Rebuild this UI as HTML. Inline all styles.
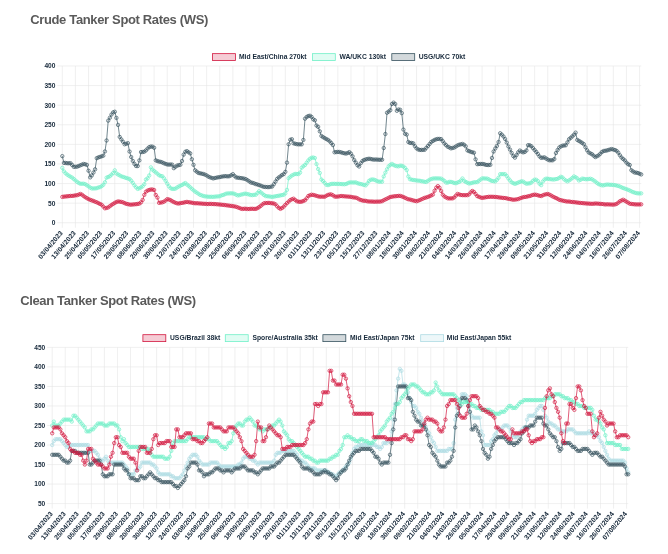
<!DOCTYPE html>
<html lang="en"><head><meta charset="utf-8"><title>Tanker Spot Rates</title>
<style>
html,body{margin:0;padding:0;background:#fff;}
body{width:668px;height:554px;overflow:hidden;font-family:"Liberation Sans",sans-serif;}
svg{display:block;position:absolute;left:0;top:0;will-change:transform;opacity:0.999}
svg text{font-family:"Liberation Sans",sans-serif;font-weight:700;font-size:6.6px;fill:#16283a;}
svg text.lg{font-size:6.75px}
svg text.xl{font-size:6.85px}
svg text.title{font-size:13px;fill:#5a5a5a;letter-spacing:-0.35px}
</style></head><body>
<svg width="668" height="554" viewBox="0 0 668 554">
<text class="title" x="30.2" y="23.9">Crude Tanker Spot Rates (WS)</text>
<path d="M57.30 222.75H641.22M57.30 203.16H641.22M57.30 183.56H641.22M57.30 163.97H641.22M57.30 144.38H641.22M57.30 124.78H641.22M57.30 105.19H641.22M57.30 85.59H641.22M57.30 66.00H641.22M62.30 66.00V227.75M75.42 66.00V227.75M88.54 66.00V227.75M101.66 66.00V227.75M114.78 66.00V227.75M127.90 66.00V227.75M141.02 66.00V227.75M154.14 66.00V227.75M167.26 66.00V227.75M180.38 66.00V227.75M193.50 66.00V227.75M206.62 66.00V227.75M219.74 66.00V227.75M232.86 66.00V227.75M245.98 66.00V227.75M259.10 66.00V227.75M272.22 66.00V227.75M285.34 66.00V227.75M298.46 66.00V227.75M311.58 66.00V227.75M324.70 66.00V227.75M337.82 66.00V227.75M350.94 66.00V227.75M364.06 66.00V227.75M377.18 66.00V227.75M390.30 66.00V227.75M403.42 66.00V227.75M416.54 66.00V227.75M429.66 66.00V227.75M442.78 66.00V227.75M455.90 66.00V227.75M469.02 66.00V227.75M482.14 66.00V227.75M495.26 66.00V227.75M508.38 66.00V227.75M521.50 66.00V227.75M534.62 66.00V227.75M547.74 66.00V227.75M560.86 66.00V227.75M573.98 66.00V227.75M587.10 66.00V227.75M600.22 66.00V227.75M613.34 66.00V227.75M626.46 66.00V227.75M639.58 66.00V227.75" stroke="#e6e6e6" stroke-width="0.6" fill="none"/>
<text x="55.40" y="225.10" text-anchor="end">0</text>
<text x="55.40" y="205.51" text-anchor="end">50</text>
<text x="55.40" y="185.91" text-anchor="end">100</text>
<text x="55.40" y="166.32" text-anchor="end">150</text>
<text x="55.40" y="146.72" text-anchor="end">200</text>
<text x="55.40" y="127.13" text-anchor="end">250</text>
<text x="55.40" y="107.54" text-anchor="end">300</text>
<text x="55.40" y="87.94" text-anchor="end">350</text>
<text x="55.40" y="68.35" text-anchor="end">400</text>
<text transform="translate(63.20 233.25) rotate(-50)" text-anchor="end" class="xl">03/04/2023</text>
<text transform="translate(76.32 233.25) rotate(-50)" text-anchor="end" class="xl">13/04/2023</text>
<text transform="translate(89.44 233.25) rotate(-50)" text-anchor="end" class="xl">25/04/2023</text>
<text transform="translate(102.56 233.25) rotate(-50)" text-anchor="end" class="xl">05/05/2023</text>
<text transform="translate(115.68 233.25) rotate(-50)" text-anchor="end" class="xl">17/05/2023</text>
<text transform="translate(128.80 233.25) rotate(-50)" text-anchor="end" class="xl">29/05/2023</text>
<text transform="translate(141.92 233.25) rotate(-50)" text-anchor="end" class="xl">08/06/2023</text>
<text transform="translate(155.04 233.25) rotate(-50)" text-anchor="end" class="xl">20/06/2023</text>
<text transform="translate(168.16 233.25) rotate(-50)" text-anchor="end" class="xl">30/06/2023</text>
<text transform="translate(181.28 233.25) rotate(-50)" text-anchor="end" class="xl">12/07/2023</text>
<text transform="translate(194.40 233.25) rotate(-50)" text-anchor="end" class="xl">24/07/2023</text>
<text transform="translate(207.52 233.25) rotate(-50)" text-anchor="end" class="xl">03/08/2023</text>
<text transform="translate(220.64 233.25) rotate(-50)" text-anchor="end" class="xl">15/08/2023</text>
<text transform="translate(233.76 233.25) rotate(-50)" text-anchor="end" class="xl">25/08/2023</text>
<text transform="translate(246.88 233.25) rotate(-50)" text-anchor="end" class="xl">06/09/2023</text>
<text transform="translate(260.00 233.25) rotate(-50)" text-anchor="end" class="xl">18/09/2023</text>
<text transform="translate(273.12 233.25) rotate(-50)" text-anchor="end" class="xl">28/09/2023</text>
<text transform="translate(286.24 233.25) rotate(-50)" text-anchor="end" class="xl">10/10/2023</text>
<text transform="translate(299.36 233.25) rotate(-50)" text-anchor="end" class="xl">20/10/2023</text>
<text transform="translate(312.48 233.25) rotate(-50)" text-anchor="end" class="xl">01/11/2023</text>
<text transform="translate(325.60 233.25) rotate(-50)" text-anchor="end" class="xl">13/11/2023</text>
<text transform="translate(338.72 233.25) rotate(-50)" text-anchor="end" class="xl">23/11/2023</text>
<text transform="translate(351.84 233.25) rotate(-50)" text-anchor="end" class="xl">05/12/2023</text>
<text transform="translate(364.96 233.25) rotate(-50)" text-anchor="end" class="xl">15/12/2023</text>
<text transform="translate(378.08 233.25) rotate(-50)" text-anchor="end" class="xl">27/12/2023</text>
<text transform="translate(391.20 233.25) rotate(-50)" text-anchor="end" class="xl">08/01/2024</text>
<text transform="translate(404.32 233.25) rotate(-50)" text-anchor="end" class="xl">18/01/2024</text>
<text transform="translate(417.44 233.25) rotate(-50)" text-anchor="end" class="xl">30/01/2024</text>
<text transform="translate(430.56 233.25) rotate(-50)" text-anchor="end" class="xl">09/02/2024</text>
<text transform="translate(443.68 233.25) rotate(-50)" text-anchor="end" class="xl">21/02/2024</text>
<text transform="translate(456.80 233.25) rotate(-50)" text-anchor="end" class="xl">04/03/2024</text>
<text transform="translate(469.92 233.25) rotate(-50)" text-anchor="end" class="xl">14/03/2024</text>
<text transform="translate(483.04 233.25) rotate(-50)" text-anchor="end" class="xl">26/03/2024</text>
<text transform="translate(496.16 233.25) rotate(-50)" text-anchor="end" class="xl">05/04/2024</text>
<text transform="translate(509.28 233.25) rotate(-50)" text-anchor="end" class="xl">17/04/2024</text>
<text transform="translate(522.40 233.25) rotate(-50)" text-anchor="end" class="xl">29/04/2024</text>
<text transform="translate(535.52 233.25) rotate(-50)" text-anchor="end" class="xl">09/05/2024</text>
<text transform="translate(548.64 233.25) rotate(-50)" text-anchor="end" class="xl">21/05/2024</text>
<text transform="translate(561.76 233.25) rotate(-50)" text-anchor="end" class="xl">31/05/2024</text>
<text transform="translate(574.88 233.25) rotate(-50)" text-anchor="end" class="xl">12/06/2024</text>
<text transform="translate(588.00 233.25) rotate(-50)" text-anchor="end" class="xl">24/06/2024</text>
<text transform="translate(601.12 233.25) rotate(-50)" text-anchor="end" class="xl">04/07/2024</text>
<text transform="translate(614.24 233.25) rotate(-50)" text-anchor="end" class="xl">16/07/2024</text>
<text transform="translate(627.36 233.25) rotate(-50)" text-anchor="end" class="xl">26/07/2024</text>
<text transform="translate(640.48 233.25) rotate(-50)" text-anchor="end" class="xl">07/08/2024</text>
<g stroke="#37535f" fill="rgba(55,83,95,0.09)">
<polyline points="62.30,156.13 63.94,162.92 65.58,162.96 67.22,163.22 68.86,163.27 70.50,163.17 72.14,164.93 73.78,166.87 75.42,166.77 77.06,166.68 78.70,165.99 80.34,165.29 81.98,164.63 83.62,163.98 85.26,164.26 86.90,164.88 88.54,170.76 90.18,177.38 91.82,175.42 93.46,172.53 95.10,169.32 96.74,158.16 98.38,157.42 100.02,156.87 101.66,156.30 103.30,155.69 104.94,151.47 106.58,140.49 108.22,120.64 109.86,117.73 111.50,114.54 113.14,112.36 114.78,111.73 116.42,117.91 118.06,124.90 119.70,136.92 121.34,139.42 122.98,141.74 124.62,144.29 126.26,143.77 127.90,143.15 129.54,151.52 131.18,157.01 132.82,160.93 134.46,163.93 136.10,166.04 137.74,166.04 139.38,160.40 141.02,152.07 142.66,151.99 144.30,151.69 145.94,150.41 147.58,148.59 149.22,147.12 150.86,146.56 152.50,146.67 154.14,147.79 155.78,160.33 157.42,161.06 159.06,161.59 160.70,161.86 162.34,162.45 163.98,163.28 165.62,163.90 167.26,164.48 168.90,164.61 170.54,164.51 172.18,164.64 173.82,168.17 175.46,166.80 177.10,165.59 178.74,165.12 180.38,164.79 182.02,161.00 183.66,154.68 185.30,151.75 186.94,151.12 188.58,152.27 190.22,153.38 191.86,159.25 193.50,164.83 195.14,170.31 196.78,171.68 198.42,172.95 200.06,173.29 201.70,173.68 203.34,174.01 204.98,174.61 206.62,175.40 208.26,176.55 209.90,177.28 211.54,177.84 213.18,178.42 214.82,178.03 216.46,177.67 218.10,177.32 219.74,177.11 221.38,176.71 223.02,176.42 224.66,176.18 226.30,176.21 227.94,176.41 229.58,176.14 231.22,175.23 232.86,174.14 234.50,175.90 236.14,177.43 237.78,177.69 239.42,177.90 241.06,178.10 242.70,178.38 244.34,178.70 245.98,179.24 247.62,180.25 249.26,181.33 250.90,182.51 252.54,182.85 254.18,183.38 255.82,184.13 257.46,184.49 259.10,185.09 260.74,185.65 262.38,186.33 264.02,186.85 265.66,186.98 267.30,187.05 268.94,187.13 270.58,186.79 272.22,186.47 273.86,184.22 275.50,181.59 277.14,178.89 278.78,177.48 280.42,176.31 282.06,174.96 283.70,174.11 285.34,171.85 286.98,162.64 288.62,144.24 290.26,139.76 291.90,139.23 293.54,143.33 295.18,143.72 296.82,144.19 298.46,144.33 300.10,144.33 301.74,144.33 303.38,139.95 305.02,118.69 306.66,116.97 308.30,116.05 309.94,115.74 311.58,116.89 313.22,119.32 314.86,120.27 316.50,125.52 318.14,126.88 319.78,131.35 321.42,135.93 323.06,137.15 324.70,138.08 326.34,139.07 327.98,139.85 329.62,141.29 331.26,143.02 332.90,145.04 334.54,152.30 336.18,152.10 337.82,151.89 339.46,152.02 341.10,152.35 342.74,152.92 344.38,153.25 346.02,153.59 347.66,153.04 349.30,152.13 350.94,153.62 352.58,156.31 354.22,160.01 355.86,162.64 357.50,165.26 359.14,166.52 360.78,163.20 362.42,161.04 364.06,159.96 365.70,159.42 367.34,159.07 368.98,158.72 370.62,158.97 372.26,159.35 373.90,159.62 375.54,159.51 377.18,159.59 378.82,159.77 380.46,159.77 382.10,159.77 383.74,148.01 385.38,134.02 387.02,112.74 388.66,111.60 390.30,110.19 391.94,104.00 393.58,102.63 395.22,103.99 396.86,110.80 398.50,109.51 400.14,109.75 401.78,113.10 403.42,129.60 405.06,133.76 406.70,134.55 408.34,141.96 409.98,142.94 411.62,142.94 413.26,143.33 414.90,146.16 416.54,148.34 418.18,149.44 419.82,149.95 421.46,149.91 423.10,149.88 424.74,149.73 426.38,147.78 428.02,145.90 429.66,143.94 431.30,141.91 432.94,140.94 434.58,139.90 436.22,139.30 437.86,138.91 439.50,138.95 441.14,139.08 442.78,141.16 444.42,143.48 446.06,145.12 447.70,146.76 449.34,147.39 450.98,148.37 452.62,147.93 454.26,147.53 455.90,146.50 457.54,145.40 459.18,144.73 460.82,144.35 462.46,143.97 464.10,144.77 465.74,146.37 467.38,150.36 469.02,151.10 470.66,151.82 472.30,152.28 473.94,152.71 475.58,159.35 477.22,164.16 478.86,164.03 480.50,164.00 482.14,163.95 483.78,164.13 485.42,164.76 487.06,164.99 488.70,164.99 490.34,164.84 491.98,157.94 493.62,151.50 495.26,148.48 496.90,145.90 498.54,142.00 500.18,133.26 501.82,134.66 503.46,136.44 505.10,138.96 506.74,142.58 508.38,146.42 510.02,149.60 511.66,152.92 513.30,156.01 514.94,157.66 516.58,155.01 518.22,152.27 519.86,150.55 521.50,151.68 523.14,152.37 524.78,151.95 526.42,150.40 528.06,145.20 529.70,145.25 531.34,146.19 532.98,148.13 534.62,150.05 536.26,151.89 537.90,154.05 539.54,156.42 541.18,157.82 542.82,157.64 544.46,157.34 546.10,158.57 547.74,159.51 549.38,160.29 551.02,160.30 552.66,160.30 554.30,159.04 555.94,153.05 557.58,150.02 559.22,147.51 560.86,146.48 562.50,145.69 564.14,145.48 565.78,145.27 567.42,142.34 569.06,139.23 570.70,137.81 572.34,136.31 573.98,134.69 575.62,132.62 577.26,139.91 578.90,140.90 580.54,141.85 582.18,142.93 583.82,144.13 585.46,147.22 587.10,150.25 588.74,152.50 590.38,153.36 592.02,154.22 593.66,155.73 595.30,157.09 596.94,156.25 598.58,155.32 600.22,153.84 601.86,152.01 603.50,151.03 605.14,150.77 606.78,150.51 608.42,149.97 610.06,149.50 611.70,149.04 613.34,149.58 614.98,150.02 616.62,150.91 618.26,152.63 619.90,155.25 621.54,157.54 623.18,159.00 624.82,160.42 626.46,162.64 628.10,164.21 629.74,164.97 631.38,170.21 633.02,171.46 634.66,172.58 636.30,172.61 637.94,173.04 639.58,173.79 641.22,174.43" fill="none" stroke-width="0.7"/>
<g stroke-width="0.65"><circle cx="62.30" cy="156.13" r="1.7"/><circle cx="63.94" cy="162.92" r="1.7"/><circle cx="65.58" cy="162.96" r="1.7"/><circle cx="67.22" cy="163.22" r="1.7"/><circle cx="68.86" cy="163.27" r="1.7"/><circle cx="70.50" cy="163.17" r="1.7"/><circle cx="72.14" cy="164.93" r="1.7"/><circle cx="73.78" cy="166.87" r="1.7"/><circle cx="75.42" cy="166.77" r="1.7"/><circle cx="77.06" cy="166.68" r="1.7"/><circle cx="78.70" cy="165.99" r="1.7"/><circle cx="80.34" cy="165.29" r="1.7"/><circle cx="81.98" cy="164.63" r="1.7"/><circle cx="83.62" cy="163.98" r="1.7"/><circle cx="85.26" cy="164.26" r="1.7"/><circle cx="86.90" cy="164.88" r="1.7"/><circle cx="88.54" cy="170.76" r="1.7"/><circle cx="90.18" cy="177.38" r="1.7"/><circle cx="91.82" cy="175.42" r="1.7"/><circle cx="93.46" cy="172.53" r="1.7"/><circle cx="95.10" cy="169.32" r="1.7"/><circle cx="96.74" cy="158.16" r="1.7"/><circle cx="98.38" cy="157.42" r="1.7"/><circle cx="100.02" cy="156.87" r="1.7"/><circle cx="101.66" cy="156.30" r="1.7"/><circle cx="103.30" cy="155.69" r="1.7"/><circle cx="104.94" cy="151.47" r="1.7"/><circle cx="106.58" cy="140.49" r="1.7"/><circle cx="108.22" cy="120.64" r="1.7"/><circle cx="109.86" cy="117.73" r="1.7"/><circle cx="111.50" cy="114.54" r="1.7"/><circle cx="113.14" cy="112.36" r="1.7"/><circle cx="114.78" cy="111.73" r="1.7"/><circle cx="116.42" cy="117.91" r="1.7"/><circle cx="118.06" cy="124.90" r="1.7"/><circle cx="119.70" cy="136.92" r="1.7"/><circle cx="121.34" cy="139.42" r="1.7"/><circle cx="122.98" cy="141.74" r="1.7"/><circle cx="124.62" cy="144.29" r="1.7"/><circle cx="126.26" cy="143.77" r="1.7"/><circle cx="127.90" cy="143.15" r="1.7"/><circle cx="129.54" cy="151.52" r="1.7"/><circle cx="131.18" cy="157.01" r="1.7"/><circle cx="132.82" cy="160.93" r="1.7"/><circle cx="134.46" cy="163.93" r="1.7"/><circle cx="136.10" cy="166.04" r="1.7"/><circle cx="137.74" cy="166.04" r="1.7"/><circle cx="139.38" cy="160.40" r="1.7"/><circle cx="141.02" cy="152.07" r="1.7"/><circle cx="142.66" cy="151.99" r="1.7"/><circle cx="144.30" cy="151.69" r="1.7"/><circle cx="145.94" cy="150.41" r="1.7"/><circle cx="147.58" cy="148.59" r="1.7"/><circle cx="149.22" cy="147.12" r="1.7"/><circle cx="150.86" cy="146.56" r="1.7"/><circle cx="152.50" cy="146.67" r="1.7"/><circle cx="154.14" cy="147.79" r="1.7"/><circle cx="155.78" cy="160.33" r="1.7"/><circle cx="157.42" cy="161.06" r="1.7"/><circle cx="159.06" cy="161.59" r="1.7"/><circle cx="160.70" cy="161.86" r="1.7"/><circle cx="162.34" cy="162.45" r="1.7"/><circle cx="163.98" cy="163.28" r="1.7"/><circle cx="165.62" cy="163.90" r="1.7"/><circle cx="167.26" cy="164.48" r="1.7"/><circle cx="168.90" cy="164.61" r="1.7"/><circle cx="170.54" cy="164.51" r="1.7"/><circle cx="172.18" cy="164.64" r="1.7"/><circle cx="173.82" cy="168.17" r="1.7"/><circle cx="175.46" cy="166.80" r="1.7"/><circle cx="177.10" cy="165.59" r="1.7"/><circle cx="178.74" cy="165.12" r="1.7"/><circle cx="180.38" cy="164.79" r="1.7"/><circle cx="182.02" cy="161.00" r="1.7"/><circle cx="183.66" cy="154.68" r="1.7"/><circle cx="185.30" cy="151.75" r="1.7"/><circle cx="186.94" cy="151.12" r="1.7"/><circle cx="188.58" cy="152.27" r="1.7"/><circle cx="190.22" cy="153.38" r="1.7"/><circle cx="191.86" cy="159.25" r="1.7"/><circle cx="193.50" cy="164.83" r="1.7"/><circle cx="195.14" cy="170.31" r="1.7"/><circle cx="196.78" cy="171.68" r="1.7"/><circle cx="198.42" cy="172.95" r="1.7"/><circle cx="200.06" cy="173.29" r="1.7"/><circle cx="201.70" cy="173.68" r="1.7"/><circle cx="203.34" cy="174.01" r="1.7"/><circle cx="204.98" cy="174.61" r="1.7"/><circle cx="206.62" cy="175.40" r="1.7"/><circle cx="208.26" cy="176.55" r="1.7"/><circle cx="209.90" cy="177.28" r="1.7"/><circle cx="211.54" cy="177.84" r="1.7"/><circle cx="213.18" cy="178.42" r="1.7"/><circle cx="214.82" cy="178.03" r="1.7"/><circle cx="216.46" cy="177.67" r="1.7"/><circle cx="218.10" cy="177.32" r="1.7"/><circle cx="219.74" cy="177.11" r="1.7"/><circle cx="221.38" cy="176.71" r="1.7"/><circle cx="223.02" cy="176.42" r="1.7"/><circle cx="224.66" cy="176.18" r="1.7"/><circle cx="226.30" cy="176.21" r="1.7"/><circle cx="227.94" cy="176.41" r="1.7"/><circle cx="229.58" cy="176.14" r="1.7"/><circle cx="231.22" cy="175.23" r="1.7"/><circle cx="232.86" cy="174.14" r="1.7"/><circle cx="234.50" cy="175.90" r="1.7"/><circle cx="236.14" cy="177.43" r="1.7"/><circle cx="237.78" cy="177.69" r="1.7"/><circle cx="239.42" cy="177.90" r="1.7"/><circle cx="241.06" cy="178.10" r="1.7"/><circle cx="242.70" cy="178.38" r="1.7"/><circle cx="244.34" cy="178.70" r="1.7"/><circle cx="245.98" cy="179.24" r="1.7"/><circle cx="247.62" cy="180.25" r="1.7"/><circle cx="249.26" cy="181.33" r="1.7"/><circle cx="250.90" cy="182.51" r="1.7"/><circle cx="252.54" cy="182.85" r="1.7"/><circle cx="254.18" cy="183.38" r="1.7"/><circle cx="255.82" cy="184.13" r="1.7"/><circle cx="257.46" cy="184.49" r="1.7"/><circle cx="259.10" cy="185.09" r="1.7"/><circle cx="260.74" cy="185.65" r="1.7"/><circle cx="262.38" cy="186.33" r="1.7"/><circle cx="264.02" cy="186.85" r="1.7"/><circle cx="265.66" cy="186.98" r="1.7"/><circle cx="267.30" cy="187.05" r="1.7"/><circle cx="268.94" cy="187.13" r="1.7"/><circle cx="270.58" cy="186.79" r="1.7"/><circle cx="272.22" cy="186.47" r="1.7"/><circle cx="273.86" cy="184.22" r="1.7"/><circle cx="275.50" cy="181.59" r="1.7"/><circle cx="277.14" cy="178.89" r="1.7"/><circle cx="278.78" cy="177.48" r="1.7"/><circle cx="280.42" cy="176.31" r="1.7"/><circle cx="282.06" cy="174.96" r="1.7"/><circle cx="283.70" cy="174.11" r="1.7"/><circle cx="285.34" cy="171.85" r="1.7"/><circle cx="286.98" cy="162.64" r="1.7"/><circle cx="288.62" cy="144.24" r="1.7"/><circle cx="290.26" cy="139.76" r="1.7"/><circle cx="291.90" cy="139.23" r="1.7"/><circle cx="293.54" cy="143.33" r="1.7"/><circle cx="295.18" cy="143.72" r="1.7"/><circle cx="296.82" cy="144.19" r="1.7"/><circle cx="298.46" cy="144.33" r="1.7"/><circle cx="300.10" cy="144.33" r="1.7"/><circle cx="301.74" cy="144.33" r="1.7"/><circle cx="303.38" cy="139.95" r="1.7"/><circle cx="305.02" cy="118.69" r="1.7"/><circle cx="306.66" cy="116.97" r="1.7"/><circle cx="308.30" cy="116.05" r="1.7"/><circle cx="309.94" cy="115.74" r="1.7"/><circle cx="311.58" cy="116.89" r="1.7"/><circle cx="313.22" cy="119.32" r="1.7"/><circle cx="314.86" cy="120.27" r="1.7"/><circle cx="316.50" cy="125.52" r="1.7"/><circle cx="318.14" cy="126.88" r="1.7"/><circle cx="319.78" cy="131.35" r="1.7"/><circle cx="321.42" cy="135.93" r="1.7"/><circle cx="323.06" cy="137.15" r="1.7"/><circle cx="324.70" cy="138.08" r="1.7"/><circle cx="326.34" cy="139.07" r="1.7"/><circle cx="327.98" cy="139.85" r="1.7"/><circle cx="329.62" cy="141.29" r="1.7"/><circle cx="331.26" cy="143.02" r="1.7"/><circle cx="332.90" cy="145.04" r="1.7"/><circle cx="334.54" cy="152.30" r="1.7"/><circle cx="336.18" cy="152.10" r="1.7"/><circle cx="337.82" cy="151.89" r="1.7"/><circle cx="339.46" cy="152.02" r="1.7"/><circle cx="341.10" cy="152.35" r="1.7"/><circle cx="342.74" cy="152.92" r="1.7"/><circle cx="344.38" cy="153.25" r="1.7"/><circle cx="346.02" cy="153.59" r="1.7"/><circle cx="347.66" cy="153.04" r="1.7"/><circle cx="349.30" cy="152.13" r="1.7"/><circle cx="350.94" cy="153.62" r="1.7"/><circle cx="352.58" cy="156.31" r="1.7"/><circle cx="354.22" cy="160.01" r="1.7"/><circle cx="355.86" cy="162.64" r="1.7"/><circle cx="357.50" cy="165.26" r="1.7"/><circle cx="359.14" cy="166.52" r="1.7"/><circle cx="360.78" cy="163.20" r="1.7"/><circle cx="362.42" cy="161.04" r="1.7"/><circle cx="364.06" cy="159.96" r="1.7"/><circle cx="365.70" cy="159.42" r="1.7"/><circle cx="367.34" cy="159.07" r="1.7"/><circle cx="368.98" cy="158.72" r="1.7"/><circle cx="370.62" cy="158.97" r="1.7"/><circle cx="372.26" cy="159.35" r="1.7"/><circle cx="373.90" cy="159.62" r="1.7"/><circle cx="375.54" cy="159.51" r="1.7"/><circle cx="377.18" cy="159.59" r="1.7"/><circle cx="378.82" cy="159.77" r="1.7"/><circle cx="380.46" cy="159.77" r="1.7"/><circle cx="382.10" cy="159.77" r="1.7"/><circle cx="383.74" cy="148.01" r="1.7"/><circle cx="385.38" cy="134.02" r="1.7"/><circle cx="387.02" cy="112.74" r="1.7"/><circle cx="388.66" cy="111.60" r="1.7"/><circle cx="390.30" cy="110.19" r="1.7"/><circle cx="391.94" cy="104.00" r="1.7"/><circle cx="393.58" cy="102.63" r="1.7"/><circle cx="395.22" cy="103.99" r="1.7"/><circle cx="396.86" cy="110.80" r="1.7"/><circle cx="398.50" cy="109.51" r="1.7"/><circle cx="400.14" cy="109.75" r="1.7"/><circle cx="401.78" cy="113.10" r="1.7"/><circle cx="403.42" cy="129.60" r="1.7"/><circle cx="405.06" cy="133.76" r="1.7"/><circle cx="406.70" cy="134.55" r="1.7"/><circle cx="408.34" cy="141.96" r="1.7"/><circle cx="409.98" cy="142.94" r="1.7"/><circle cx="411.62" cy="142.94" r="1.7"/><circle cx="413.26" cy="143.33" r="1.7"/><circle cx="414.90" cy="146.16" r="1.7"/><circle cx="416.54" cy="148.34" r="1.7"/><circle cx="418.18" cy="149.44" r="1.7"/><circle cx="419.82" cy="149.95" r="1.7"/><circle cx="421.46" cy="149.91" r="1.7"/><circle cx="423.10" cy="149.88" r="1.7"/><circle cx="424.74" cy="149.73" r="1.7"/><circle cx="426.38" cy="147.78" r="1.7"/><circle cx="428.02" cy="145.90" r="1.7"/><circle cx="429.66" cy="143.94" r="1.7"/><circle cx="431.30" cy="141.91" r="1.7"/><circle cx="432.94" cy="140.94" r="1.7"/><circle cx="434.58" cy="139.90" r="1.7"/><circle cx="436.22" cy="139.30" r="1.7"/><circle cx="437.86" cy="138.91" r="1.7"/><circle cx="439.50" cy="138.95" r="1.7"/><circle cx="441.14" cy="139.08" r="1.7"/><circle cx="442.78" cy="141.16" r="1.7"/><circle cx="444.42" cy="143.48" r="1.7"/><circle cx="446.06" cy="145.12" r="1.7"/><circle cx="447.70" cy="146.76" r="1.7"/><circle cx="449.34" cy="147.39" r="1.7"/><circle cx="450.98" cy="148.37" r="1.7"/><circle cx="452.62" cy="147.93" r="1.7"/><circle cx="454.26" cy="147.53" r="1.7"/><circle cx="455.90" cy="146.50" r="1.7"/><circle cx="457.54" cy="145.40" r="1.7"/><circle cx="459.18" cy="144.73" r="1.7"/><circle cx="460.82" cy="144.35" r="1.7"/><circle cx="462.46" cy="143.97" r="1.7"/><circle cx="464.10" cy="144.77" r="1.7"/><circle cx="465.74" cy="146.37" r="1.7"/><circle cx="467.38" cy="150.36" r="1.7"/><circle cx="469.02" cy="151.10" r="1.7"/><circle cx="470.66" cy="151.82" r="1.7"/><circle cx="472.30" cy="152.28" r="1.7"/><circle cx="473.94" cy="152.71" r="1.7"/><circle cx="475.58" cy="159.35" r="1.7"/><circle cx="477.22" cy="164.16" r="1.7"/><circle cx="478.86" cy="164.03" r="1.7"/><circle cx="480.50" cy="164.00" r="1.7"/><circle cx="482.14" cy="163.95" r="1.7"/><circle cx="483.78" cy="164.13" r="1.7"/><circle cx="485.42" cy="164.76" r="1.7"/><circle cx="487.06" cy="164.99" r="1.7"/><circle cx="488.70" cy="164.99" r="1.7"/><circle cx="490.34" cy="164.84" r="1.7"/><circle cx="491.98" cy="157.94" r="1.7"/><circle cx="493.62" cy="151.50" r="1.7"/><circle cx="495.26" cy="148.48" r="1.7"/><circle cx="496.90" cy="145.90" r="1.7"/><circle cx="498.54" cy="142.00" r="1.7"/><circle cx="500.18" cy="133.26" r="1.7"/><circle cx="501.82" cy="134.66" r="1.7"/><circle cx="503.46" cy="136.44" r="1.7"/><circle cx="505.10" cy="138.96" r="1.7"/><circle cx="506.74" cy="142.58" r="1.7"/><circle cx="508.38" cy="146.42" r="1.7"/><circle cx="510.02" cy="149.60" r="1.7"/><circle cx="511.66" cy="152.92" r="1.7"/><circle cx="513.30" cy="156.01" r="1.7"/><circle cx="514.94" cy="157.66" r="1.7"/><circle cx="516.58" cy="155.01" r="1.7"/><circle cx="518.22" cy="152.27" r="1.7"/><circle cx="519.86" cy="150.55" r="1.7"/><circle cx="521.50" cy="151.68" r="1.7"/><circle cx="523.14" cy="152.37" r="1.7"/><circle cx="524.78" cy="151.95" r="1.7"/><circle cx="526.42" cy="150.40" r="1.7"/><circle cx="528.06" cy="145.20" r="1.7"/><circle cx="529.70" cy="145.25" r="1.7"/><circle cx="531.34" cy="146.19" r="1.7"/><circle cx="532.98" cy="148.13" r="1.7"/><circle cx="534.62" cy="150.05" r="1.7"/><circle cx="536.26" cy="151.89" r="1.7"/><circle cx="537.90" cy="154.05" r="1.7"/><circle cx="539.54" cy="156.42" r="1.7"/><circle cx="541.18" cy="157.82" r="1.7"/><circle cx="542.82" cy="157.64" r="1.7"/><circle cx="544.46" cy="157.34" r="1.7"/><circle cx="546.10" cy="158.57" r="1.7"/><circle cx="547.74" cy="159.51" r="1.7"/><circle cx="549.38" cy="160.29" r="1.7"/><circle cx="551.02" cy="160.30" r="1.7"/><circle cx="552.66" cy="160.30" r="1.7"/><circle cx="554.30" cy="159.04" r="1.7"/><circle cx="555.94" cy="153.05" r="1.7"/><circle cx="557.58" cy="150.02" r="1.7"/><circle cx="559.22" cy="147.51" r="1.7"/><circle cx="560.86" cy="146.48" r="1.7"/><circle cx="562.50" cy="145.69" r="1.7"/><circle cx="564.14" cy="145.48" r="1.7"/><circle cx="565.78" cy="145.27" r="1.7"/><circle cx="567.42" cy="142.34" r="1.7"/><circle cx="569.06" cy="139.23" r="1.7"/><circle cx="570.70" cy="137.81" r="1.7"/><circle cx="572.34" cy="136.31" r="1.7"/><circle cx="573.98" cy="134.69" r="1.7"/><circle cx="575.62" cy="132.62" r="1.7"/><circle cx="577.26" cy="139.91" r="1.7"/><circle cx="578.90" cy="140.90" r="1.7"/><circle cx="580.54" cy="141.85" r="1.7"/><circle cx="582.18" cy="142.93" r="1.7"/><circle cx="583.82" cy="144.13" r="1.7"/><circle cx="585.46" cy="147.22" r="1.7"/><circle cx="587.10" cy="150.25" r="1.7"/><circle cx="588.74" cy="152.50" r="1.7"/><circle cx="590.38" cy="153.36" r="1.7"/><circle cx="592.02" cy="154.22" r="1.7"/><circle cx="593.66" cy="155.73" r="1.7"/><circle cx="595.30" cy="157.09" r="1.7"/><circle cx="596.94" cy="156.25" r="1.7"/><circle cx="598.58" cy="155.32" r="1.7"/><circle cx="600.22" cy="153.84" r="1.7"/><circle cx="601.86" cy="152.01" r="1.7"/><circle cx="603.50" cy="151.03" r="1.7"/><circle cx="605.14" cy="150.77" r="1.7"/><circle cx="606.78" cy="150.51" r="1.7"/><circle cx="608.42" cy="149.97" r="1.7"/><circle cx="610.06" cy="149.50" r="1.7"/><circle cx="611.70" cy="149.04" r="1.7"/><circle cx="613.34" cy="149.58" r="1.7"/><circle cx="614.98" cy="150.02" r="1.7"/><circle cx="616.62" cy="150.91" r="1.7"/><circle cx="618.26" cy="152.63" r="1.7"/><circle cx="619.90" cy="155.25" r="1.7"/><circle cx="621.54" cy="157.54" r="1.7"/><circle cx="623.18" cy="159.00" r="1.7"/><circle cx="624.82" cy="160.42" r="1.7"/><circle cx="626.46" cy="162.64" r="1.7"/><circle cx="628.10" cy="164.21" r="1.7"/><circle cx="629.74" cy="164.97" r="1.7"/><circle cx="631.38" cy="170.21" r="1.7"/><circle cx="633.02" cy="171.46" r="1.7"/><circle cx="634.66" cy="172.58" r="1.7"/><circle cx="636.30" cy="172.61" r="1.7"/><circle cx="637.94" cy="173.04" r="1.7"/><circle cx="639.58" cy="173.79" r="1.7"/><circle cx="641.22" cy="174.43" r="1.7"/></g>
</g>
<g stroke="#70f0c8" fill="rgba(112,240,200,0.12)">
<polyline points="62.30,167.89 63.94,171.33 65.58,173.29 67.22,174.62 68.86,175.70 70.50,176.72 72.14,177.62 73.78,179.01 75.42,180.42 77.06,181.83 78.70,182.92 80.34,183.78 81.98,183.72 83.62,183.72 85.26,184.15 86.90,185.32 88.54,186.32 90.18,187.60 91.82,188.46 93.46,188.43 95.10,188.41 96.74,188.18 98.38,187.51 100.02,187.16 101.66,186.12 103.30,184.82 104.94,182.25 106.58,177.68 108.22,176.99 109.86,176.20 111.50,174.63 113.14,173.06 114.78,170.32 116.42,173.43 118.06,174.54 119.70,175.40 121.34,176.34 122.98,176.84 124.62,177.41 126.26,178.00 127.90,178.49 129.54,179.02 131.18,180.62 132.82,182.84 134.46,185.38 136.10,187.36 137.74,188.91 139.38,188.24 141.02,187.34 142.66,186.31 144.30,184.20 145.94,179.56 147.58,178.32 149.22,175.45 150.86,167.35 152.50,169.68 154.14,171.07 155.78,172.38 157.42,173.72 159.06,175.23 160.70,175.95 162.34,176.25 163.98,178.31 165.62,180.83 167.26,183.69 168.90,186.32 170.54,188.15 172.18,188.88 173.82,188.88 175.46,188.66 177.10,187.45 178.74,186.50 180.38,185.71 182.02,184.98 183.66,183.95 185.30,183.03 186.94,184.56 188.58,185.82 190.22,187.29 191.86,188.82 193.50,190.26 195.14,191.63 196.78,192.67 198.42,193.75 200.06,194.82 201.70,195.39 203.34,195.96 204.98,196.40 206.62,196.47 208.26,196.78 209.90,196.78 211.54,196.78 213.18,196.86 214.82,196.67 216.46,196.48 218.10,196.42 219.74,196.21 221.38,195.42 223.02,195.01 224.66,194.29 226.30,193.63 227.94,193.42 229.58,193.41 231.22,193.30 232.86,193.42 234.50,193.85 236.14,194.72 237.78,195.44 239.42,195.16 241.06,194.56 242.70,194.30 244.34,193.74 245.98,193.68 247.62,194.18 249.26,194.52 250.90,195.09 252.54,195.12 254.18,194.83 255.82,194.75 257.46,193.00 259.10,191.18 260.74,192.37 262.38,193.64 264.02,195.00 265.66,196.11 267.30,196.25 268.94,196.44 270.58,196.64 272.22,196.90 273.86,196.62 275.50,196.29 277.14,196.01 278.78,195.73 280.42,195.41 282.06,195.07 283.70,194.74 285.34,193.34 286.98,189.89 288.62,178.21 290.26,176.81 291.90,175.52 293.54,174.70 295.18,173.91 296.82,174.07 298.46,174.07 300.10,172.54 301.74,167.65 303.38,166.20 305.02,164.97 306.66,162.73 308.30,160.42 309.94,158.80 311.58,157.76 313.22,157.56 314.86,158.02 316.50,164.08 318.14,169.05 319.78,172.97 321.42,179.53 323.06,181.03 324.70,182.91 326.34,184.76 327.98,185.13 329.62,184.51 331.26,183.97 332.90,183.85 334.54,183.82 336.18,183.93 337.82,183.88 339.46,183.95 341.10,184.05 342.74,184.15 344.38,184.28 346.02,184.02 347.66,183.20 349.30,182.54 350.94,182.38 352.58,182.49 354.22,182.49 355.86,182.38 357.50,183.20 359.14,183.69 360.78,184.08 362.42,184.40 364.06,184.95 365.70,185.35 367.34,183.49 368.98,180.91 370.62,179.80 372.26,179.46 373.90,179.65 375.54,180.22 377.18,181.15 378.82,181.71 380.46,181.60 382.10,181.75 383.74,176.42 385.38,172.66 387.02,169.30 388.66,166.27 390.30,164.90 391.94,163.89 393.58,165.03 395.22,165.73 396.86,166.18 398.50,166.34 400.14,165.65 401.78,165.80 403.42,166.54 405.06,167.90 406.70,170.06 408.34,176.49 409.98,179.26 411.62,179.62 413.26,179.99 414.90,180.17 416.54,180.49 418.18,180.64 419.82,180.78 421.46,181.19 423.10,181.41 424.74,181.86 426.38,181.91 428.02,180.79 429.66,179.73 431.30,179.03 432.94,178.50 434.58,178.42 436.22,178.42 437.86,178.42 439.50,178.48 441.14,178.64 442.78,179.72 444.42,180.86 446.06,182.63 447.70,182.61 449.34,181.86 450.98,181.88 452.62,182.33 454.26,182.95 455.90,183.21 457.54,182.53 459.18,181.93 460.82,180.60 462.46,178.45 464.10,180.84 465.74,181.94 467.38,182.72 469.02,183.51 470.66,183.27 472.30,182.84 473.94,182.31 475.58,182.22 477.22,182.12 478.86,180.82 480.50,179.59 482.14,178.41 483.78,178.41 485.42,178.56 487.06,178.56 488.70,179.25 490.34,180.22 491.98,180.94 493.62,181.14 495.26,181.43 496.90,179.84 498.54,177.79 500.18,174.15 501.82,174.15 503.46,174.15 505.10,174.15 506.74,176.05 508.38,178.46 510.02,180.42 511.66,182.30 513.30,183.16 514.94,183.87 516.58,183.22 518.22,182.58 519.86,181.93 521.50,181.26 523.14,181.58 524.78,182.79 526.42,183.75 528.06,183.49 529.70,183.32 531.34,182.62 532.98,180.80 534.62,179.63 536.26,179.76 537.90,181.10 539.54,183.75 541.18,185.16 542.82,181.51 544.46,179.56 546.10,178.65 547.74,178.76 549.38,179.04 551.02,179.23 552.66,179.44 554.30,179.46 555.94,179.07 557.58,178.83 559.22,177.91 560.86,176.77 562.50,177.45 564.14,179.32 565.78,180.49 567.42,181.36 569.06,180.38 570.70,179.33 572.34,177.99 573.98,176.39 575.62,177.27 577.26,178.36 578.90,180.49 580.54,179.78 582.18,178.61 583.82,178.87 585.46,179.19 587.10,179.25 588.74,179.00 590.38,178.74 592.02,179.29 593.66,180.42 595.30,181.47 596.94,182.89 598.58,184.15 600.22,184.72 601.86,185.31 603.50,185.39 605.14,184.86 606.78,184.61 608.42,184.59 610.06,184.82 611.70,184.82 613.34,184.98 614.98,185.14 616.62,185.61 618.26,185.89 619.90,186.53 621.54,187.30 623.18,188.03 624.82,188.62 626.46,189.16 628.10,189.83 629.74,190.57 631.38,191.30 633.02,192.10 634.66,192.67 636.30,193.09 637.94,193.37 639.58,193.40 641.22,193.36" fill="none" stroke-width="0.7"/>
<g stroke-width="0.65"><circle cx="62.30" cy="167.89" r="1.7"/><circle cx="63.94" cy="171.33" r="1.7"/><circle cx="65.58" cy="173.29" r="1.7"/><circle cx="67.22" cy="174.62" r="1.7"/><circle cx="68.86" cy="175.70" r="1.7"/><circle cx="70.50" cy="176.72" r="1.7"/><circle cx="72.14" cy="177.62" r="1.7"/><circle cx="73.78" cy="179.01" r="1.7"/><circle cx="75.42" cy="180.42" r="1.7"/><circle cx="77.06" cy="181.83" r="1.7"/><circle cx="78.70" cy="182.92" r="1.7"/><circle cx="80.34" cy="183.78" r="1.7"/><circle cx="81.98" cy="183.72" r="1.7"/><circle cx="83.62" cy="183.72" r="1.7"/><circle cx="85.26" cy="184.15" r="1.7"/><circle cx="86.90" cy="185.32" r="1.7"/><circle cx="88.54" cy="186.32" r="1.7"/><circle cx="90.18" cy="187.60" r="1.7"/><circle cx="91.82" cy="188.46" r="1.7"/><circle cx="93.46" cy="188.43" r="1.7"/><circle cx="95.10" cy="188.41" r="1.7"/><circle cx="96.74" cy="188.18" r="1.7"/><circle cx="98.38" cy="187.51" r="1.7"/><circle cx="100.02" cy="187.16" r="1.7"/><circle cx="101.66" cy="186.12" r="1.7"/><circle cx="103.30" cy="184.82" r="1.7"/><circle cx="104.94" cy="182.25" r="1.7"/><circle cx="106.58" cy="177.68" r="1.7"/><circle cx="108.22" cy="176.99" r="1.7"/><circle cx="109.86" cy="176.20" r="1.7"/><circle cx="111.50" cy="174.63" r="1.7"/><circle cx="113.14" cy="173.06" r="1.7"/><circle cx="114.78" cy="170.32" r="1.7"/><circle cx="116.42" cy="173.43" r="1.7"/><circle cx="118.06" cy="174.54" r="1.7"/><circle cx="119.70" cy="175.40" r="1.7"/><circle cx="121.34" cy="176.34" r="1.7"/><circle cx="122.98" cy="176.84" r="1.7"/><circle cx="124.62" cy="177.41" r="1.7"/><circle cx="126.26" cy="178.00" r="1.7"/><circle cx="127.90" cy="178.49" r="1.7"/><circle cx="129.54" cy="179.02" r="1.7"/><circle cx="131.18" cy="180.62" r="1.7"/><circle cx="132.82" cy="182.84" r="1.7"/><circle cx="134.46" cy="185.38" r="1.7"/><circle cx="136.10" cy="187.36" r="1.7"/><circle cx="137.74" cy="188.91" r="1.7"/><circle cx="139.38" cy="188.24" r="1.7"/><circle cx="141.02" cy="187.34" r="1.7"/><circle cx="142.66" cy="186.31" r="1.7"/><circle cx="144.30" cy="184.20" r="1.7"/><circle cx="145.94" cy="179.56" r="1.7"/><circle cx="147.58" cy="178.32" r="1.7"/><circle cx="149.22" cy="175.45" r="1.7"/><circle cx="150.86" cy="167.35" r="1.7"/><circle cx="152.50" cy="169.68" r="1.7"/><circle cx="154.14" cy="171.07" r="1.7"/><circle cx="155.78" cy="172.38" r="1.7"/><circle cx="157.42" cy="173.72" r="1.7"/><circle cx="159.06" cy="175.23" r="1.7"/><circle cx="160.70" cy="175.95" r="1.7"/><circle cx="162.34" cy="176.25" r="1.7"/><circle cx="163.98" cy="178.31" r="1.7"/><circle cx="165.62" cy="180.83" r="1.7"/><circle cx="167.26" cy="183.69" r="1.7"/><circle cx="168.90" cy="186.32" r="1.7"/><circle cx="170.54" cy="188.15" r="1.7"/><circle cx="172.18" cy="188.88" r="1.7"/><circle cx="173.82" cy="188.88" r="1.7"/><circle cx="175.46" cy="188.66" r="1.7"/><circle cx="177.10" cy="187.45" r="1.7"/><circle cx="178.74" cy="186.50" r="1.7"/><circle cx="180.38" cy="185.71" r="1.7"/><circle cx="182.02" cy="184.98" r="1.7"/><circle cx="183.66" cy="183.95" r="1.7"/><circle cx="185.30" cy="183.03" r="1.7"/><circle cx="186.94" cy="184.56" r="1.7"/><circle cx="188.58" cy="185.82" r="1.7"/><circle cx="190.22" cy="187.29" r="1.7"/><circle cx="191.86" cy="188.82" r="1.7"/><circle cx="193.50" cy="190.26" r="1.7"/><circle cx="195.14" cy="191.63" r="1.7"/><circle cx="196.78" cy="192.67" r="1.7"/><circle cx="198.42" cy="193.75" r="1.7"/><circle cx="200.06" cy="194.82" r="1.7"/><circle cx="201.70" cy="195.39" r="1.7"/><circle cx="203.34" cy="195.96" r="1.7"/><circle cx="204.98" cy="196.40" r="1.7"/><circle cx="206.62" cy="196.47" r="1.7"/><circle cx="208.26" cy="196.78" r="1.7"/><circle cx="209.90" cy="196.78" r="1.7"/><circle cx="211.54" cy="196.78" r="1.7"/><circle cx="213.18" cy="196.86" r="1.7"/><circle cx="214.82" cy="196.67" r="1.7"/><circle cx="216.46" cy="196.48" r="1.7"/><circle cx="218.10" cy="196.42" r="1.7"/><circle cx="219.74" cy="196.21" r="1.7"/><circle cx="221.38" cy="195.42" r="1.7"/><circle cx="223.02" cy="195.01" r="1.7"/><circle cx="224.66" cy="194.29" r="1.7"/><circle cx="226.30" cy="193.63" r="1.7"/><circle cx="227.94" cy="193.42" r="1.7"/><circle cx="229.58" cy="193.41" r="1.7"/><circle cx="231.22" cy="193.30" r="1.7"/><circle cx="232.86" cy="193.42" r="1.7"/><circle cx="234.50" cy="193.85" r="1.7"/><circle cx="236.14" cy="194.72" r="1.7"/><circle cx="237.78" cy="195.44" r="1.7"/><circle cx="239.42" cy="195.16" r="1.7"/><circle cx="241.06" cy="194.56" r="1.7"/><circle cx="242.70" cy="194.30" r="1.7"/><circle cx="244.34" cy="193.74" r="1.7"/><circle cx="245.98" cy="193.68" r="1.7"/><circle cx="247.62" cy="194.18" r="1.7"/><circle cx="249.26" cy="194.52" r="1.7"/><circle cx="250.90" cy="195.09" r="1.7"/><circle cx="252.54" cy="195.12" r="1.7"/><circle cx="254.18" cy="194.83" r="1.7"/><circle cx="255.82" cy="194.75" r="1.7"/><circle cx="257.46" cy="193.00" r="1.7"/><circle cx="259.10" cy="191.18" r="1.7"/><circle cx="260.74" cy="192.37" r="1.7"/><circle cx="262.38" cy="193.64" r="1.7"/><circle cx="264.02" cy="195.00" r="1.7"/><circle cx="265.66" cy="196.11" r="1.7"/><circle cx="267.30" cy="196.25" r="1.7"/><circle cx="268.94" cy="196.44" r="1.7"/><circle cx="270.58" cy="196.64" r="1.7"/><circle cx="272.22" cy="196.90" r="1.7"/><circle cx="273.86" cy="196.62" r="1.7"/><circle cx="275.50" cy="196.29" r="1.7"/><circle cx="277.14" cy="196.01" r="1.7"/><circle cx="278.78" cy="195.73" r="1.7"/><circle cx="280.42" cy="195.41" r="1.7"/><circle cx="282.06" cy="195.07" r="1.7"/><circle cx="283.70" cy="194.74" r="1.7"/><circle cx="285.34" cy="193.34" r="1.7"/><circle cx="286.98" cy="189.89" r="1.7"/><circle cx="288.62" cy="178.21" r="1.7"/><circle cx="290.26" cy="176.81" r="1.7"/><circle cx="291.90" cy="175.52" r="1.7"/><circle cx="293.54" cy="174.70" r="1.7"/><circle cx="295.18" cy="173.91" r="1.7"/><circle cx="296.82" cy="174.07" r="1.7"/><circle cx="298.46" cy="174.07" r="1.7"/><circle cx="300.10" cy="172.54" r="1.7"/><circle cx="301.74" cy="167.65" r="1.7"/><circle cx="303.38" cy="166.20" r="1.7"/><circle cx="305.02" cy="164.97" r="1.7"/><circle cx="306.66" cy="162.73" r="1.7"/><circle cx="308.30" cy="160.42" r="1.7"/><circle cx="309.94" cy="158.80" r="1.7"/><circle cx="311.58" cy="157.76" r="1.7"/><circle cx="313.22" cy="157.56" r="1.7"/><circle cx="314.86" cy="158.02" r="1.7"/><circle cx="316.50" cy="164.08" r="1.7"/><circle cx="318.14" cy="169.05" r="1.7"/><circle cx="319.78" cy="172.97" r="1.7"/><circle cx="321.42" cy="179.53" r="1.7"/><circle cx="323.06" cy="181.03" r="1.7"/><circle cx="324.70" cy="182.91" r="1.7"/><circle cx="326.34" cy="184.76" r="1.7"/><circle cx="327.98" cy="185.13" r="1.7"/><circle cx="329.62" cy="184.51" r="1.7"/><circle cx="331.26" cy="183.97" r="1.7"/><circle cx="332.90" cy="183.85" r="1.7"/><circle cx="334.54" cy="183.82" r="1.7"/><circle cx="336.18" cy="183.93" r="1.7"/><circle cx="337.82" cy="183.88" r="1.7"/><circle cx="339.46" cy="183.95" r="1.7"/><circle cx="341.10" cy="184.05" r="1.7"/><circle cx="342.74" cy="184.15" r="1.7"/><circle cx="344.38" cy="184.28" r="1.7"/><circle cx="346.02" cy="184.02" r="1.7"/><circle cx="347.66" cy="183.20" r="1.7"/><circle cx="349.30" cy="182.54" r="1.7"/><circle cx="350.94" cy="182.38" r="1.7"/><circle cx="352.58" cy="182.49" r="1.7"/><circle cx="354.22" cy="182.49" r="1.7"/><circle cx="355.86" cy="182.38" r="1.7"/><circle cx="357.50" cy="183.20" r="1.7"/><circle cx="359.14" cy="183.69" r="1.7"/><circle cx="360.78" cy="184.08" r="1.7"/><circle cx="362.42" cy="184.40" r="1.7"/><circle cx="364.06" cy="184.95" r="1.7"/><circle cx="365.70" cy="185.35" r="1.7"/><circle cx="367.34" cy="183.49" r="1.7"/><circle cx="368.98" cy="180.91" r="1.7"/><circle cx="370.62" cy="179.80" r="1.7"/><circle cx="372.26" cy="179.46" r="1.7"/><circle cx="373.90" cy="179.65" r="1.7"/><circle cx="375.54" cy="180.22" r="1.7"/><circle cx="377.18" cy="181.15" r="1.7"/><circle cx="378.82" cy="181.71" r="1.7"/><circle cx="380.46" cy="181.60" r="1.7"/><circle cx="382.10" cy="181.75" r="1.7"/><circle cx="383.74" cy="176.42" r="1.7"/><circle cx="385.38" cy="172.66" r="1.7"/><circle cx="387.02" cy="169.30" r="1.7"/><circle cx="388.66" cy="166.27" r="1.7"/><circle cx="390.30" cy="164.90" r="1.7"/><circle cx="391.94" cy="163.89" r="1.7"/><circle cx="393.58" cy="165.03" r="1.7"/><circle cx="395.22" cy="165.73" r="1.7"/><circle cx="396.86" cy="166.18" r="1.7"/><circle cx="398.50" cy="166.34" r="1.7"/><circle cx="400.14" cy="165.65" r="1.7"/><circle cx="401.78" cy="165.80" r="1.7"/><circle cx="403.42" cy="166.54" r="1.7"/><circle cx="405.06" cy="167.90" r="1.7"/><circle cx="406.70" cy="170.06" r="1.7"/><circle cx="408.34" cy="176.49" r="1.7"/><circle cx="409.98" cy="179.26" r="1.7"/><circle cx="411.62" cy="179.62" r="1.7"/><circle cx="413.26" cy="179.99" r="1.7"/><circle cx="414.90" cy="180.17" r="1.7"/><circle cx="416.54" cy="180.49" r="1.7"/><circle cx="418.18" cy="180.64" r="1.7"/><circle cx="419.82" cy="180.78" r="1.7"/><circle cx="421.46" cy="181.19" r="1.7"/><circle cx="423.10" cy="181.41" r="1.7"/><circle cx="424.74" cy="181.86" r="1.7"/><circle cx="426.38" cy="181.91" r="1.7"/><circle cx="428.02" cy="180.79" r="1.7"/><circle cx="429.66" cy="179.73" r="1.7"/><circle cx="431.30" cy="179.03" r="1.7"/><circle cx="432.94" cy="178.50" r="1.7"/><circle cx="434.58" cy="178.42" r="1.7"/><circle cx="436.22" cy="178.42" r="1.7"/><circle cx="437.86" cy="178.42" r="1.7"/><circle cx="439.50" cy="178.48" r="1.7"/><circle cx="441.14" cy="178.64" r="1.7"/><circle cx="442.78" cy="179.72" r="1.7"/><circle cx="444.42" cy="180.86" r="1.7"/><circle cx="446.06" cy="182.63" r="1.7"/><circle cx="447.70" cy="182.61" r="1.7"/><circle cx="449.34" cy="181.86" r="1.7"/><circle cx="450.98" cy="181.88" r="1.7"/><circle cx="452.62" cy="182.33" r="1.7"/><circle cx="454.26" cy="182.95" r="1.7"/><circle cx="455.90" cy="183.21" r="1.7"/><circle cx="457.54" cy="182.53" r="1.7"/><circle cx="459.18" cy="181.93" r="1.7"/><circle cx="460.82" cy="180.60" r="1.7"/><circle cx="462.46" cy="178.45" r="1.7"/><circle cx="464.10" cy="180.84" r="1.7"/><circle cx="465.74" cy="181.94" r="1.7"/><circle cx="467.38" cy="182.72" r="1.7"/><circle cx="469.02" cy="183.51" r="1.7"/><circle cx="470.66" cy="183.27" r="1.7"/><circle cx="472.30" cy="182.84" r="1.7"/><circle cx="473.94" cy="182.31" r="1.7"/><circle cx="475.58" cy="182.22" r="1.7"/><circle cx="477.22" cy="182.12" r="1.7"/><circle cx="478.86" cy="180.82" r="1.7"/><circle cx="480.50" cy="179.59" r="1.7"/><circle cx="482.14" cy="178.41" r="1.7"/><circle cx="483.78" cy="178.41" r="1.7"/><circle cx="485.42" cy="178.56" r="1.7"/><circle cx="487.06" cy="178.56" r="1.7"/><circle cx="488.70" cy="179.25" r="1.7"/><circle cx="490.34" cy="180.22" r="1.7"/><circle cx="491.98" cy="180.94" r="1.7"/><circle cx="493.62" cy="181.14" r="1.7"/><circle cx="495.26" cy="181.43" r="1.7"/><circle cx="496.90" cy="179.84" r="1.7"/><circle cx="498.54" cy="177.79" r="1.7"/><circle cx="500.18" cy="174.15" r="1.7"/><circle cx="501.82" cy="174.15" r="1.7"/><circle cx="503.46" cy="174.15" r="1.7"/><circle cx="505.10" cy="174.15" r="1.7"/><circle cx="506.74" cy="176.05" r="1.7"/><circle cx="508.38" cy="178.46" r="1.7"/><circle cx="510.02" cy="180.42" r="1.7"/><circle cx="511.66" cy="182.30" r="1.7"/><circle cx="513.30" cy="183.16" r="1.7"/><circle cx="514.94" cy="183.87" r="1.7"/><circle cx="516.58" cy="183.22" r="1.7"/><circle cx="518.22" cy="182.58" r="1.7"/><circle cx="519.86" cy="181.93" r="1.7"/><circle cx="521.50" cy="181.26" r="1.7"/><circle cx="523.14" cy="181.58" r="1.7"/><circle cx="524.78" cy="182.79" r="1.7"/><circle cx="526.42" cy="183.75" r="1.7"/><circle cx="528.06" cy="183.49" r="1.7"/><circle cx="529.70" cy="183.32" r="1.7"/><circle cx="531.34" cy="182.62" r="1.7"/><circle cx="532.98" cy="180.80" r="1.7"/><circle cx="534.62" cy="179.63" r="1.7"/><circle cx="536.26" cy="179.76" r="1.7"/><circle cx="537.90" cy="181.10" r="1.7"/><circle cx="539.54" cy="183.75" r="1.7"/><circle cx="541.18" cy="185.16" r="1.7"/><circle cx="542.82" cy="181.51" r="1.7"/><circle cx="544.46" cy="179.56" r="1.7"/><circle cx="546.10" cy="178.65" r="1.7"/><circle cx="547.74" cy="178.76" r="1.7"/><circle cx="549.38" cy="179.04" r="1.7"/><circle cx="551.02" cy="179.23" r="1.7"/><circle cx="552.66" cy="179.44" r="1.7"/><circle cx="554.30" cy="179.46" r="1.7"/><circle cx="555.94" cy="179.07" r="1.7"/><circle cx="557.58" cy="178.83" r="1.7"/><circle cx="559.22" cy="177.91" r="1.7"/><circle cx="560.86" cy="176.77" r="1.7"/><circle cx="562.50" cy="177.45" r="1.7"/><circle cx="564.14" cy="179.32" r="1.7"/><circle cx="565.78" cy="180.49" r="1.7"/><circle cx="567.42" cy="181.36" r="1.7"/><circle cx="569.06" cy="180.38" r="1.7"/><circle cx="570.70" cy="179.33" r="1.7"/><circle cx="572.34" cy="177.99" r="1.7"/><circle cx="573.98" cy="176.39" r="1.7"/><circle cx="575.62" cy="177.27" r="1.7"/><circle cx="577.26" cy="178.36" r="1.7"/><circle cx="578.90" cy="180.49" r="1.7"/><circle cx="580.54" cy="179.78" r="1.7"/><circle cx="582.18" cy="178.61" r="1.7"/><circle cx="583.82" cy="178.87" r="1.7"/><circle cx="585.46" cy="179.19" r="1.7"/><circle cx="587.10" cy="179.25" r="1.7"/><circle cx="588.74" cy="179.00" r="1.7"/><circle cx="590.38" cy="178.74" r="1.7"/><circle cx="592.02" cy="179.29" r="1.7"/><circle cx="593.66" cy="180.42" r="1.7"/><circle cx="595.30" cy="181.47" r="1.7"/><circle cx="596.94" cy="182.89" r="1.7"/><circle cx="598.58" cy="184.15" r="1.7"/><circle cx="600.22" cy="184.72" r="1.7"/><circle cx="601.86" cy="185.31" r="1.7"/><circle cx="603.50" cy="185.39" r="1.7"/><circle cx="605.14" cy="184.86" r="1.7"/><circle cx="606.78" cy="184.61" r="1.7"/><circle cx="608.42" cy="184.59" r="1.7"/><circle cx="610.06" cy="184.82" r="1.7"/><circle cx="611.70" cy="184.82" r="1.7"/><circle cx="613.34" cy="184.98" r="1.7"/><circle cx="614.98" cy="185.14" r="1.7"/><circle cx="616.62" cy="185.61" r="1.7"/><circle cx="618.26" cy="185.89" r="1.7"/><circle cx="619.90" cy="186.53" r="1.7"/><circle cx="621.54" cy="187.30" r="1.7"/><circle cx="623.18" cy="188.03" r="1.7"/><circle cx="624.82" cy="188.62" r="1.7"/><circle cx="626.46" cy="189.16" r="1.7"/><circle cx="628.10" cy="189.83" r="1.7"/><circle cx="629.74" cy="190.57" r="1.7"/><circle cx="631.38" cy="191.30" r="1.7"/><circle cx="633.02" cy="192.10" r="1.7"/><circle cx="634.66" cy="192.67" r="1.7"/><circle cx="636.30" cy="193.09" r="1.7"/><circle cx="637.94" cy="193.37" r="1.7"/><circle cx="639.58" cy="193.40" r="1.7"/><circle cx="641.22" cy="193.36" r="1.7"/></g>
</g>
<g stroke="#d2173f" fill="rgba(215,20,60,0.09)">
<polyline points="62.30,196.89 63.94,196.63 65.58,196.46 67.22,196.29 68.86,196.11 70.50,195.89 72.14,195.93 73.78,195.74 75.42,195.33 77.06,195.26 78.70,194.60 80.34,193.98 81.98,194.69 83.62,196.08 85.26,197.17 86.90,198.15 88.54,199.10 90.18,199.81 91.82,200.44 93.46,200.94 95.10,201.74 96.74,202.30 98.38,203.09 100.02,203.94 101.66,204.80 103.30,206.56 104.94,208.32 106.58,207.93 108.22,207.44 109.86,206.18 111.50,204.99 113.14,203.92 114.78,202.89 116.42,202.01 118.06,201.43 119.70,201.68 121.34,201.89 122.98,202.33 124.62,203.13 126.26,203.82 127.90,204.16 129.54,204.58 131.18,204.67 132.82,204.47 134.46,204.33 136.10,204.19 137.74,203.93 139.38,203.60 141.02,202.36 142.66,199.94 144.30,194.89 145.94,191.70 147.58,190.60 149.22,189.95 150.86,189.54 152.50,189.49 154.14,190.02 155.78,194.92 157.42,197.61 159.06,202.86 160.70,202.54 162.34,202.34 163.98,201.64 165.62,200.50 167.26,199.13 168.90,199.52 170.54,200.12 172.18,201.18 173.82,202.07 175.46,202.81 177.10,203.36 178.74,203.56 180.38,203.12 182.02,202.89 183.66,202.58 185.30,202.23 186.94,201.88 188.58,202.23 190.22,202.37 191.86,202.73 193.50,203.02 195.14,203.29 196.78,203.21 198.42,203.36 200.06,203.51 201.70,203.59 203.34,203.80 204.98,203.79 206.62,203.96 208.26,204.04 209.90,203.85 211.54,203.98 213.18,204.03 214.82,204.10 216.46,204.21 218.10,204.37 219.74,204.53 221.38,204.69 223.02,204.86 224.66,205.02 226.30,205.26 227.94,205.48 229.58,205.73 231.22,205.93 232.86,206.18 234.50,206.43 236.14,206.76 237.78,207.41 239.42,207.96 241.06,208.73 242.70,208.93 244.34,208.71 245.98,208.79 247.62,208.99 249.26,208.99 250.90,208.79 252.54,208.79 254.18,208.90 255.82,208.90 257.46,208.15 259.10,207.13 260.74,205.92 262.38,204.50 264.02,203.29 265.66,203.01 267.30,203.02 268.94,202.88 270.58,203.13 272.22,203.29 273.86,203.52 275.50,204.33 277.14,206.28 278.78,207.86 280.42,208.88 282.06,208.04 283.70,206.62 285.34,204.90 286.98,203.12 288.62,201.59 290.26,200.08 291.90,199.25 293.54,198.68 295.18,199.95 296.82,201.28 298.46,201.66 300.10,201.87 301.74,201.64 303.38,200.99 305.02,200.26 306.66,198.32 308.30,195.99 309.94,195.32 311.58,194.69 313.22,194.95 314.86,195.34 316.50,195.86 318.14,196.38 319.78,196.71 321.42,196.67 323.06,196.67 324.70,196.78 326.34,195.78 327.98,194.89 329.62,194.45 331.26,194.44 332.90,195.26 334.54,196.50 336.18,196.73 337.82,196.54 339.46,196.34 341.10,195.99 342.74,196.19 344.38,196.28 346.02,196.46 347.66,196.58 349.30,196.70 350.94,196.84 352.58,197.26 354.22,197.48 355.86,197.66 357.50,198.24 359.14,199.34 360.78,199.96 362.42,200.54 364.06,200.77 365.70,200.83 367.34,201.32 368.98,201.49 370.62,201.56 372.26,201.55 373.90,201.71 375.54,201.71 377.18,201.60 378.82,201.64 380.46,201.52 382.10,201.20 383.74,200.18 385.38,199.43 387.02,198.66 388.66,197.84 390.30,196.97 391.94,196.74 393.58,196.37 395.22,196.24 396.86,196.08 398.50,195.91 400.14,195.87 401.78,196.42 403.42,197.00 405.06,197.81 406.70,198.62 408.34,199.28 409.98,199.49 411.62,200.03 413.26,200.45 414.90,200.86 416.54,201.26 418.18,200.69 419.82,200.06 421.46,199.25 423.10,198.59 424.74,197.81 426.38,197.47 428.02,196.84 429.66,196.16 431.30,195.41 432.94,194.52 434.58,190.82 436.22,187.72 437.86,186.11 439.50,187.74 441.14,190.99 442.78,194.75 444.42,196.45 446.06,197.39 447.70,198.30 449.34,198.43 450.98,198.37 452.62,198.37 454.26,197.39 455.90,195.62 457.54,193.91 459.18,194.46 460.82,195.00 462.46,195.17 464.10,195.17 465.74,195.16 467.38,195.16 469.02,194.41 470.66,192.42 472.30,190.95 473.94,191.92 475.58,193.96 477.22,196.13 478.86,196.77 480.50,197.42 482.14,197.88 483.78,197.61 485.42,197.33 487.06,197.06 488.70,196.79 490.34,196.82 491.98,196.74 493.62,196.89 495.26,196.89 496.90,197.11 498.54,197.37 500.18,197.55 501.82,197.77 503.46,197.99 505.10,198.02 506.74,198.42 508.38,198.76 510.02,199.09 511.66,199.41 513.30,199.74 514.94,199.61 516.58,199.36 518.22,199.11 519.86,198.34 521.50,197.83 523.14,197.25 524.78,196.91 526.42,196.86 528.06,196.27 529.70,196.03 531.34,195.47 532.98,194.91 534.62,194.62 536.26,194.84 537.90,195.28 539.54,195.82 541.18,196.08 542.82,195.30 544.46,194.64 546.10,194.31 547.74,193.97 549.38,194.63 551.02,195.46 552.66,196.48 554.30,197.20 555.94,198.01 557.58,198.82 559.22,199.76 560.86,200.22 562.50,200.56 564.14,200.93 565.78,201.32 567.42,201.57 569.06,201.48 570.70,201.86 572.34,202.02 573.98,202.14 575.62,202.36 577.26,202.55 578.90,202.78 580.54,202.97 582.18,203.08 583.82,203.25 585.46,203.37 587.10,203.55 588.74,203.58 590.38,203.77 592.02,203.77 593.66,203.77 595.30,203.49 596.94,203.60 598.58,203.72 600.22,203.86 601.86,203.99 603.50,204.12 605.14,204.48 606.78,204.31 608.42,204.38 610.06,204.45 611.70,204.57 613.34,204.64 614.98,204.43 616.62,203.90 618.26,202.70 619.90,201.23 621.54,200.51 623.18,199.72 624.82,200.69 626.46,201.67 628.10,202.59 629.74,203.71 631.38,203.94 633.02,204.15 634.66,204.32 636.30,204.42 637.94,204.42 639.58,204.42 641.22,204.33" fill="none" stroke-width="0.7"/>
<g stroke-width="0.65"><circle cx="62.30" cy="196.89" r="1.7"/><circle cx="63.94" cy="196.63" r="1.7"/><circle cx="65.58" cy="196.46" r="1.7"/><circle cx="67.22" cy="196.29" r="1.7"/><circle cx="68.86" cy="196.11" r="1.7"/><circle cx="70.50" cy="195.89" r="1.7"/><circle cx="72.14" cy="195.93" r="1.7"/><circle cx="73.78" cy="195.74" r="1.7"/><circle cx="75.42" cy="195.33" r="1.7"/><circle cx="77.06" cy="195.26" r="1.7"/><circle cx="78.70" cy="194.60" r="1.7"/><circle cx="80.34" cy="193.98" r="1.7"/><circle cx="81.98" cy="194.69" r="1.7"/><circle cx="83.62" cy="196.08" r="1.7"/><circle cx="85.26" cy="197.17" r="1.7"/><circle cx="86.90" cy="198.15" r="1.7"/><circle cx="88.54" cy="199.10" r="1.7"/><circle cx="90.18" cy="199.81" r="1.7"/><circle cx="91.82" cy="200.44" r="1.7"/><circle cx="93.46" cy="200.94" r="1.7"/><circle cx="95.10" cy="201.74" r="1.7"/><circle cx="96.74" cy="202.30" r="1.7"/><circle cx="98.38" cy="203.09" r="1.7"/><circle cx="100.02" cy="203.94" r="1.7"/><circle cx="101.66" cy="204.80" r="1.7"/><circle cx="103.30" cy="206.56" r="1.7"/><circle cx="104.94" cy="208.32" r="1.7"/><circle cx="106.58" cy="207.93" r="1.7"/><circle cx="108.22" cy="207.44" r="1.7"/><circle cx="109.86" cy="206.18" r="1.7"/><circle cx="111.50" cy="204.99" r="1.7"/><circle cx="113.14" cy="203.92" r="1.7"/><circle cx="114.78" cy="202.89" r="1.7"/><circle cx="116.42" cy="202.01" r="1.7"/><circle cx="118.06" cy="201.43" r="1.7"/><circle cx="119.70" cy="201.68" r="1.7"/><circle cx="121.34" cy="201.89" r="1.7"/><circle cx="122.98" cy="202.33" r="1.7"/><circle cx="124.62" cy="203.13" r="1.7"/><circle cx="126.26" cy="203.82" r="1.7"/><circle cx="127.90" cy="204.16" r="1.7"/><circle cx="129.54" cy="204.58" r="1.7"/><circle cx="131.18" cy="204.67" r="1.7"/><circle cx="132.82" cy="204.47" r="1.7"/><circle cx="134.46" cy="204.33" r="1.7"/><circle cx="136.10" cy="204.19" r="1.7"/><circle cx="137.74" cy="203.93" r="1.7"/><circle cx="139.38" cy="203.60" r="1.7"/><circle cx="141.02" cy="202.36" r="1.7"/><circle cx="142.66" cy="199.94" r="1.7"/><circle cx="144.30" cy="194.89" r="1.7"/><circle cx="145.94" cy="191.70" r="1.7"/><circle cx="147.58" cy="190.60" r="1.7"/><circle cx="149.22" cy="189.95" r="1.7"/><circle cx="150.86" cy="189.54" r="1.7"/><circle cx="152.50" cy="189.49" r="1.7"/><circle cx="154.14" cy="190.02" r="1.7"/><circle cx="155.78" cy="194.92" r="1.7"/><circle cx="157.42" cy="197.61" r="1.7"/><circle cx="159.06" cy="202.86" r="1.7"/><circle cx="160.70" cy="202.54" r="1.7"/><circle cx="162.34" cy="202.34" r="1.7"/><circle cx="163.98" cy="201.64" r="1.7"/><circle cx="165.62" cy="200.50" r="1.7"/><circle cx="167.26" cy="199.13" r="1.7"/><circle cx="168.90" cy="199.52" r="1.7"/><circle cx="170.54" cy="200.12" r="1.7"/><circle cx="172.18" cy="201.18" r="1.7"/><circle cx="173.82" cy="202.07" r="1.7"/><circle cx="175.46" cy="202.81" r="1.7"/><circle cx="177.10" cy="203.36" r="1.7"/><circle cx="178.74" cy="203.56" r="1.7"/><circle cx="180.38" cy="203.12" r="1.7"/><circle cx="182.02" cy="202.89" r="1.7"/><circle cx="183.66" cy="202.58" r="1.7"/><circle cx="185.30" cy="202.23" r="1.7"/><circle cx="186.94" cy="201.88" r="1.7"/><circle cx="188.58" cy="202.23" r="1.7"/><circle cx="190.22" cy="202.37" r="1.7"/><circle cx="191.86" cy="202.73" r="1.7"/><circle cx="193.50" cy="203.02" r="1.7"/><circle cx="195.14" cy="203.29" r="1.7"/><circle cx="196.78" cy="203.21" r="1.7"/><circle cx="198.42" cy="203.36" r="1.7"/><circle cx="200.06" cy="203.51" r="1.7"/><circle cx="201.70" cy="203.59" r="1.7"/><circle cx="203.34" cy="203.80" r="1.7"/><circle cx="204.98" cy="203.79" r="1.7"/><circle cx="206.62" cy="203.96" r="1.7"/><circle cx="208.26" cy="204.04" r="1.7"/><circle cx="209.90" cy="203.85" r="1.7"/><circle cx="211.54" cy="203.98" r="1.7"/><circle cx="213.18" cy="204.03" r="1.7"/><circle cx="214.82" cy="204.10" r="1.7"/><circle cx="216.46" cy="204.21" r="1.7"/><circle cx="218.10" cy="204.37" r="1.7"/><circle cx="219.74" cy="204.53" r="1.7"/><circle cx="221.38" cy="204.69" r="1.7"/><circle cx="223.02" cy="204.86" r="1.7"/><circle cx="224.66" cy="205.02" r="1.7"/><circle cx="226.30" cy="205.26" r="1.7"/><circle cx="227.94" cy="205.48" r="1.7"/><circle cx="229.58" cy="205.73" r="1.7"/><circle cx="231.22" cy="205.93" r="1.7"/><circle cx="232.86" cy="206.18" r="1.7"/><circle cx="234.50" cy="206.43" r="1.7"/><circle cx="236.14" cy="206.76" r="1.7"/><circle cx="237.78" cy="207.41" r="1.7"/><circle cx="239.42" cy="207.96" r="1.7"/><circle cx="241.06" cy="208.73" r="1.7"/><circle cx="242.70" cy="208.93" r="1.7"/><circle cx="244.34" cy="208.71" r="1.7"/><circle cx="245.98" cy="208.79" r="1.7"/><circle cx="247.62" cy="208.99" r="1.7"/><circle cx="249.26" cy="208.99" r="1.7"/><circle cx="250.90" cy="208.79" r="1.7"/><circle cx="252.54" cy="208.79" r="1.7"/><circle cx="254.18" cy="208.90" r="1.7"/><circle cx="255.82" cy="208.90" r="1.7"/><circle cx="257.46" cy="208.15" r="1.7"/><circle cx="259.10" cy="207.13" r="1.7"/><circle cx="260.74" cy="205.92" r="1.7"/><circle cx="262.38" cy="204.50" r="1.7"/><circle cx="264.02" cy="203.29" r="1.7"/><circle cx="265.66" cy="203.01" r="1.7"/><circle cx="267.30" cy="203.02" r="1.7"/><circle cx="268.94" cy="202.88" r="1.7"/><circle cx="270.58" cy="203.13" r="1.7"/><circle cx="272.22" cy="203.29" r="1.7"/><circle cx="273.86" cy="203.52" r="1.7"/><circle cx="275.50" cy="204.33" r="1.7"/><circle cx="277.14" cy="206.28" r="1.7"/><circle cx="278.78" cy="207.86" r="1.7"/><circle cx="280.42" cy="208.88" r="1.7"/><circle cx="282.06" cy="208.04" r="1.7"/><circle cx="283.70" cy="206.62" r="1.7"/><circle cx="285.34" cy="204.90" r="1.7"/><circle cx="286.98" cy="203.12" r="1.7"/><circle cx="288.62" cy="201.59" r="1.7"/><circle cx="290.26" cy="200.08" r="1.7"/><circle cx="291.90" cy="199.25" r="1.7"/><circle cx="293.54" cy="198.68" r="1.7"/><circle cx="295.18" cy="199.95" r="1.7"/><circle cx="296.82" cy="201.28" r="1.7"/><circle cx="298.46" cy="201.66" r="1.7"/><circle cx="300.10" cy="201.87" r="1.7"/><circle cx="301.74" cy="201.64" r="1.7"/><circle cx="303.38" cy="200.99" r="1.7"/><circle cx="305.02" cy="200.26" r="1.7"/><circle cx="306.66" cy="198.32" r="1.7"/><circle cx="308.30" cy="195.99" r="1.7"/><circle cx="309.94" cy="195.32" r="1.7"/><circle cx="311.58" cy="194.69" r="1.7"/><circle cx="313.22" cy="194.95" r="1.7"/><circle cx="314.86" cy="195.34" r="1.7"/><circle cx="316.50" cy="195.86" r="1.7"/><circle cx="318.14" cy="196.38" r="1.7"/><circle cx="319.78" cy="196.71" r="1.7"/><circle cx="321.42" cy="196.67" r="1.7"/><circle cx="323.06" cy="196.67" r="1.7"/><circle cx="324.70" cy="196.78" r="1.7"/><circle cx="326.34" cy="195.78" r="1.7"/><circle cx="327.98" cy="194.89" r="1.7"/><circle cx="329.62" cy="194.45" r="1.7"/><circle cx="331.26" cy="194.44" r="1.7"/><circle cx="332.90" cy="195.26" r="1.7"/><circle cx="334.54" cy="196.50" r="1.7"/><circle cx="336.18" cy="196.73" r="1.7"/><circle cx="337.82" cy="196.54" r="1.7"/><circle cx="339.46" cy="196.34" r="1.7"/><circle cx="341.10" cy="195.99" r="1.7"/><circle cx="342.74" cy="196.19" r="1.7"/><circle cx="344.38" cy="196.28" r="1.7"/><circle cx="346.02" cy="196.46" r="1.7"/><circle cx="347.66" cy="196.58" r="1.7"/><circle cx="349.30" cy="196.70" r="1.7"/><circle cx="350.94" cy="196.84" r="1.7"/><circle cx="352.58" cy="197.26" r="1.7"/><circle cx="354.22" cy="197.48" r="1.7"/><circle cx="355.86" cy="197.66" r="1.7"/><circle cx="357.50" cy="198.24" r="1.7"/><circle cx="359.14" cy="199.34" r="1.7"/><circle cx="360.78" cy="199.96" r="1.7"/><circle cx="362.42" cy="200.54" r="1.7"/><circle cx="364.06" cy="200.77" r="1.7"/><circle cx="365.70" cy="200.83" r="1.7"/><circle cx="367.34" cy="201.32" r="1.7"/><circle cx="368.98" cy="201.49" r="1.7"/><circle cx="370.62" cy="201.56" r="1.7"/><circle cx="372.26" cy="201.55" r="1.7"/><circle cx="373.90" cy="201.71" r="1.7"/><circle cx="375.54" cy="201.71" r="1.7"/><circle cx="377.18" cy="201.60" r="1.7"/><circle cx="378.82" cy="201.64" r="1.7"/><circle cx="380.46" cy="201.52" r="1.7"/><circle cx="382.10" cy="201.20" r="1.7"/><circle cx="383.74" cy="200.18" r="1.7"/><circle cx="385.38" cy="199.43" r="1.7"/><circle cx="387.02" cy="198.66" r="1.7"/><circle cx="388.66" cy="197.84" r="1.7"/><circle cx="390.30" cy="196.97" r="1.7"/><circle cx="391.94" cy="196.74" r="1.7"/><circle cx="393.58" cy="196.37" r="1.7"/><circle cx="395.22" cy="196.24" r="1.7"/><circle cx="396.86" cy="196.08" r="1.7"/><circle cx="398.50" cy="195.91" r="1.7"/><circle cx="400.14" cy="195.87" r="1.7"/><circle cx="401.78" cy="196.42" r="1.7"/><circle cx="403.42" cy="197.00" r="1.7"/><circle cx="405.06" cy="197.81" r="1.7"/><circle cx="406.70" cy="198.62" r="1.7"/><circle cx="408.34" cy="199.28" r="1.7"/><circle cx="409.98" cy="199.49" r="1.7"/><circle cx="411.62" cy="200.03" r="1.7"/><circle cx="413.26" cy="200.45" r="1.7"/><circle cx="414.90" cy="200.86" r="1.7"/><circle cx="416.54" cy="201.26" r="1.7"/><circle cx="418.18" cy="200.69" r="1.7"/><circle cx="419.82" cy="200.06" r="1.7"/><circle cx="421.46" cy="199.25" r="1.7"/><circle cx="423.10" cy="198.59" r="1.7"/><circle cx="424.74" cy="197.81" r="1.7"/><circle cx="426.38" cy="197.47" r="1.7"/><circle cx="428.02" cy="196.84" r="1.7"/><circle cx="429.66" cy="196.16" r="1.7"/><circle cx="431.30" cy="195.41" r="1.7"/><circle cx="432.94" cy="194.52" r="1.7"/><circle cx="434.58" cy="190.82" r="1.7"/><circle cx="436.22" cy="187.72" r="1.7"/><circle cx="437.86" cy="186.11" r="1.7"/><circle cx="439.50" cy="187.74" r="1.7"/><circle cx="441.14" cy="190.99" r="1.7"/><circle cx="442.78" cy="194.75" r="1.7"/><circle cx="444.42" cy="196.45" r="1.7"/><circle cx="446.06" cy="197.39" r="1.7"/><circle cx="447.70" cy="198.30" r="1.7"/><circle cx="449.34" cy="198.43" r="1.7"/><circle cx="450.98" cy="198.37" r="1.7"/><circle cx="452.62" cy="198.37" r="1.7"/><circle cx="454.26" cy="197.39" r="1.7"/><circle cx="455.90" cy="195.62" r="1.7"/><circle cx="457.54" cy="193.91" r="1.7"/><circle cx="459.18" cy="194.46" r="1.7"/><circle cx="460.82" cy="195.00" r="1.7"/><circle cx="462.46" cy="195.17" r="1.7"/><circle cx="464.10" cy="195.17" r="1.7"/><circle cx="465.74" cy="195.16" r="1.7"/><circle cx="467.38" cy="195.16" r="1.7"/><circle cx="469.02" cy="194.41" r="1.7"/><circle cx="470.66" cy="192.42" r="1.7"/><circle cx="472.30" cy="190.95" r="1.7"/><circle cx="473.94" cy="191.92" r="1.7"/><circle cx="475.58" cy="193.96" r="1.7"/><circle cx="477.22" cy="196.13" r="1.7"/><circle cx="478.86" cy="196.77" r="1.7"/><circle cx="480.50" cy="197.42" r="1.7"/><circle cx="482.14" cy="197.88" r="1.7"/><circle cx="483.78" cy="197.61" r="1.7"/><circle cx="485.42" cy="197.33" r="1.7"/><circle cx="487.06" cy="197.06" r="1.7"/><circle cx="488.70" cy="196.79" r="1.7"/><circle cx="490.34" cy="196.82" r="1.7"/><circle cx="491.98" cy="196.74" r="1.7"/><circle cx="493.62" cy="196.89" r="1.7"/><circle cx="495.26" cy="196.89" r="1.7"/><circle cx="496.90" cy="197.11" r="1.7"/><circle cx="498.54" cy="197.37" r="1.7"/><circle cx="500.18" cy="197.55" r="1.7"/><circle cx="501.82" cy="197.77" r="1.7"/><circle cx="503.46" cy="197.99" r="1.7"/><circle cx="505.10" cy="198.02" r="1.7"/><circle cx="506.74" cy="198.42" r="1.7"/><circle cx="508.38" cy="198.76" r="1.7"/><circle cx="510.02" cy="199.09" r="1.7"/><circle cx="511.66" cy="199.41" r="1.7"/><circle cx="513.30" cy="199.74" r="1.7"/><circle cx="514.94" cy="199.61" r="1.7"/><circle cx="516.58" cy="199.36" r="1.7"/><circle cx="518.22" cy="199.11" r="1.7"/><circle cx="519.86" cy="198.34" r="1.7"/><circle cx="521.50" cy="197.83" r="1.7"/><circle cx="523.14" cy="197.25" r="1.7"/><circle cx="524.78" cy="196.91" r="1.7"/><circle cx="526.42" cy="196.86" r="1.7"/><circle cx="528.06" cy="196.27" r="1.7"/><circle cx="529.70" cy="196.03" r="1.7"/><circle cx="531.34" cy="195.47" r="1.7"/><circle cx="532.98" cy="194.91" r="1.7"/><circle cx="534.62" cy="194.62" r="1.7"/><circle cx="536.26" cy="194.84" r="1.7"/><circle cx="537.90" cy="195.28" r="1.7"/><circle cx="539.54" cy="195.82" r="1.7"/><circle cx="541.18" cy="196.08" r="1.7"/><circle cx="542.82" cy="195.30" r="1.7"/><circle cx="544.46" cy="194.64" r="1.7"/><circle cx="546.10" cy="194.31" r="1.7"/><circle cx="547.74" cy="193.97" r="1.7"/><circle cx="549.38" cy="194.63" r="1.7"/><circle cx="551.02" cy="195.46" r="1.7"/><circle cx="552.66" cy="196.48" r="1.7"/><circle cx="554.30" cy="197.20" r="1.7"/><circle cx="555.94" cy="198.01" r="1.7"/><circle cx="557.58" cy="198.82" r="1.7"/><circle cx="559.22" cy="199.76" r="1.7"/><circle cx="560.86" cy="200.22" r="1.7"/><circle cx="562.50" cy="200.56" r="1.7"/><circle cx="564.14" cy="200.93" r="1.7"/><circle cx="565.78" cy="201.32" r="1.7"/><circle cx="567.42" cy="201.57" r="1.7"/><circle cx="569.06" cy="201.48" r="1.7"/><circle cx="570.70" cy="201.86" r="1.7"/><circle cx="572.34" cy="202.02" r="1.7"/><circle cx="573.98" cy="202.14" r="1.7"/><circle cx="575.62" cy="202.36" r="1.7"/><circle cx="577.26" cy="202.55" r="1.7"/><circle cx="578.90" cy="202.78" r="1.7"/><circle cx="580.54" cy="202.97" r="1.7"/><circle cx="582.18" cy="203.08" r="1.7"/><circle cx="583.82" cy="203.25" r="1.7"/><circle cx="585.46" cy="203.37" r="1.7"/><circle cx="587.10" cy="203.55" r="1.7"/><circle cx="588.74" cy="203.58" r="1.7"/><circle cx="590.38" cy="203.77" r="1.7"/><circle cx="592.02" cy="203.77" r="1.7"/><circle cx="593.66" cy="203.77" r="1.7"/><circle cx="595.30" cy="203.49" r="1.7"/><circle cx="596.94" cy="203.60" r="1.7"/><circle cx="598.58" cy="203.72" r="1.7"/><circle cx="600.22" cy="203.86" r="1.7"/><circle cx="601.86" cy="203.99" r="1.7"/><circle cx="603.50" cy="204.12" r="1.7"/><circle cx="605.14" cy="204.48" r="1.7"/><circle cx="606.78" cy="204.31" r="1.7"/><circle cx="608.42" cy="204.38" r="1.7"/><circle cx="610.06" cy="204.45" r="1.7"/><circle cx="611.70" cy="204.57" r="1.7"/><circle cx="613.34" cy="204.64" r="1.7"/><circle cx="614.98" cy="204.43" r="1.7"/><circle cx="616.62" cy="203.90" r="1.7"/><circle cx="618.26" cy="202.70" r="1.7"/><circle cx="619.90" cy="201.23" r="1.7"/><circle cx="621.54" cy="200.51" r="1.7"/><circle cx="623.18" cy="199.72" r="1.7"/><circle cx="624.82" cy="200.69" r="1.7"/><circle cx="626.46" cy="201.67" r="1.7"/><circle cx="628.10" cy="202.59" r="1.7"/><circle cx="629.74" cy="203.71" r="1.7"/><circle cx="631.38" cy="203.94" r="1.7"/><circle cx="633.02" cy="204.15" r="1.7"/><circle cx="634.66" cy="204.32" r="1.7"/><circle cx="636.30" cy="204.42" r="1.7"/><circle cx="637.94" cy="204.42" r="1.7"/><circle cx="639.58" cy="204.42" r="1.7"/><circle cx="641.22" cy="204.33" r="1.7"/></g>
</g>
<rect x="212.50" y="53.65" width="22.9" height="6.9" fill="#d2173f" fill-opacity="0.22" stroke="#d2173f" stroke-width="0.8"/>
<text class="lg" x="239.00" y="59.15">Mid East/China 270kt</text>
<rect x="312.40" y="53.65" width="22.9" height="6.9" fill="#70f0c8" fill-opacity="0.22" stroke="#70f0c8" stroke-width="0.8"/>
<text class="lg" x="339.40" y="59.15">WA/UKC 130kt</text>
<rect x="391.80" y="53.65" width="22.9" height="6.9" fill="#37535f" fill-opacity="0.22" stroke="#37535f" stroke-width="0.8"/>
<text class="lg" x="418.70" y="59.15">USG/UKC 70kt</text>
<text class="title" x="20.2" y="304.5">Clean Tanker Spot Rates (WS)</text>
<path d="M47.20 503.60H628.23M47.20 484.08H628.23M47.20 464.55H628.23M47.20 445.02H628.23M47.20 425.50H628.23M47.20 405.98H628.23M47.20 386.45H628.23M47.20 366.92H628.23M47.20 347.40H628.23M52.20 347.40V508.60M65.25 347.40V508.60M78.31 347.40V508.60M91.36 347.40V508.60M104.42 347.40V508.60M117.47 347.40V508.60M130.53 347.40V508.60M143.58 347.40V508.60M156.64 347.40V508.60M169.69 347.40V508.60M182.74 347.40V508.60M195.80 347.40V508.60M208.85 347.40V508.60M221.91 347.40V508.60M234.96 347.40V508.60M248.02 347.40V508.60M261.07 347.40V508.60M274.12 347.40V508.60M287.18 347.40V508.60M300.23 347.40V508.60M313.29 347.40V508.60M326.34 347.40V508.60M339.40 347.40V508.60M352.45 347.40V508.60M365.51 347.40V508.60M378.56 347.40V508.60M391.61 347.40V508.60M404.67 347.40V508.60M417.72 347.40V508.60M430.78 347.40V508.60M443.83 347.40V508.60M456.89 347.40V508.60M469.94 347.40V508.60M483.00 347.40V508.60M496.05 347.40V508.60M509.10 347.40V508.60M522.16 347.40V508.60M535.21 347.40V508.60M548.27 347.40V508.60M561.32 347.40V508.60M574.38 347.40V508.60M587.43 347.40V508.60M600.48 347.40V508.60M613.54 347.40V508.60M626.59 347.40V508.60" stroke="#e6e6e6" stroke-width="0.6" fill="none"/>
<text x="45.30" y="505.95" text-anchor="end">50</text>
<text x="45.30" y="486.43" text-anchor="end">100</text>
<text x="45.30" y="466.90" text-anchor="end">150</text>
<text x="45.30" y="447.38" text-anchor="end">200</text>
<text x="45.30" y="427.85" text-anchor="end">250</text>
<text x="45.30" y="408.33" text-anchor="end">300</text>
<text x="45.30" y="388.80" text-anchor="end">350</text>
<text x="45.30" y="369.27" text-anchor="end">400</text>
<text x="45.30" y="349.75" text-anchor="end">450</text>
<text transform="translate(53.10 514.10) rotate(-50)" text-anchor="end" class="xl">03/04/2023</text>
<text transform="translate(66.15 514.10) rotate(-50)" text-anchor="end" class="xl">13/04/2023</text>
<text transform="translate(79.21 514.10) rotate(-50)" text-anchor="end" class="xl">25/04/2023</text>
<text transform="translate(92.26 514.10) rotate(-50)" text-anchor="end" class="xl">05/05/2023</text>
<text transform="translate(105.32 514.10) rotate(-50)" text-anchor="end" class="xl">17/05/2023</text>
<text transform="translate(118.37 514.10) rotate(-50)" text-anchor="end" class="xl">29/05/2023</text>
<text transform="translate(131.43 514.10) rotate(-50)" text-anchor="end" class="xl">08/06/2023</text>
<text transform="translate(144.48 514.10) rotate(-50)" text-anchor="end" class="xl">20/06/2023</text>
<text transform="translate(157.54 514.10) rotate(-50)" text-anchor="end" class="xl">30/06/2023</text>
<text transform="translate(170.59 514.10) rotate(-50)" text-anchor="end" class="xl">12/07/2023</text>
<text transform="translate(183.64 514.10) rotate(-50)" text-anchor="end" class="xl">24/07/2023</text>
<text transform="translate(196.70 514.10) rotate(-50)" text-anchor="end" class="xl">03/08/2023</text>
<text transform="translate(209.75 514.10) rotate(-50)" text-anchor="end" class="xl">15/08/2023</text>
<text transform="translate(222.81 514.10) rotate(-50)" text-anchor="end" class="xl">25/08/2023</text>
<text transform="translate(235.86 514.10) rotate(-50)" text-anchor="end" class="xl">06/09/2023</text>
<text transform="translate(248.92 514.10) rotate(-50)" text-anchor="end" class="xl">18/09/2023</text>
<text transform="translate(261.97 514.10) rotate(-50)" text-anchor="end" class="xl">28/09/2023</text>
<text transform="translate(275.02 514.10) rotate(-50)" text-anchor="end" class="xl">10/10/2023</text>
<text transform="translate(288.08 514.10) rotate(-50)" text-anchor="end" class="xl">20/10/2023</text>
<text transform="translate(301.13 514.10) rotate(-50)" text-anchor="end" class="xl">01/11/2023</text>
<text transform="translate(314.19 514.10) rotate(-50)" text-anchor="end" class="xl">13/11/2023</text>
<text transform="translate(327.24 514.10) rotate(-50)" text-anchor="end" class="xl">23/11/2023</text>
<text transform="translate(340.30 514.10) rotate(-50)" text-anchor="end" class="xl">05/12/2023</text>
<text transform="translate(353.35 514.10) rotate(-50)" text-anchor="end" class="xl">15/12/2023</text>
<text transform="translate(366.41 514.10) rotate(-50)" text-anchor="end" class="xl">27/12/2023</text>
<text transform="translate(379.46 514.10) rotate(-50)" text-anchor="end" class="xl">08/01/2024</text>
<text transform="translate(392.51 514.10) rotate(-50)" text-anchor="end" class="xl">18/01/2024</text>
<text transform="translate(405.57 514.10) rotate(-50)" text-anchor="end" class="xl">30/01/2024</text>
<text transform="translate(418.62 514.10) rotate(-50)" text-anchor="end" class="xl">09/02/2024</text>
<text transform="translate(431.68 514.10) rotate(-50)" text-anchor="end" class="xl">21/02/2024</text>
<text transform="translate(444.73 514.10) rotate(-50)" text-anchor="end" class="xl">04/03/2024</text>
<text transform="translate(457.79 514.10) rotate(-50)" text-anchor="end" class="xl">14/03/2024</text>
<text transform="translate(470.84 514.10) rotate(-50)" text-anchor="end" class="xl">26/03/2024</text>
<text transform="translate(483.90 514.10) rotate(-50)" text-anchor="end" class="xl">05/04/2024</text>
<text transform="translate(496.95 514.10) rotate(-50)" text-anchor="end" class="xl">17/04/2024</text>
<text transform="translate(510.00 514.10) rotate(-50)" text-anchor="end" class="xl">29/04/2024</text>
<text transform="translate(523.06 514.10) rotate(-50)" text-anchor="end" class="xl">09/05/2024</text>
<text transform="translate(536.11 514.10) rotate(-50)" text-anchor="end" class="xl">21/05/2024</text>
<text transform="translate(549.17 514.10) rotate(-50)" text-anchor="end" class="xl">31/05/2024</text>
<text transform="translate(562.22 514.10) rotate(-50)" text-anchor="end" class="xl">12/06/2024</text>
<text transform="translate(575.28 514.10) rotate(-50)" text-anchor="end" class="xl">24/06/2024</text>
<text transform="translate(588.33 514.10) rotate(-50)" text-anchor="end" class="xl">04/07/2024</text>
<text transform="translate(601.38 514.10) rotate(-50)" text-anchor="end" class="xl">16/07/2024</text>
<text transform="translate(614.44 514.10) rotate(-50)" text-anchor="end" class="xl">26/07/2024</text>
<text transform="translate(627.49 514.10) rotate(-50)" text-anchor="end" class="xl">07/08/2024</text>
<g stroke="#aedbe3" fill="rgba(174,219,227,0.18)">
<polyline points="52.20,445.02 53.83,441.12 55.46,439.17 57.10,439.17 58.73,439.17 60.36,439.17 61.99,441.12 63.62,443.07 65.25,445.02 66.89,446.98 68.52,446.98 70.15,445.02 71.78,445.02 73.41,445.02 75.05,445.02 76.68,445.02 78.31,445.02 79.94,445.02 81.57,445.02 83.20,445.02 84.84,445.02 86.47,445.02 88.10,445.02 89.73,450.88 91.36,450.88 93.00,450.88 94.63,450.88 96.26,452.84 97.89,454.79 99.52,458.69 101.15,460.64 102.79,460.64 104.42,458.69 106.05,456.74 107.68,460.64 109.31,462.60 110.94,462.60 112.58,462.60 114.21,462.60 115.84,462.60 117.47,462.60 119.10,462.60 120.74,462.60 122.37,462.60 124.00,464.55 125.63,466.50 127.26,468.46 128.89,474.31 130.53,474.31 132.16,474.31 133.79,474.31 135.42,470.41 137.05,470.41 138.69,468.46 140.32,466.50 141.95,462.60 143.58,462.60 145.21,462.60 146.84,462.60 148.48,462.60 150.11,462.60 151.74,464.55 153.37,464.55 155.00,466.50 156.64,468.46 158.27,472.36 159.90,474.31 161.53,474.31 163.16,474.31 164.79,474.31 166.43,474.31 168.06,474.31 169.69,474.31 171.32,476.26 172.95,476.26 174.58,478.22 176.22,478.22 177.85,478.22 179.48,478.22 181.11,476.26 182.74,474.31 184.38,470.41 186.01,466.50 187.64,462.60 189.27,458.69 190.90,456.74 192.53,454.79 194.17,454.79 195.80,454.79 197.43,456.74 199.06,460.64 200.69,462.60 202.33,464.55 203.96,464.55 205.59,464.55 207.22,464.55 208.85,464.55 210.48,462.60 212.12,462.60 213.75,462.60 215.38,462.60 217.01,462.60 218.64,464.55 220.28,466.50 221.91,466.50 223.54,466.50 225.17,466.50 226.80,466.50 228.43,466.50 230.07,466.50 231.70,466.50 233.33,466.50 234.96,466.50 236.59,466.50 238.23,464.55 239.86,464.55 241.49,462.60 243.12,458.69 244.75,456.74 246.38,456.74 248.02,456.74 249.65,458.69 251.28,458.69 252.91,460.64 254.54,460.64 256.18,462.60 257.81,464.55 259.44,462.60 261.07,462.60 262.70,462.60 264.33,462.60 265.97,462.60 267.60,462.60 269.23,462.60 270.86,462.60 272.49,462.60 274.12,460.64 275.76,454.79 277.39,452.84 279.02,452.84 280.65,452.84 282.28,450.88 283.92,450.88 285.55,450.88 287.18,450.88 288.81,450.88 290.44,450.88 292.07,450.88 293.71,450.88 295.34,452.84 296.97,454.79 298.60,458.69 300.23,460.64 301.87,460.64 303.50,462.60 305.13,462.60 306.76,464.55 308.39,466.50 310.02,468.46 311.66,468.46 313.29,468.46 314.92,468.46 316.55,470.41 318.18,470.41 319.82,470.41 321.45,470.41 323.08,470.41 324.71,470.41 326.34,470.41 327.97,472.36 329.61,472.36 331.24,474.31 332.87,474.31 334.50,476.26 336.13,476.26 337.76,474.31 339.40,472.36 341.03,472.36 342.66,470.41 344.29,468.46 345.92,466.50 347.56,464.55 349.19,462.60 350.82,458.69 352.45,452.84 354.08,448.93 355.71,446.98 357.35,446.98 358.98,445.02 360.61,445.02 362.24,445.02 363.87,445.02 365.51,445.02 367.14,445.02 368.77,445.02 370.40,445.02 372.03,445.02 373.66,445.02 375.30,445.02 376.93,446.98 378.56,446.98 380.19,448.93 381.82,446.98 383.46,443.07 385.09,443.07 386.72,443.07 388.35,441.12 389.98,439.17 391.61,431.36 393.25,419.64 394.88,404.02 396.51,390.36 398.14,378.64 399.77,368.88 401.41,370.83 403.04,384.50 404.67,384.50 406.30,388.40 407.93,392.31 409.56,398.16 411.20,402.07 412.83,405.98 414.46,405.98 416.09,407.93 417.72,411.83 419.35,413.78 420.99,417.69 422.62,421.60 424.25,423.55 425.88,427.45 427.51,431.36 429.15,433.31 430.78,437.22 432.41,441.12 434.04,443.07 435.67,446.98 437.30,450.88 438.94,450.88 440.57,450.88 442.20,450.88 443.83,450.88 445.46,450.88 447.10,450.88 448.73,448.93 450.36,448.93 451.99,448.93 453.62,443.07 455.25,419.64 456.89,407.93 458.52,404.02 460.15,400.12 461.78,394.26 463.41,394.26 465.05,394.26 466.68,396.21 468.31,400.12 469.94,405.98 471.57,415.74 473.20,417.69 474.84,417.69 476.47,417.69 478.10,417.69 479.73,417.69 481.36,431.36 483.00,435.26 484.63,445.02 486.26,445.02 487.89,445.02 489.52,445.02 491.15,441.12 492.79,439.17 494.42,435.26 496.05,433.31 497.68,429.40 499.31,429.40 500.94,429.40 502.58,427.45 504.21,425.50 505.84,425.50 507.47,425.50 509.10,427.45 510.74,431.36 512.37,435.26 514.00,437.22 515.63,437.22 517.26,437.22 518.89,435.26 520.53,431.36 522.16,429.40 523.79,427.45 525.42,427.45 527.05,419.64 528.69,415.74 530.32,415.74 531.95,415.74 533.58,415.74 535.21,413.78 536.84,409.88 538.48,407.93 540.11,405.98 541.74,405.98 543.37,409.88 545.00,415.74 546.64,417.69 548.27,421.60 549.90,423.55 551.53,423.55 553.16,425.50 554.79,425.50 556.43,427.45 558.06,429.40 559.69,429.40 561.32,431.36 562.95,431.36 564.59,431.36 566.22,431.36 567.85,429.40 569.48,429.40 571.11,429.40 572.74,429.40 574.38,431.36 576.01,433.31 577.64,433.31 579.27,433.31 580.90,433.31 582.53,433.31 584.17,433.31 585.80,433.31 587.43,433.31 589.06,431.36 590.69,433.31 592.33,433.31 593.96,433.31 595.59,435.26 597.22,435.26 598.85,437.22 600.48,441.12 602.12,443.07 603.75,446.98 605.38,450.88 607.01,454.79 608.64,458.69 610.28,460.64 611.91,460.64 613.54,460.64 615.17,460.64 616.80,460.64 618.43,460.64 620.07,460.64 621.70,460.64 623.33,460.64 624.96,462.60 626.59,468.46 628.23,472.36" fill="none" stroke-width="0.7"/>
<g stroke-width="0.65"><circle cx="52.20" cy="445.02" r="1.7"/><circle cx="53.83" cy="441.12" r="1.7"/><circle cx="55.46" cy="439.17" r="1.7"/><circle cx="57.10" cy="439.17" r="1.7"/><circle cx="58.73" cy="439.17" r="1.7"/><circle cx="60.36" cy="439.17" r="1.7"/><circle cx="61.99" cy="441.12" r="1.7"/><circle cx="63.62" cy="443.07" r="1.7"/><circle cx="65.25" cy="445.02" r="1.7"/><circle cx="66.89" cy="446.98" r="1.7"/><circle cx="68.52" cy="446.98" r="1.7"/><circle cx="70.15" cy="445.02" r="1.7"/><circle cx="71.78" cy="445.02" r="1.7"/><circle cx="73.41" cy="445.02" r="1.7"/><circle cx="75.05" cy="445.02" r="1.7"/><circle cx="76.68" cy="445.02" r="1.7"/><circle cx="78.31" cy="445.02" r="1.7"/><circle cx="79.94" cy="445.02" r="1.7"/><circle cx="81.57" cy="445.02" r="1.7"/><circle cx="83.20" cy="445.02" r="1.7"/><circle cx="84.84" cy="445.02" r="1.7"/><circle cx="86.47" cy="445.02" r="1.7"/><circle cx="88.10" cy="445.02" r="1.7"/><circle cx="89.73" cy="450.88" r="1.7"/><circle cx="91.36" cy="450.88" r="1.7"/><circle cx="93.00" cy="450.88" r="1.7"/><circle cx="94.63" cy="450.88" r="1.7"/><circle cx="96.26" cy="452.84" r="1.7"/><circle cx="97.89" cy="454.79" r="1.7"/><circle cx="99.52" cy="458.69" r="1.7"/><circle cx="101.15" cy="460.64" r="1.7"/><circle cx="102.79" cy="460.64" r="1.7"/><circle cx="104.42" cy="458.69" r="1.7"/><circle cx="106.05" cy="456.74" r="1.7"/><circle cx="107.68" cy="460.64" r="1.7"/><circle cx="109.31" cy="462.60" r="1.7"/><circle cx="110.94" cy="462.60" r="1.7"/><circle cx="112.58" cy="462.60" r="1.7"/><circle cx="114.21" cy="462.60" r="1.7"/><circle cx="115.84" cy="462.60" r="1.7"/><circle cx="117.47" cy="462.60" r="1.7"/><circle cx="119.10" cy="462.60" r="1.7"/><circle cx="120.74" cy="462.60" r="1.7"/><circle cx="122.37" cy="462.60" r="1.7"/><circle cx="124.00" cy="464.55" r="1.7"/><circle cx="125.63" cy="466.50" r="1.7"/><circle cx="127.26" cy="468.46" r="1.7"/><circle cx="128.89" cy="474.31" r="1.7"/><circle cx="130.53" cy="474.31" r="1.7"/><circle cx="132.16" cy="474.31" r="1.7"/><circle cx="133.79" cy="474.31" r="1.7"/><circle cx="135.42" cy="470.41" r="1.7"/><circle cx="137.05" cy="470.41" r="1.7"/><circle cx="138.69" cy="468.46" r="1.7"/><circle cx="140.32" cy="466.50" r="1.7"/><circle cx="141.95" cy="462.60" r="1.7"/><circle cx="143.58" cy="462.60" r="1.7"/><circle cx="145.21" cy="462.60" r="1.7"/><circle cx="146.84" cy="462.60" r="1.7"/><circle cx="148.48" cy="462.60" r="1.7"/><circle cx="150.11" cy="462.60" r="1.7"/><circle cx="151.74" cy="464.55" r="1.7"/><circle cx="153.37" cy="464.55" r="1.7"/><circle cx="155.00" cy="466.50" r="1.7"/><circle cx="156.64" cy="468.46" r="1.7"/><circle cx="158.27" cy="472.36" r="1.7"/><circle cx="159.90" cy="474.31" r="1.7"/><circle cx="161.53" cy="474.31" r="1.7"/><circle cx="163.16" cy="474.31" r="1.7"/><circle cx="164.79" cy="474.31" r="1.7"/><circle cx="166.43" cy="474.31" r="1.7"/><circle cx="168.06" cy="474.31" r="1.7"/><circle cx="169.69" cy="474.31" r="1.7"/><circle cx="171.32" cy="476.26" r="1.7"/><circle cx="172.95" cy="476.26" r="1.7"/><circle cx="174.58" cy="478.22" r="1.7"/><circle cx="176.22" cy="478.22" r="1.7"/><circle cx="177.85" cy="478.22" r="1.7"/><circle cx="179.48" cy="478.22" r="1.7"/><circle cx="181.11" cy="476.26" r="1.7"/><circle cx="182.74" cy="474.31" r="1.7"/><circle cx="184.38" cy="470.41" r="1.7"/><circle cx="186.01" cy="466.50" r="1.7"/><circle cx="187.64" cy="462.60" r="1.7"/><circle cx="189.27" cy="458.69" r="1.7"/><circle cx="190.90" cy="456.74" r="1.7"/><circle cx="192.53" cy="454.79" r="1.7"/><circle cx="194.17" cy="454.79" r="1.7"/><circle cx="195.80" cy="454.79" r="1.7"/><circle cx="197.43" cy="456.74" r="1.7"/><circle cx="199.06" cy="460.64" r="1.7"/><circle cx="200.69" cy="462.60" r="1.7"/><circle cx="202.33" cy="464.55" r="1.7"/><circle cx="203.96" cy="464.55" r="1.7"/><circle cx="205.59" cy="464.55" r="1.7"/><circle cx="207.22" cy="464.55" r="1.7"/><circle cx="208.85" cy="464.55" r="1.7"/><circle cx="210.48" cy="462.60" r="1.7"/><circle cx="212.12" cy="462.60" r="1.7"/><circle cx="213.75" cy="462.60" r="1.7"/><circle cx="215.38" cy="462.60" r="1.7"/><circle cx="217.01" cy="462.60" r="1.7"/><circle cx="218.64" cy="464.55" r="1.7"/><circle cx="220.28" cy="466.50" r="1.7"/><circle cx="221.91" cy="466.50" r="1.7"/><circle cx="223.54" cy="466.50" r="1.7"/><circle cx="225.17" cy="466.50" r="1.7"/><circle cx="226.80" cy="466.50" r="1.7"/><circle cx="228.43" cy="466.50" r="1.7"/><circle cx="230.07" cy="466.50" r="1.7"/><circle cx="231.70" cy="466.50" r="1.7"/><circle cx="233.33" cy="466.50" r="1.7"/><circle cx="234.96" cy="466.50" r="1.7"/><circle cx="236.59" cy="466.50" r="1.7"/><circle cx="238.23" cy="464.55" r="1.7"/><circle cx="239.86" cy="464.55" r="1.7"/><circle cx="241.49" cy="462.60" r="1.7"/><circle cx="243.12" cy="458.69" r="1.7"/><circle cx="244.75" cy="456.74" r="1.7"/><circle cx="246.38" cy="456.74" r="1.7"/><circle cx="248.02" cy="456.74" r="1.7"/><circle cx="249.65" cy="458.69" r="1.7"/><circle cx="251.28" cy="458.69" r="1.7"/><circle cx="252.91" cy="460.64" r="1.7"/><circle cx="254.54" cy="460.64" r="1.7"/><circle cx="256.18" cy="462.60" r="1.7"/><circle cx="257.81" cy="464.55" r="1.7"/><circle cx="259.44" cy="462.60" r="1.7"/><circle cx="261.07" cy="462.60" r="1.7"/><circle cx="262.70" cy="462.60" r="1.7"/><circle cx="264.33" cy="462.60" r="1.7"/><circle cx="265.97" cy="462.60" r="1.7"/><circle cx="267.60" cy="462.60" r="1.7"/><circle cx="269.23" cy="462.60" r="1.7"/><circle cx="270.86" cy="462.60" r="1.7"/><circle cx="272.49" cy="462.60" r="1.7"/><circle cx="274.12" cy="460.64" r="1.7"/><circle cx="275.76" cy="454.79" r="1.7"/><circle cx="277.39" cy="452.84" r="1.7"/><circle cx="279.02" cy="452.84" r="1.7"/><circle cx="280.65" cy="452.84" r="1.7"/><circle cx="282.28" cy="450.88" r="1.7"/><circle cx="283.92" cy="450.88" r="1.7"/><circle cx="285.55" cy="450.88" r="1.7"/><circle cx="287.18" cy="450.88" r="1.7"/><circle cx="288.81" cy="450.88" r="1.7"/><circle cx="290.44" cy="450.88" r="1.7"/><circle cx="292.07" cy="450.88" r="1.7"/><circle cx="293.71" cy="450.88" r="1.7"/><circle cx="295.34" cy="452.84" r="1.7"/><circle cx="296.97" cy="454.79" r="1.7"/><circle cx="298.60" cy="458.69" r="1.7"/><circle cx="300.23" cy="460.64" r="1.7"/><circle cx="301.87" cy="460.64" r="1.7"/><circle cx="303.50" cy="462.60" r="1.7"/><circle cx="305.13" cy="462.60" r="1.7"/><circle cx="306.76" cy="464.55" r="1.7"/><circle cx="308.39" cy="466.50" r="1.7"/><circle cx="310.02" cy="468.46" r="1.7"/><circle cx="311.66" cy="468.46" r="1.7"/><circle cx="313.29" cy="468.46" r="1.7"/><circle cx="314.92" cy="468.46" r="1.7"/><circle cx="316.55" cy="470.41" r="1.7"/><circle cx="318.18" cy="470.41" r="1.7"/><circle cx="319.82" cy="470.41" r="1.7"/><circle cx="321.45" cy="470.41" r="1.7"/><circle cx="323.08" cy="470.41" r="1.7"/><circle cx="324.71" cy="470.41" r="1.7"/><circle cx="326.34" cy="470.41" r="1.7"/><circle cx="327.97" cy="472.36" r="1.7"/><circle cx="329.61" cy="472.36" r="1.7"/><circle cx="331.24" cy="474.31" r="1.7"/><circle cx="332.87" cy="474.31" r="1.7"/><circle cx="334.50" cy="476.26" r="1.7"/><circle cx="336.13" cy="476.26" r="1.7"/><circle cx="337.76" cy="474.31" r="1.7"/><circle cx="339.40" cy="472.36" r="1.7"/><circle cx="341.03" cy="472.36" r="1.7"/><circle cx="342.66" cy="470.41" r="1.7"/><circle cx="344.29" cy="468.46" r="1.7"/><circle cx="345.92" cy="466.50" r="1.7"/><circle cx="347.56" cy="464.55" r="1.7"/><circle cx="349.19" cy="462.60" r="1.7"/><circle cx="350.82" cy="458.69" r="1.7"/><circle cx="352.45" cy="452.84" r="1.7"/><circle cx="354.08" cy="448.93" r="1.7"/><circle cx="355.71" cy="446.98" r="1.7"/><circle cx="357.35" cy="446.98" r="1.7"/><circle cx="358.98" cy="445.02" r="1.7"/><circle cx="360.61" cy="445.02" r="1.7"/><circle cx="362.24" cy="445.02" r="1.7"/><circle cx="363.87" cy="445.02" r="1.7"/><circle cx="365.51" cy="445.02" r="1.7"/><circle cx="367.14" cy="445.02" r="1.7"/><circle cx="368.77" cy="445.02" r="1.7"/><circle cx="370.40" cy="445.02" r="1.7"/><circle cx="372.03" cy="445.02" r="1.7"/><circle cx="373.66" cy="445.02" r="1.7"/><circle cx="375.30" cy="445.02" r="1.7"/><circle cx="376.93" cy="446.98" r="1.7"/><circle cx="378.56" cy="446.98" r="1.7"/><circle cx="380.19" cy="448.93" r="1.7"/><circle cx="381.82" cy="446.98" r="1.7"/><circle cx="383.46" cy="443.07" r="1.7"/><circle cx="385.09" cy="443.07" r="1.7"/><circle cx="386.72" cy="443.07" r="1.7"/><circle cx="388.35" cy="441.12" r="1.7"/><circle cx="389.98" cy="439.17" r="1.7"/><circle cx="391.61" cy="431.36" r="1.7"/><circle cx="393.25" cy="419.64" r="1.7"/><circle cx="394.88" cy="404.02" r="1.7"/><circle cx="396.51" cy="390.36" r="1.7"/><circle cx="398.14" cy="378.64" r="1.7"/><circle cx="399.77" cy="368.88" r="1.7"/><circle cx="401.41" cy="370.83" r="1.7"/><circle cx="403.04" cy="384.50" r="1.7"/><circle cx="404.67" cy="384.50" r="1.7"/><circle cx="406.30" cy="388.40" r="1.7"/><circle cx="407.93" cy="392.31" r="1.7"/><circle cx="409.56" cy="398.16" r="1.7"/><circle cx="411.20" cy="402.07" r="1.7"/><circle cx="412.83" cy="405.98" r="1.7"/><circle cx="414.46" cy="405.98" r="1.7"/><circle cx="416.09" cy="407.93" r="1.7"/><circle cx="417.72" cy="411.83" r="1.7"/><circle cx="419.35" cy="413.78" r="1.7"/><circle cx="420.99" cy="417.69" r="1.7"/><circle cx="422.62" cy="421.60" r="1.7"/><circle cx="424.25" cy="423.55" r="1.7"/><circle cx="425.88" cy="427.45" r="1.7"/><circle cx="427.51" cy="431.36" r="1.7"/><circle cx="429.15" cy="433.31" r="1.7"/><circle cx="430.78" cy="437.22" r="1.7"/><circle cx="432.41" cy="441.12" r="1.7"/><circle cx="434.04" cy="443.07" r="1.7"/><circle cx="435.67" cy="446.98" r="1.7"/><circle cx="437.30" cy="450.88" r="1.7"/><circle cx="438.94" cy="450.88" r="1.7"/><circle cx="440.57" cy="450.88" r="1.7"/><circle cx="442.20" cy="450.88" r="1.7"/><circle cx="443.83" cy="450.88" r="1.7"/><circle cx="445.46" cy="450.88" r="1.7"/><circle cx="447.10" cy="450.88" r="1.7"/><circle cx="448.73" cy="448.93" r="1.7"/><circle cx="450.36" cy="448.93" r="1.7"/><circle cx="451.99" cy="448.93" r="1.7"/><circle cx="453.62" cy="443.07" r="1.7"/><circle cx="455.25" cy="419.64" r="1.7"/><circle cx="456.89" cy="407.93" r="1.7"/><circle cx="458.52" cy="404.02" r="1.7"/><circle cx="460.15" cy="400.12" r="1.7"/><circle cx="461.78" cy="394.26" r="1.7"/><circle cx="463.41" cy="394.26" r="1.7"/><circle cx="465.05" cy="394.26" r="1.7"/><circle cx="466.68" cy="396.21" r="1.7"/><circle cx="468.31" cy="400.12" r="1.7"/><circle cx="469.94" cy="405.98" r="1.7"/><circle cx="471.57" cy="415.74" r="1.7"/><circle cx="473.20" cy="417.69" r="1.7"/><circle cx="474.84" cy="417.69" r="1.7"/><circle cx="476.47" cy="417.69" r="1.7"/><circle cx="478.10" cy="417.69" r="1.7"/><circle cx="479.73" cy="417.69" r="1.7"/><circle cx="481.36" cy="431.36" r="1.7"/><circle cx="483.00" cy="435.26" r="1.7"/><circle cx="484.63" cy="445.02" r="1.7"/><circle cx="486.26" cy="445.02" r="1.7"/><circle cx="487.89" cy="445.02" r="1.7"/><circle cx="489.52" cy="445.02" r="1.7"/><circle cx="491.15" cy="441.12" r="1.7"/><circle cx="492.79" cy="439.17" r="1.7"/><circle cx="494.42" cy="435.26" r="1.7"/><circle cx="496.05" cy="433.31" r="1.7"/><circle cx="497.68" cy="429.40" r="1.7"/><circle cx="499.31" cy="429.40" r="1.7"/><circle cx="500.94" cy="429.40" r="1.7"/><circle cx="502.58" cy="427.45" r="1.7"/><circle cx="504.21" cy="425.50" r="1.7"/><circle cx="505.84" cy="425.50" r="1.7"/><circle cx="507.47" cy="425.50" r="1.7"/><circle cx="509.10" cy="427.45" r="1.7"/><circle cx="510.74" cy="431.36" r="1.7"/><circle cx="512.37" cy="435.26" r="1.7"/><circle cx="514.00" cy="437.22" r="1.7"/><circle cx="515.63" cy="437.22" r="1.7"/><circle cx="517.26" cy="437.22" r="1.7"/><circle cx="518.89" cy="435.26" r="1.7"/><circle cx="520.53" cy="431.36" r="1.7"/><circle cx="522.16" cy="429.40" r="1.7"/><circle cx="523.79" cy="427.45" r="1.7"/><circle cx="525.42" cy="427.45" r="1.7"/><circle cx="527.05" cy="419.64" r="1.7"/><circle cx="528.69" cy="415.74" r="1.7"/><circle cx="530.32" cy="415.74" r="1.7"/><circle cx="531.95" cy="415.74" r="1.7"/><circle cx="533.58" cy="415.74" r="1.7"/><circle cx="535.21" cy="413.78" r="1.7"/><circle cx="536.84" cy="409.88" r="1.7"/><circle cx="538.48" cy="407.93" r="1.7"/><circle cx="540.11" cy="405.98" r="1.7"/><circle cx="541.74" cy="405.98" r="1.7"/><circle cx="543.37" cy="409.88" r="1.7"/><circle cx="545.00" cy="415.74" r="1.7"/><circle cx="546.64" cy="417.69" r="1.7"/><circle cx="548.27" cy="421.60" r="1.7"/><circle cx="549.90" cy="423.55" r="1.7"/><circle cx="551.53" cy="423.55" r="1.7"/><circle cx="553.16" cy="425.50" r="1.7"/><circle cx="554.79" cy="425.50" r="1.7"/><circle cx="556.43" cy="427.45" r="1.7"/><circle cx="558.06" cy="429.40" r="1.7"/><circle cx="559.69" cy="429.40" r="1.7"/><circle cx="561.32" cy="431.36" r="1.7"/><circle cx="562.95" cy="431.36" r="1.7"/><circle cx="564.59" cy="431.36" r="1.7"/><circle cx="566.22" cy="431.36" r="1.7"/><circle cx="567.85" cy="429.40" r="1.7"/><circle cx="569.48" cy="429.40" r="1.7"/><circle cx="571.11" cy="429.40" r="1.7"/><circle cx="572.74" cy="429.40" r="1.7"/><circle cx="574.38" cy="431.36" r="1.7"/><circle cx="576.01" cy="433.31" r="1.7"/><circle cx="577.64" cy="433.31" r="1.7"/><circle cx="579.27" cy="433.31" r="1.7"/><circle cx="580.90" cy="433.31" r="1.7"/><circle cx="582.53" cy="433.31" r="1.7"/><circle cx="584.17" cy="433.31" r="1.7"/><circle cx="585.80" cy="433.31" r="1.7"/><circle cx="587.43" cy="433.31" r="1.7"/><circle cx="589.06" cy="431.36" r="1.7"/><circle cx="590.69" cy="433.31" r="1.7"/><circle cx="592.33" cy="433.31" r="1.7"/><circle cx="593.96" cy="433.31" r="1.7"/><circle cx="595.59" cy="435.26" r="1.7"/><circle cx="597.22" cy="435.26" r="1.7"/><circle cx="598.85" cy="437.22" r="1.7"/><circle cx="600.48" cy="441.12" r="1.7"/><circle cx="602.12" cy="443.07" r="1.7"/><circle cx="603.75" cy="446.98" r="1.7"/><circle cx="605.38" cy="450.88" r="1.7"/><circle cx="607.01" cy="454.79" r="1.7"/><circle cx="608.64" cy="458.69" r="1.7"/><circle cx="610.28" cy="460.64" r="1.7"/><circle cx="611.91" cy="460.64" r="1.7"/><circle cx="613.54" cy="460.64" r="1.7"/><circle cx="615.17" cy="460.64" r="1.7"/><circle cx="616.80" cy="460.64" r="1.7"/><circle cx="618.43" cy="460.64" r="1.7"/><circle cx="620.07" cy="460.64" r="1.7"/><circle cx="621.70" cy="460.64" r="1.7"/><circle cx="623.33" cy="460.64" r="1.7"/><circle cx="624.96" cy="462.60" r="1.7"/><circle cx="626.59" cy="468.46" r="1.7"/><circle cx="628.23" cy="472.36" r="1.7"/></g>
</g>
<g stroke="#37535f" fill="rgba(55,83,95,0.09)">
<polyline points="52.20,454.79 53.83,454.79 55.46,454.79 57.10,454.79 58.73,454.79 60.36,456.74 61.99,458.69 63.62,460.64 65.25,460.64 66.89,462.60 68.52,462.60 70.15,460.64 71.78,450.88 73.41,450.88 75.05,450.88 76.68,452.84 78.31,452.84 79.94,452.84 81.57,452.84 83.20,452.84 84.84,452.84 86.47,452.84 88.10,452.84 89.73,464.55 91.36,464.55 93.00,462.60 94.63,460.64 96.26,460.64 97.89,460.64 99.52,460.64 101.15,464.55 102.79,474.31 104.42,476.26 106.05,476.26 107.68,476.26 109.31,474.31 110.94,474.31 112.58,474.31 114.21,464.55 115.84,464.55 117.47,464.55 119.10,464.55 120.74,464.55 122.37,464.55 124.00,468.46 125.63,470.41 127.26,470.41 128.89,474.31 130.53,478.22 132.16,478.22 133.79,478.22 135.42,480.17 137.05,480.17 138.69,480.17 140.32,476.26 141.95,476.26 143.58,478.22 145.21,478.22 146.84,476.26 148.48,474.31 150.11,472.36 151.74,474.31 153.37,476.26 155.00,478.22 156.64,478.22 158.27,480.17 159.90,480.17 161.53,482.12 163.16,482.12 164.79,482.12 166.43,482.12 168.06,482.12 169.69,482.12 171.32,482.12 172.95,484.08 174.58,486.03 176.22,486.03 177.85,487.98 179.48,486.03 181.11,484.08 182.74,482.12 184.38,480.17 186.01,476.26 187.64,468.46 189.27,466.50 190.90,462.60 192.53,462.60 194.17,462.60 195.80,462.60 197.43,464.55 199.06,470.41 200.69,470.41 202.33,472.36 203.96,476.26 205.59,474.31 207.22,474.31 208.85,474.31 210.48,472.36 212.12,472.36 213.75,470.41 215.38,468.46 217.01,468.46 218.64,468.46 220.28,470.41 221.91,470.41 223.54,472.36 225.17,470.41 226.80,470.41 228.43,470.41 230.07,470.41 231.70,472.36 233.33,470.41 234.96,468.46 236.59,468.46 238.23,468.46 239.86,468.46 241.49,466.50 243.12,466.50 244.75,466.50 246.38,468.46 248.02,470.41 249.65,470.41 251.28,470.41 252.91,470.41 254.54,472.36 256.18,472.36 257.81,474.31 259.44,472.36 261.07,470.41 262.70,468.46 264.33,468.46 265.97,468.46 267.60,468.46 269.23,468.46 270.86,466.50 272.49,466.50 274.12,466.50 275.76,464.55 277.39,462.60 279.02,462.60 280.65,460.64 282.28,458.69 283.92,456.74 285.55,454.79 287.18,454.79 288.81,454.79 290.44,454.79 292.07,454.79 293.71,454.79 295.34,456.74 296.97,458.69 298.60,460.64 300.23,462.60 301.87,466.50 303.50,468.46 305.13,468.46 306.76,468.46 308.39,468.46 310.02,470.41 311.66,470.41 313.29,472.36 314.92,474.31 316.55,474.31 318.18,474.31 319.82,474.31 321.45,472.36 323.08,472.36 324.71,470.41 326.34,472.36 327.97,472.36 329.61,474.31 331.24,474.31 332.87,476.26 334.50,478.22 336.13,480.17 337.76,478.22 339.40,474.31 341.03,472.36 342.66,470.41 344.29,470.41 345.92,468.46 347.56,464.55 349.19,460.64 350.82,456.74 352.45,454.79 354.08,452.84 355.71,450.88 357.35,450.88 358.98,450.88 360.61,448.93 362.24,448.93 363.87,448.93 365.51,448.93 367.14,448.93 368.77,448.93 370.40,448.93 372.03,450.88 373.66,452.84 375.30,456.74 376.93,456.74 378.56,458.69 380.19,462.60 381.82,464.55 383.46,462.60 385.09,462.60 386.72,462.60 388.35,462.60 389.98,454.79 391.61,443.07 393.25,429.40 394.88,419.64 396.51,404.02 398.14,386.45 399.77,386.45 401.41,386.45 403.04,386.45 404.67,386.45 406.30,386.45 407.93,398.16 409.56,398.16 411.20,400.12 412.83,411.83 414.46,415.74 416.09,419.64 417.72,421.60 419.35,421.60 420.99,425.50 422.62,425.50 424.25,425.50 425.88,429.40 427.51,435.26 429.15,445.02 430.78,446.98 432.41,452.84 434.04,454.79 435.67,456.74 437.30,460.64 438.94,464.55 440.57,466.50 442.20,466.50 443.83,466.50 445.46,466.50 447.10,462.60 448.73,462.60 450.36,460.64 451.99,456.74 453.62,450.88 455.25,427.45 456.89,415.74 458.52,413.78 460.15,405.98 461.78,398.16 463.41,398.16 465.05,398.16 466.68,400.12 468.31,405.98 469.94,411.83 471.57,429.40 473.20,429.40 474.84,425.50 476.47,427.45 478.10,431.36 479.73,435.26 481.36,441.12 483.00,448.93 484.63,452.84 486.26,454.79 487.89,458.69 489.52,456.74 491.15,448.93 492.79,445.02 494.42,441.12 496.05,439.17 497.68,437.22 499.31,437.22 500.94,437.22 502.58,437.22 504.21,437.22 505.84,439.17 507.47,441.12 509.10,443.07 510.74,443.07 512.37,443.07 514.00,445.02 515.63,443.07 517.26,443.07 518.89,441.12 520.53,439.17 522.16,433.31 523.79,431.36 525.42,427.45 527.05,427.45 528.69,427.45 530.32,425.50 531.95,425.50 533.58,425.50 535.21,421.60 536.84,417.69 538.48,417.69 540.11,417.69 541.74,417.69 543.37,423.55 545.00,425.50 546.64,425.50 548.27,429.40 549.90,433.31 551.53,435.26 553.16,437.22 554.79,437.22 556.43,441.12 558.06,446.98 559.69,450.88 561.32,448.93 562.95,443.07 564.59,443.07 566.22,443.07 567.85,443.07 569.48,443.07 571.11,445.02 572.74,446.98 574.38,446.98 576.01,448.93 577.64,450.88 579.27,450.88 580.90,450.88 582.53,448.93 584.17,448.93 585.80,448.93 587.43,448.93 589.06,450.88 590.69,452.84 592.33,454.79 593.96,452.84 595.59,452.84 597.22,452.84 598.85,454.79 600.48,456.74 602.12,456.74 603.75,458.69 605.38,460.64 607.01,462.60 608.64,464.55 610.28,464.55 611.91,464.55 613.54,464.55 615.17,464.55 616.80,464.55 618.43,464.55 620.07,464.55 621.70,464.55 623.33,464.55 624.96,466.50 626.59,474.31 628.23,474.31" fill="none" stroke-width="0.7"/>
<g stroke-width="0.65"><circle cx="52.20" cy="454.79" r="1.7"/><circle cx="53.83" cy="454.79" r="1.7"/><circle cx="55.46" cy="454.79" r="1.7"/><circle cx="57.10" cy="454.79" r="1.7"/><circle cx="58.73" cy="454.79" r="1.7"/><circle cx="60.36" cy="456.74" r="1.7"/><circle cx="61.99" cy="458.69" r="1.7"/><circle cx="63.62" cy="460.64" r="1.7"/><circle cx="65.25" cy="460.64" r="1.7"/><circle cx="66.89" cy="462.60" r="1.7"/><circle cx="68.52" cy="462.60" r="1.7"/><circle cx="70.15" cy="460.64" r="1.7"/><circle cx="71.78" cy="450.88" r="1.7"/><circle cx="73.41" cy="450.88" r="1.7"/><circle cx="75.05" cy="450.88" r="1.7"/><circle cx="76.68" cy="452.84" r="1.7"/><circle cx="78.31" cy="452.84" r="1.7"/><circle cx="79.94" cy="452.84" r="1.7"/><circle cx="81.57" cy="452.84" r="1.7"/><circle cx="83.20" cy="452.84" r="1.7"/><circle cx="84.84" cy="452.84" r="1.7"/><circle cx="86.47" cy="452.84" r="1.7"/><circle cx="88.10" cy="452.84" r="1.7"/><circle cx="89.73" cy="464.55" r="1.7"/><circle cx="91.36" cy="464.55" r="1.7"/><circle cx="93.00" cy="462.60" r="1.7"/><circle cx="94.63" cy="460.64" r="1.7"/><circle cx="96.26" cy="460.64" r="1.7"/><circle cx="97.89" cy="460.64" r="1.7"/><circle cx="99.52" cy="460.64" r="1.7"/><circle cx="101.15" cy="464.55" r="1.7"/><circle cx="102.79" cy="474.31" r="1.7"/><circle cx="104.42" cy="476.26" r="1.7"/><circle cx="106.05" cy="476.26" r="1.7"/><circle cx="107.68" cy="476.26" r="1.7"/><circle cx="109.31" cy="474.31" r="1.7"/><circle cx="110.94" cy="474.31" r="1.7"/><circle cx="112.58" cy="474.31" r="1.7"/><circle cx="114.21" cy="464.55" r="1.7"/><circle cx="115.84" cy="464.55" r="1.7"/><circle cx="117.47" cy="464.55" r="1.7"/><circle cx="119.10" cy="464.55" r="1.7"/><circle cx="120.74" cy="464.55" r="1.7"/><circle cx="122.37" cy="464.55" r="1.7"/><circle cx="124.00" cy="468.46" r="1.7"/><circle cx="125.63" cy="470.41" r="1.7"/><circle cx="127.26" cy="470.41" r="1.7"/><circle cx="128.89" cy="474.31" r="1.7"/><circle cx="130.53" cy="478.22" r="1.7"/><circle cx="132.16" cy="478.22" r="1.7"/><circle cx="133.79" cy="478.22" r="1.7"/><circle cx="135.42" cy="480.17" r="1.7"/><circle cx="137.05" cy="480.17" r="1.7"/><circle cx="138.69" cy="480.17" r="1.7"/><circle cx="140.32" cy="476.26" r="1.7"/><circle cx="141.95" cy="476.26" r="1.7"/><circle cx="143.58" cy="478.22" r="1.7"/><circle cx="145.21" cy="478.22" r="1.7"/><circle cx="146.84" cy="476.26" r="1.7"/><circle cx="148.48" cy="474.31" r="1.7"/><circle cx="150.11" cy="472.36" r="1.7"/><circle cx="151.74" cy="474.31" r="1.7"/><circle cx="153.37" cy="476.26" r="1.7"/><circle cx="155.00" cy="478.22" r="1.7"/><circle cx="156.64" cy="478.22" r="1.7"/><circle cx="158.27" cy="480.17" r="1.7"/><circle cx="159.90" cy="480.17" r="1.7"/><circle cx="161.53" cy="482.12" r="1.7"/><circle cx="163.16" cy="482.12" r="1.7"/><circle cx="164.79" cy="482.12" r="1.7"/><circle cx="166.43" cy="482.12" r="1.7"/><circle cx="168.06" cy="482.12" r="1.7"/><circle cx="169.69" cy="482.12" r="1.7"/><circle cx="171.32" cy="482.12" r="1.7"/><circle cx="172.95" cy="484.08" r="1.7"/><circle cx="174.58" cy="486.03" r="1.7"/><circle cx="176.22" cy="486.03" r="1.7"/><circle cx="177.85" cy="487.98" r="1.7"/><circle cx="179.48" cy="486.03" r="1.7"/><circle cx="181.11" cy="484.08" r="1.7"/><circle cx="182.74" cy="482.12" r="1.7"/><circle cx="184.38" cy="480.17" r="1.7"/><circle cx="186.01" cy="476.26" r="1.7"/><circle cx="187.64" cy="468.46" r="1.7"/><circle cx="189.27" cy="466.50" r="1.7"/><circle cx="190.90" cy="462.60" r="1.7"/><circle cx="192.53" cy="462.60" r="1.7"/><circle cx="194.17" cy="462.60" r="1.7"/><circle cx="195.80" cy="462.60" r="1.7"/><circle cx="197.43" cy="464.55" r="1.7"/><circle cx="199.06" cy="470.41" r="1.7"/><circle cx="200.69" cy="470.41" r="1.7"/><circle cx="202.33" cy="472.36" r="1.7"/><circle cx="203.96" cy="476.26" r="1.7"/><circle cx="205.59" cy="474.31" r="1.7"/><circle cx="207.22" cy="474.31" r="1.7"/><circle cx="208.85" cy="474.31" r="1.7"/><circle cx="210.48" cy="472.36" r="1.7"/><circle cx="212.12" cy="472.36" r="1.7"/><circle cx="213.75" cy="470.41" r="1.7"/><circle cx="215.38" cy="468.46" r="1.7"/><circle cx="217.01" cy="468.46" r="1.7"/><circle cx="218.64" cy="468.46" r="1.7"/><circle cx="220.28" cy="470.41" r="1.7"/><circle cx="221.91" cy="470.41" r="1.7"/><circle cx="223.54" cy="472.36" r="1.7"/><circle cx="225.17" cy="470.41" r="1.7"/><circle cx="226.80" cy="470.41" r="1.7"/><circle cx="228.43" cy="470.41" r="1.7"/><circle cx="230.07" cy="470.41" r="1.7"/><circle cx="231.70" cy="472.36" r="1.7"/><circle cx="233.33" cy="470.41" r="1.7"/><circle cx="234.96" cy="468.46" r="1.7"/><circle cx="236.59" cy="468.46" r="1.7"/><circle cx="238.23" cy="468.46" r="1.7"/><circle cx="239.86" cy="468.46" r="1.7"/><circle cx="241.49" cy="466.50" r="1.7"/><circle cx="243.12" cy="466.50" r="1.7"/><circle cx="244.75" cy="466.50" r="1.7"/><circle cx="246.38" cy="468.46" r="1.7"/><circle cx="248.02" cy="470.41" r="1.7"/><circle cx="249.65" cy="470.41" r="1.7"/><circle cx="251.28" cy="470.41" r="1.7"/><circle cx="252.91" cy="470.41" r="1.7"/><circle cx="254.54" cy="472.36" r="1.7"/><circle cx="256.18" cy="472.36" r="1.7"/><circle cx="257.81" cy="474.31" r="1.7"/><circle cx="259.44" cy="472.36" r="1.7"/><circle cx="261.07" cy="470.41" r="1.7"/><circle cx="262.70" cy="468.46" r="1.7"/><circle cx="264.33" cy="468.46" r="1.7"/><circle cx="265.97" cy="468.46" r="1.7"/><circle cx="267.60" cy="468.46" r="1.7"/><circle cx="269.23" cy="468.46" r="1.7"/><circle cx="270.86" cy="466.50" r="1.7"/><circle cx="272.49" cy="466.50" r="1.7"/><circle cx="274.12" cy="466.50" r="1.7"/><circle cx="275.76" cy="464.55" r="1.7"/><circle cx="277.39" cy="462.60" r="1.7"/><circle cx="279.02" cy="462.60" r="1.7"/><circle cx="280.65" cy="460.64" r="1.7"/><circle cx="282.28" cy="458.69" r="1.7"/><circle cx="283.92" cy="456.74" r="1.7"/><circle cx="285.55" cy="454.79" r="1.7"/><circle cx="287.18" cy="454.79" r="1.7"/><circle cx="288.81" cy="454.79" r="1.7"/><circle cx="290.44" cy="454.79" r="1.7"/><circle cx="292.07" cy="454.79" r="1.7"/><circle cx="293.71" cy="454.79" r="1.7"/><circle cx="295.34" cy="456.74" r="1.7"/><circle cx="296.97" cy="458.69" r="1.7"/><circle cx="298.60" cy="460.64" r="1.7"/><circle cx="300.23" cy="462.60" r="1.7"/><circle cx="301.87" cy="466.50" r="1.7"/><circle cx="303.50" cy="468.46" r="1.7"/><circle cx="305.13" cy="468.46" r="1.7"/><circle cx="306.76" cy="468.46" r="1.7"/><circle cx="308.39" cy="468.46" r="1.7"/><circle cx="310.02" cy="470.41" r="1.7"/><circle cx="311.66" cy="470.41" r="1.7"/><circle cx="313.29" cy="472.36" r="1.7"/><circle cx="314.92" cy="474.31" r="1.7"/><circle cx="316.55" cy="474.31" r="1.7"/><circle cx="318.18" cy="474.31" r="1.7"/><circle cx="319.82" cy="474.31" r="1.7"/><circle cx="321.45" cy="472.36" r="1.7"/><circle cx="323.08" cy="472.36" r="1.7"/><circle cx="324.71" cy="470.41" r="1.7"/><circle cx="326.34" cy="472.36" r="1.7"/><circle cx="327.97" cy="472.36" r="1.7"/><circle cx="329.61" cy="474.31" r="1.7"/><circle cx="331.24" cy="474.31" r="1.7"/><circle cx="332.87" cy="476.26" r="1.7"/><circle cx="334.50" cy="478.22" r="1.7"/><circle cx="336.13" cy="480.17" r="1.7"/><circle cx="337.76" cy="478.22" r="1.7"/><circle cx="339.40" cy="474.31" r="1.7"/><circle cx="341.03" cy="472.36" r="1.7"/><circle cx="342.66" cy="470.41" r="1.7"/><circle cx="344.29" cy="470.41" r="1.7"/><circle cx="345.92" cy="468.46" r="1.7"/><circle cx="347.56" cy="464.55" r="1.7"/><circle cx="349.19" cy="460.64" r="1.7"/><circle cx="350.82" cy="456.74" r="1.7"/><circle cx="352.45" cy="454.79" r="1.7"/><circle cx="354.08" cy="452.84" r="1.7"/><circle cx="355.71" cy="450.88" r="1.7"/><circle cx="357.35" cy="450.88" r="1.7"/><circle cx="358.98" cy="450.88" r="1.7"/><circle cx="360.61" cy="448.93" r="1.7"/><circle cx="362.24" cy="448.93" r="1.7"/><circle cx="363.87" cy="448.93" r="1.7"/><circle cx="365.51" cy="448.93" r="1.7"/><circle cx="367.14" cy="448.93" r="1.7"/><circle cx="368.77" cy="448.93" r="1.7"/><circle cx="370.40" cy="448.93" r="1.7"/><circle cx="372.03" cy="450.88" r="1.7"/><circle cx="373.66" cy="452.84" r="1.7"/><circle cx="375.30" cy="456.74" r="1.7"/><circle cx="376.93" cy="456.74" r="1.7"/><circle cx="378.56" cy="458.69" r="1.7"/><circle cx="380.19" cy="462.60" r="1.7"/><circle cx="381.82" cy="464.55" r="1.7"/><circle cx="383.46" cy="462.60" r="1.7"/><circle cx="385.09" cy="462.60" r="1.7"/><circle cx="386.72" cy="462.60" r="1.7"/><circle cx="388.35" cy="462.60" r="1.7"/><circle cx="389.98" cy="454.79" r="1.7"/><circle cx="391.61" cy="443.07" r="1.7"/><circle cx="393.25" cy="429.40" r="1.7"/><circle cx="394.88" cy="419.64" r="1.7"/><circle cx="396.51" cy="404.02" r="1.7"/><circle cx="398.14" cy="386.45" r="1.7"/><circle cx="399.77" cy="386.45" r="1.7"/><circle cx="401.41" cy="386.45" r="1.7"/><circle cx="403.04" cy="386.45" r="1.7"/><circle cx="404.67" cy="386.45" r="1.7"/><circle cx="406.30" cy="386.45" r="1.7"/><circle cx="407.93" cy="398.16" r="1.7"/><circle cx="409.56" cy="398.16" r="1.7"/><circle cx="411.20" cy="400.12" r="1.7"/><circle cx="412.83" cy="411.83" r="1.7"/><circle cx="414.46" cy="415.74" r="1.7"/><circle cx="416.09" cy="419.64" r="1.7"/><circle cx="417.72" cy="421.60" r="1.7"/><circle cx="419.35" cy="421.60" r="1.7"/><circle cx="420.99" cy="425.50" r="1.7"/><circle cx="422.62" cy="425.50" r="1.7"/><circle cx="424.25" cy="425.50" r="1.7"/><circle cx="425.88" cy="429.40" r="1.7"/><circle cx="427.51" cy="435.26" r="1.7"/><circle cx="429.15" cy="445.02" r="1.7"/><circle cx="430.78" cy="446.98" r="1.7"/><circle cx="432.41" cy="452.84" r="1.7"/><circle cx="434.04" cy="454.79" r="1.7"/><circle cx="435.67" cy="456.74" r="1.7"/><circle cx="437.30" cy="460.64" r="1.7"/><circle cx="438.94" cy="464.55" r="1.7"/><circle cx="440.57" cy="466.50" r="1.7"/><circle cx="442.20" cy="466.50" r="1.7"/><circle cx="443.83" cy="466.50" r="1.7"/><circle cx="445.46" cy="466.50" r="1.7"/><circle cx="447.10" cy="462.60" r="1.7"/><circle cx="448.73" cy="462.60" r="1.7"/><circle cx="450.36" cy="460.64" r="1.7"/><circle cx="451.99" cy="456.74" r="1.7"/><circle cx="453.62" cy="450.88" r="1.7"/><circle cx="455.25" cy="427.45" r="1.7"/><circle cx="456.89" cy="415.74" r="1.7"/><circle cx="458.52" cy="413.78" r="1.7"/><circle cx="460.15" cy="405.98" r="1.7"/><circle cx="461.78" cy="398.16" r="1.7"/><circle cx="463.41" cy="398.16" r="1.7"/><circle cx="465.05" cy="398.16" r="1.7"/><circle cx="466.68" cy="400.12" r="1.7"/><circle cx="468.31" cy="405.98" r="1.7"/><circle cx="469.94" cy="411.83" r="1.7"/><circle cx="471.57" cy="429.40" r="1.7"/><circle cx="473.20" cy="429.40" r="1.7"/><circle cx="474.84" cy="425.50" r="1.7"/><circle cx="476.47" cy="427.45" r="1.7"/><circle cx="478.10" cy="431.36" r="1.7"/><circle cx="479.73" cy="435.26" r="1.7"/><circle cx="481.36" cy="441.12" r="1.7"/><circle cx="483.00" cy="448.93" r="1.7"/><circle cx="484.63" cy="452.84" r="1.7"/><circle cx="486.26" cy="454.79" r="1.7"/><circle cx="487.89" cy="458.69" r="1.7"/><circle cx="489.52" cy="456.74" r="1.7"/><circle cx="491.15" cy="448.93" r="1.7"/><circle cx="492.79" cy="445.02" r="1.7"/><circle cx="494.42" cy="441.12" r="1.7"/><circle cx="496.05" cy="439.17" r="1.7"/><circle cx="497.68" cy="437.22" r="1.7"/><circle cx="499.31" cy="437.22" r="1.7"/><circle cx="500.94" cy="437.22" r="1.7"/><circle cx="502.58" cy="437.22" r="1.7"/><circle cx="504.21" cy="437.22" r="1.7"/><circle cx="505.84" cy="439.17" r="1.7"/><circle cx="507.47" cy="441.12" r="1.7"/><circle cx="509.10" cy="443.07" r="1.7"/><circle cx="510.74" cy="443.07" r="1.7"/><circle cx="512.37" cy="443.07" r="1.7"/><circle cx="514.00" cy="445.02" r="1.7"/><circle cx="515.63" cy="443.07" r="1.7"/><circle cx="517.26" cy="443.07" r="1.7"/><circle cx="518.89" cy="441.12" r="1.7"/><circle cx="520.53" cy="439.17" r="1.7"/><circle cx="522.16" cy="433.31" r="1.7"/><circle cx="523.79" cy="431.36" r="1.7"/><circle cx="525.42" cy="427.45" r="1.7"/><circle cx="527.05" cy="427.45" r="1.7"/><circle cx="528.69" cy="427.45" r="1.7"/><circle cx="530.32" cy="425.50" r="1.7"/><circle cx="531.95" cy="425.50" r="1.7"/><circle cx="533.58" cy="425.50" r="1.7"/><circle cx="535.21" cy="421.60" r="1.7"/><circle cx="536.84" cy="417.69" r="1.7"/><circle cx="538.48" cy="417.69" r="1.7"/><circle cx="540.11" cy="417.69" r="1.7"/><circle cx="541.74" cy="417.69" r="1.7"/><circle cx="543.37" cy="423.55" r="1.7"/><circle cx="545.00" cy="425.50" r="1.7"/><circle cx="546.64" cy="425.50" r="1.7"/><circle cx="548.27" cy="429.40" r="1.7"/><circle cx="549.90" cy="433.31" r="1.7"/><circle cx="551.53" cy="435.26" r="1.7"/><circle cx="553.16" cy="437.22" r="1.7"/><circle cx="554.79" cy="437.22" r="1.7"/><circle cx="556.43" cy="441.12" r="1.7"/><circle cx="558.06" cy="446.98" r="1.7"/><circle cx="559.69" cy="450.88" r="1.7"/><circle cx="561.32" cy="448.93" r="1.7"/><circle cx="562.95" cy="443.07" r="1.7"/><circle cx="564.59" cy="443.07" r="1.7"/><circle cx="566.22" cy="443.07" r="1.7"/><circle cx="567.85" cy="443.07" r="1.7"/><circle cx="569.48" cy="443.07" r="1.7"/><circle cx="571.11" cy="445.02" r="1.7"/><circle cx="572.74" cy="446.98" r="1.7"/><circle cx="574.38" cy="446.98" r="1.7"/><circle cx="576.01" cy="448.93" r="1.7"/><circle cx="577.64" cy="450.88" r="1.7"/><circle cx="579.27" cy="450.88" r="1.7"/><circle cx="580.90" cy="450.88" r="1.7"/><circle cx="582.53" cy="448.93" r="1.7"/><circle cx="584.17" cy="448.93" r="1.7"/><circle cx="585.80" cy="448.93" r="1.7"/><circle cx="587.43" cy="448.93" r="1.7"/><circle cx="589.06" cy="450.88" r="1.7"/><circle cx="590.69" cy="452.84" r="1.7"/><circle cx="592.33" cy="454.79" r="1.7"/><circle cx="593.96" cy="452.84" r="1.7"/><circle cx="595.59" cy="452.84" r="1.7"/><circle cx="597.22" cy="452.84" r="1.7"/><circle cx="598.85" cy="454.79" r="1.7"/><circle cx="600.48" cy="456.74" r="1.7"/><circle cx="602.12" cy="456.74" r="1.7"/><circle cx="603.75" cy="458.69" r="1.7"/><circle cx="605.38" cy="460.64" r="1.7"/><circle cx="607.01" cy="462.60" r="1.7"/><circle cx="608.64" cy="464.55" r="1.7"/><circle cx="610.28" cy="464.55" r="1.7"/><circle cx="611.91" cy="464.55" r="1.7"/><circle cx="613.54" cy="464.55" r="1.7"/><circle cx="615.17" cy="464.55" r="1.7"/><circle cx="616.80" cy="464.55" r="1.7"/><circle cx="618.43" cy="464.55" r="1.7"/><circle cx="620.07" cy="464.55" r="1.7"/><circle cx="621.70" cy="464.55" r="1.7"/><circle cx="623.33" cy="464.55" r="1.7"/><circle cx="624.96" cy="466.50" r="1.7"/><circle cx="626.59" cy="474.31" r="1.7"/><circle cx="628.23" cy="474.31" r="1.7"/></g>
</g>
<g stroke="#70f0c8" fill="rgba(112,240,200,0.12)">
<polyline points="52.20,425.50 53.83,421.60 55.46,425.50 57.10,425.50 58.73,425.50 60.36,423.55 61.99,421.60 63.62,419.64 65.25,419.64 66.89,419.64 68.52,419.64 70.15,419.64 71.78,421.60 73.41,415.74 75.05,415.74 76.68,417.69 78.31,419.64 79.94,421.60 81.57,423.55 83.20,425.50 84.84,427.45 86.47,431.36 88.10,431.36 89.73,431.36 91.36,429.40 93.00,429.40 94.63,427.45 96.26,425.50 97.89,423.55 99.52,423.55 101.15,423.55 102.79,423.55 104.42,425.50 106.05,425.50 107.68,425.50 109.31,423.55 110.94,423.55 112.58,423.55 114.21,423.55 115.84,425.50 117.47,425.50 119.10,429.40 120.74,437.22 122.37,441.12 124.00,439.17 125.63,443.07 127.26,445.02 128.89,446.98 130.53,446.98 132.16,446.98 133.79,446.98 135.42,446.98 137.05,446.98 138.69,446.98 140.32,446.98 141.95,448.93 143.58,448.93 145.21,448.93 146.84,448.93 148.48,448.93 150.11,450.88 151.74,454.79 153.37,456.74 155.00,456.74 156.64,456.74 158.27,456.74 159.90,456.74 161.53,456.74 163.16,456.74 164.79,458.69 166.43,458.69 168.06,458.69 169.69,456.74 171.32,450.88 172.95,443.07 174.58,441.12 176.22,441.12 177.85,441.12 179.48,441.12 181.11,441.12 182.74,441.12 184.38,441.12 186.01,441.12 187.64,439.17 189.27,437.22 190.90,437.22 192.53,437.22 194.17,437.22 195.80,437.22 197.43,437.22 199.06,437.22 200.69,437.22 202.33,437.22 203.96,437.22 205.59,439.17 207.22,439.17 208.85,439.17 210.48,441.12 212.12,441.12 213.75,441.12 215.38,441.12 217.01,441.12 218.64,443.07 220.28,445.02 221.91,446.98 223.54,446.98 225.17,448.93 226.80,446.98 228.43,443.07 230.07,443.07 231.70,441.12 233.33,433.31 234.96,427.45 236.59,425.50 238.23,423.55 239.86,423.55 241.49,425.50 243.12,425.50 244.75,421.60 246.38,419.64 248.02,419.64 249.65,417.69 251.28,419.64 252.91,421.60 254.54,425.50 256.18,425.50 257.81,427.45 259.44,429.40 261.07,429.40 262.70,431.36 264.33,429.40 265.97,429.40 267.60,429.40 269.23,427.45 270.86,427.45 272.49,425.50 274.12,425.50 275.76,423.55 277.39,421.60 279.02,419.64 280.65,421.60 282.28,425.50 283.92,431.36 285.55,433.31 287.18,435.26 288.81,439.17 290.44,441.12 292.07,441.12 293.71,443.07 295.34,445.02 296.97,446.98 298.60,448.93 300.23,450.88 301.87,452.84 303.50,454.79 305.13,456.74 306.76,456.74 308.39,456.74 310.02,458.69 311.66,458.69 313.29,460.64 314.92,460.64 316.55,462.60 318.18,462.60 319.82,460.64 321.45,460.64 323.08,460.64 324.71,460.64 326.34,460.64 327.97,460.64 329.61,458.69 331.24,458.69 332.87,456.74 334.50,456.74 336.13,454.79 337.76,454.79 339.40,450.88 341.03,448.93 342.66,445.02 344.29,437.22 345.92,437.22 347.56,435.26 349.19,437.22 350.82,437.22 352.45,439.17 354.08,439.17 355.71,441.12 357.35,441.12 358.98,441.12 360.61,439.17 362.24,439.17 363.87,441.12 365.51,441.12 367.14,441.12 368.77,443.07 370.40,443.07 372.03,443.07 373.66,441.12 375.30,439.17 376.93,437.22 378.56,435.26 380.19,431.36 381.82,429.40 383.46,427.45 385.09,425.50 386.72,421.60 388.35,419.64 389.98,417.69 391.61,413.78 393.25,411.83 394.88,407.93 396.51,404.02 398.14,404.02 399.77,402.07 401.41,398.16 403.04,396.21 404.67,394.26 406.30,392.31 407.93,388.40 409.56,386.45 411.20,384.50 412.83,384.50 414.46,384.50 416.09,386.45 417.72,386.45 419.35,388.40 420.99,390.36 422.62,392.31 424.25,392.31 425.88,394.26 427.51,394.26 429.15,394.26 430.78,392.31 432.41,392.31 434.04,390.36 435.67,382.54 437.30,386.45 438.94,390.36 440.57,392.31 442.20,394.26 443.83,394.26 445.46,394.26 447.10,394.26 448.73,394.26 450.36,394.26 451.99,394.26 453.62,394.26 455.25,396.21 456.89,398.16 458.52,400.12 460.15,402.07 461.78,404.02 463.41,402.07 465.05,402.07 466.68,402.07 468.31,402.07 469.94,404.02 471.57,404.02 473.20,405.98 474.84,405.98 476.47,407.93 478.10,407.93 479.73,407.93 481.36,409.88 483.00,409.88 484.63,409.88 486.26,409.88 487.89,409.88 489.52,409.88 491.15,411.83 492.79,411.83 494.42,413.78 496.05,413.78 497.68,413.78 499.31,413.78 500.94,411.83 502.58,411.83 504.21,411.83 505.84,409.88 507.47,407.93 509.10,405.98 510.74,405.98 512.37,407.93 514.00,407.93 515.63,407.93 517.26,405.98 518.89,404.02 520.53,402.07 522.16,402.07 523.79,400.12 525.42,400.12 527.05,400.12 528.69,400.12 530.32,400.12 531.95,400.12 533.58,400.12 535.21,400.12 536.84,400.12 538.48,400.12 540.11,400.12 541.74,400.12 543.37,400.12 545.00,398.16 546.64,398.16 548.27,398.16 549.90,398.16 551.53,396.21 553.16,396.21 554.79,394.26 556.43,394.26 558.06,394.26 559.69,394.26 561.32,396.21 562.95,396.21 564.59,398.16 566.22,398.16 567.85,398.16 569.48,400.12 571.11,400.12 572.74,402.07 574.38,402.07 576.01,404.02 577.64,404.02 579.27,405.98 580.90,405.98 582.53,405.98 584.17,407.93 585.80,407.93 587.43,407.93 589.06,407.93 590.69,407.93 592.33,409.88 593.96,415.74 595.59,419.64 597.22,419.64 598.85,421.60 600.48,423.55 602.12,427.45 603.75,429.40 605.38,435.26 607.01,443.07 608.64,443.07 610.28,443.07 611.91,443.07 613.54,443.07 615.17,445.02 616.80,445.02 618.43,445.02 620.07,445.02 621.70,448.93 623.33,448.93 624.96,448.93 626.59,448.93 628.23,448.93" fill="none" stroke-width="0.7"/>
<g stroke-width="0.65"><circle cx="52.20" cy="425.50" r="1.7"/><circle cx="53.83" cy="421.60" r="1.7"/><circle cx="55.46" cy="425.50" r="1.7"/><circle cx="57.10" cy="425.50" r="1.7"/><circle cx="58.73" cy="425.50" r="1.7"/><circle cx="60.36" cy="423.55" r="1.7"/><circle cx="61.99" cy="421.60" r="1.7"/><circle cx="63.62" cy="419.64" r="1.7"/><circle cx="65.25" cy="419.64" r="1.7"/><circle cx="66.89" cy="419.64" r="1.7"/><circle cx="68.52" cy="419.64" r="1.7"/><circle cx="70.15" cy="419.64" r="1.7"/><circle cx="71.78" cy="421.60" r="1.7"/><circle cx="73.41" cy="415.74" r="1.7"/><circle cx="75.05" cy="415.74" r="1.7"/><circle cx="76.68" cy="417.69" r="1.7"/><circle cx="78.31" cy="419.64" r="1.7"/><circle cx="79.94" cy="421.60" r="1.7"/><circle cx="81.57" cy="423.55" r="1.7"/><circle cx="83.20" cy="425.50" r="1.7"/><circle cx="84.84" cy="427.45" r="1.7"/><circle cx="86.47" cy="431.36" r="1.7"/><circle cx="88.10" cy="431.36" r="1.7"/><circle cx="89.73" cy="431.36" r="1.7"/><circle cx="91.36" cy="429.40" r="1.7"/><circle cx="93.00" cy="429.40" r="1.7"/><circle cx="94.63" cy="427.45" r="1.7"/><circle cx="96.26" cy="425.50" r="1.7"/><circle cx="97.89" cy="423.55" r="1.7"/><circle cx="99.52" cy="423.55" r="1.7"/><circle cx="101.15" cy="423.55" r="1.7"/><circle cx="102.79" cy="423.55" r="1.7"/><circle cx="104.42" cy="425.50" r="1.7"/><circle cx="106.05" cy="425.50" r="1.7"/><circle cx="107.68" cy="425.50" r="1.7"/><circle cx="109.31" cy="423.55" r="1.7"/><circle cx="110.94" cy="423.55" r="1.7"/><circle cx="112.58" cy="423.55" r="1.7"/><circle cx="114.21" cy="423.55" r="1.7"/><circle cx="115.84" cy="425.50" r="1.7"/><circle cx="117.47" cy="425.50" r="1.7"/><circle cx="119.10" cy="429.40" r="1.7"/><circle cx="120.74" cy="437.22" r="1.7"/><circle cx="122.37" cy="441.12" r="1.7"/><circle cx="124.00" cy="439.17" r="1.7"/><circle cx="125.63" cy="443.07" r="1.7"/><circle cx="127.26" cy="445.02" r="1.7"/><circle cx="128.89" cy="446.98" r="1.7"/><circle cx="130.53" cy="446.98" r="1.7"/><circle cx="132.16" cy="446.98" r="1.7"/><circle cx="133.79" cy="446.98" r="1.7"/><circle cx="135.42" cy="446.98" r="1.7"/><circle cx="137.05" cy="446.98" r="1.7"/><circle cx="138.69" cy="446.98" r="1.7"/><circle cx="140.32" cy="446.98" r="1.7"/><circle cx="141.95" cy="448.93" r="1.7"/><circle cx="143.58" cy="448.93" r="1.7"/><circle cx="145.21" cy="448.93" r="1.7"/><circle cx="146.84" cy="448.93" r="1.7"/><circle cx="148.48" cy="448.93" r="1.7"/><circle cx="150.11" cy="450.88" r="1.7"/><circle cx="151.74" cy="454.79" r="1.7"/><circle cx="153.37" cy="456.74" r="1.7"/><circle cx="155.00" cy="456.74" r="1.7"/><circle cx="156.64" cy="456.74" r="1.7"/><circle cx="158.27" cy="456.74" r="1.7"/><circle cx="159.90" cy="456.74" r="1.7"/><circle cx="161.53" cy="456.74" r="1.7"/><circle cx="163.16" cy="456.74" r="1.7"/><circle cx="164.79" cy="458.69" r="1.7"/><circle cx="166.43" cy="458.69" r="1.7"/><circle cx="168.06" cy="458.69" r="1.7"/><circle cx="169.69" cy="456.74" r="1.7"/><circle cx="171.32" cy="450.88" r="1.7"/><circle cx="172.95" cy="443.07" r="1.7"/><circle cx="174.58" cy="441.12" r="1.7"/><circle cx="176.22" cy="441.12" r="1.7"/><circle cx="177.85" cy="441.12" r="1.7"/><circle cx="179.48" cy="441.12" r="1.7"/><circle cx="181.11" cy="441.12" r="1.7"/><circle cx="182.74" cy="441.12" r="1.7"/><circle cx="184.38" cy="441.12" r="1.7"/><circle cx="186.01" cy="441.12" r="1.7"/><circle cx="187.64" cy="439.17" r="1.7"/><circle cx="189.27" cy="437.22" r="1.7"/><circle cx="190.90" cy="437.22" r="1.7"/><circle cx="192.53" cy="437.22" r="1.7"/><circle cx="194.17" cy="437.22" r="1.7"/><circle cx="195.80" cy="437.22" r="1.7"/><circle cx="197.43" cy="437.22" r="1.7"/><circle cx="199.06" cy="437.22" r="1.7"/><circle cx="200.69" cy="437.22" r="1.7"/><circle cx="202.33" cy="437.22" r="1.7"/><circle cx="203.96" cy="437.22" r="1.7"/><circle cx="205.59" cy="439.17" r="1.7"/><circle cx="207.22" cy="439.17" r="1.7"/><circle cx="208.85" cy="439.17" r="1.7"/><circle cx="210.48" cy="441.12" r="1.7"/><circle cx="212.12" cy="441.12" r="1.7"/><circle cx="213.75" cy="441.12" r="1.7"/><circle cx="215.38" cy="441.12" r="1.7"/><circle cx="217.01" cy="441.12" r="1.7"/><circle cx="218.64" cy="443.07" r="1.7"/><circle cx="220.28" cy="445.02" r="1.7"/><circle cx="221.91" cy="446.98" r="1.7"/><circle cx="223.54" cy="446.98" r="1.7"/><circle cx="225.17" cy="448.93" r="1.7"/><circle cx="226.80" cy="446.98" r="1.7"/><circle cx="228.43" cy="443.07" r="1.7"/><circle cx="230.07" cy="443.07" r="1.7"/><circle cx="231.70" cy="441.12" r="1.7"/><circle cx="233.33" cy="433.31" r="1.7"/><circle cx="234.96" cy="427.45" r="1.7"/><circle cx="236.59" cy="425.50" r="1.7"/><circle cx="238.23" cy="423.55" r="1.7"/><circle cx="239.86" cy="423.55" r="1.7"/><circle cx="241.49" cy="425.50" r="1.7"/><circle cx="243.12" cy="425.50" r="1.7"/><circle cx="244.75" cy="421.60" r="1.7"/><circle cx="246.38" cy="419.64" r="1.7"/><circle cx="248.02" cy="419.64" r="1.7"/><circle cx="249.65" cy="417.69" r="1.7"/><circle cx="251.28" cy="419.64" r="1.7"/><circle cx="252.91" cy="421.60" r="1.7"/><circle cx="254.54" cy="425.50" r="1.7"/><circle cx="256.18" cy="425.50" r="1.7"/><circle cx="257.81" cy="427.45" r="1.7"/><circle cx="259.44" cy="429.40" r="1.7"/><circle cx="261.07" cy="429.40" r="1.7"/><circle cx="262.70" cy="431.36" r="1.7"/><circle cx="264.33" cy="429.40" r="1.7"/><circle cx="265.97" cy="429.40" r="1.7"/><circle cx="267.60" cy="429.40" r="1.7"/><circle cx="269.23" cy="427.45" r="1.7"/><circle cx="270.86" cy="427.45" r="1.7"/><circle cx="272.49" cy="425.50" r="1.7"/><circle cx="274.12" cy="425.50" r="1.7"/><circle cx="275.76" cy="423.55" r="1.7"/><circle cx="277.39" cy="421.60" r="1.7"/><circle cx="279.02" cy="419.64" r="1.7"/><circle cx="280.65" cy="421.60" r="1.7"/><circle cx="282.28" cy="425.50" r="1.7"/><circle cx="283.92" cy="431.36" r="1.7"/><circle cx="285.55" cy="433.31" r="1.7"/><circle cx="287.18" cy="435.26" r="1.7"/><circle cx="288.81" cy="439.17" r="1.7"/><circle cx="290.44" cy="441.12" r="1.7"/><circle cx="292.07" cy="441.12" r="1.7"/><circle cx="293.71" cy="443.07" r="1.7"/><circle cx="295.34" cy="445.02" r="1.7"/><circle cx="296.97" cy="446.98" r="1.7"/><circle cx="298.60" cy="448.93" r="1.7"/><circle cx="300.23" cy="450.88" r="1.7"/><circle cx="301.87" cy="452.84" r="1.7"/><circle cx="303.50" cy="454.79" r="1.7"/><circle cx="305.13" cy="456.74" r="1.7"/><circle cx="306.76" cy="456.74" r="1.7"/><circle cx="308.39" cy="456.74" r="1.7"/><circle cx="310.02" cy="458.69" r="1.7"/><circle cx="311.66" cy="458.69" r="1.7"/><circle cx="313.29" cy="460.64" r="1.7"/><circle cx="314.92" cy="460.64" r="1.7"/><circle cx="316.55" cy="462.60" r="1.7"/><circle cx="318.18" cy="462.60" r="1.7"/><circle cx="319.82" cy="460.64" r="1.7"/><circle cx="321.45" cy="460.64" r="1.7"/><circle cx="323.08" cy="460.64" r="1.7"/><circle cx="324.71" cy="460.64" r="1.7"/><circle cx="326.34" cy="460.64" r="1.7"/><circle cx="327.97" cy="460.64" r="1.7"/><circle cx="329.61" cy="458.69" r="1.7"/><circle cx="331.24" cy="458.69" r="1.7"/><circle cx="332.87" cy="456.74" r="1.7"/><circle cx="334.50" cy="456.74" r="1.7"/><circle cx="336.13" cy="454.79" r="1.7"/><circle cx="337.76" cy="454.79" r="1.7"/><circle cx="339.40" cy="450.88" r="1.7"/><circle cx="341.03" cy="448.93" r="1.7"/><circle cx="342.66" cy="445.02" r="1.7"/><circle cx="344.29" cy="437.22" r="1.7"/><circle cx="345.92" cy="437.22" r="1.7"/><circle cx="347.56" cy="435.26" r="1.7"/><circle cx="349.19" cy="437.22" r="1.7"/><circle cx="350.82" cy="437.22" r="1.7"/><circle cx="352.45" cy="439.17" r="1.7"/><circle cx="354.08" cy="439.17" r="1.7"/><circle cx="355.71" cy="441.12" r="1.7"/><circle cx="357.35" cy="441.12" r="1.7"/><circle cx="358.98" cy="441.12" r="1.7"/><circle cx="360.61" cy="439.17" r="1.7"/><circle cx="362.24" cy="439.17" r="1.7"/><circle cx="363.87" cy="441.12" r="1.7"/><circle cx="365.51" cy="441.12" r="1.7"/><circle cx="367.14" cy="441.12" r="1.7"/><circle cx="368.77" cy="443.07" r="1.7"/><circle cx="370.40" cy="443.07" r="1.7"/><circle cx="372.03" cy="443.07" r="1.7"/><circle cx="373.66" cy="441.12" r="1.7"/><circle cx="375.30" cy="439.17" r="1.7"/><circle cx="376.93" cy="437.22" r="1.7"/><circle cx="378.56" cy="435.26" r="1.7"/><circle cx="380.19" cy="431.36" r="1.7"/><circle cx="381.82" cy="429.40" r="1.7"/><circle cx="383.46" cy="427.45" r="1.7"/><circle cx="385.09" cy="425.50" r="1.7"/><circle cx="386.72" cy="421.60" r="1.7"/><circle cx="388.35" cy="419.64" r="1.7"/><circle cx="389.98" cy="417.69" r="1.7"/><circle cx="391.61" cy="413.78" r="1.7"/><circle cx="393.25" cy="411.83" r="1.7"/><circle cx="394.88" cy="407.93" r="1.7"/><circle cx="396.51" cy="404.02" r="1.7"/><circle cx="398.14" cy="404.02" r="1.7"/><circle cx="399.77" cy="402.07" r="1.7"/><circle cx="401.41" cy="398.16" r="1.7"/><circle cx="403.04" cy="396.21" r="1.7"/><circle cx="404.67" cy="394.26" r="1.7"/><circle cx="406.30" cy="392.31" r="1.7"/><circle cx="407.93" cy="388.40" r="1.7"/><circle cx="409.56" cy="386.45" r="1.7"/><circle cx="411.20" cy="384.50" r="1.7"/><circle cx="412.83" cy="384.50" r="1.7"/><circle cx="414.46" cy="384.50" r="1.7"/><circle cx="416.09" cy="386.45" r="1.7"/><circle cx="417.72" cy="386.45" r="1.7"/><circle cx="419.35" cy="388.40" r="1.7"/><circle cx="420.99" cy="390.36" r="1.7"/><circle cx="422.62" cy="392.31" r="1.7"/><circle cx="424.25" cy="392.31" r="1.7"/><circle cx="425.88" cy="394.26" r="1.7"/><circle cx="427.51" cy="394.26" r="1.7"/><circle cx="429.15" cy="394.26" r="1.7"/><circle cx="430.78" cy="392.31" r="1.7"/><circle cx="432.41" cy="392.31" r="1.7"/><circle cx="434.04" cy="390.36" r="1.7"/><circle cx="435.67" cy="382.54" r="1.7"/><circle cx="437.30" cy="386.45" r="1.7"/><circle cx="438.94" cy="390.36" r="1.7"/><circle cx="440.57" cy="392.31" r="1.7"/><circle cx="442.20" cy="394.26" r="1.7"/><circle cx="443.83" cy="394.26" r="1.7"/><circle cx="445.46" cy="394.26" r="1.7"/><circle cx="447.10" cy="394.26" r="1.7"/><circle cx="448.73" cy="394.26" r="1.7"/><circle cx="450.36" cy="394.26" r="1.7"/><circle cx="451.99" cy="394.26" r="1.7"/><circle cx="453.62" cy="394.26" r="1.7"/><circle cx="455.25" cy="396.21" r="1.7"/><circle cx="456.89" cy="398.16" r="1.7"/><circle cx="458.52" cy="400.12" r="1.7"/><circle cx="460.15" cy="402.07" r="1.7"/><circle cx="461.78" cy="404.02" r="1.7"/><circle cx="463.41" cy="402.07" r="1.7"/><circle cx="465.05" cy="402.07" r="1.7"/><circle cx="466.68" cy="402.07" r="1.7"/><circle cx="468.31" cy="402.07" r="1.7"/><circle cx="469.94" cy="404.02" r="1.7"/><circle cx="471.57" cy="404.02" r="1.7"/><circle cx="473.20" cy="405.98" r="1.7"/><circle cx="474.84" cy="405.98" r="1.7"/><circle cx="476.47" cy="407.93" r="1.7"/><circle cx="478.10" cy="407.93" r="1.7"/><circle cx="479.73" cy="407.93" r="1.7"/><circle cx="481.36" cy="409.88" r="1.7"/><circle cx="483.00" cy="409.88" r="1.7"/><circle cx="484.63" cy="409.88" r="1.7"/><circle cx="486.26" cy="409.88" r="1.7"/><circle cx="487.89" cy="409.88" r="1.7"/><circle cx="489.52" cy="409.88" r="1.7"/><circle cx="491.15" cy="411.83" r="1.7"/><circle cx="492.79" cy="411.83" r="1.7"/><circle cx="494.42" cy="413.78" r="1.7"/><circle cx="496.05" cy="413.78" r="1.7"/><circle cx="497.68" cy="413.78" r="1.7"/><circle cx="499.31" cy="413.78" r="1.7"/><circle cx="500.94" cy="411.83" r="1.7"/><circle cx="502.58" cy="411.83" r="1.7"/><circle cx="504.21" cy="411.83" r="1.7"/><circle cx="505.84" cy="409.88" r="1.7"/><circle cx="507.47" cy="407.93" r="1.7"/><circle cx="509.10" cy="405.98" r="1.7"/><circle cx="510.74" cy="405.98" r="1.7"/><circle cx="512.37" cy="407.93" r="1.7"/><circle cx="514.00" cy="407.93" r="1.7"/><circle cx="515.63" cy="407.93" r="1.7"/><circle cx="517.26" cy="405.98" r="1.7"/><circle cx="518.89" cy="404.02" r="1.7"/><circle cx="520.53" cy="402.07" r="1.7"/><circle cx="522.16" cy="402.07" r="1.7"/><circle cx="523.79" cy="400.12" r="1.7"/><circle cx="525.42" cy="400.12" r="1.7"/><circle cx="527.05" cy="400.12" r="1.7"/><circle cx="528.69" cy="400.12" r="1.7"/><circle cx="530.32" cy="400.12" r="1.7"/><circle cx="531.95" cy="400.12" r="1.7"/><circle cx="533.58" cy="400.12" r="1.7"/><circle cx="535.21" cy="400.12" r="1.7"/><circle cx="536.84" cy="400.12" r="1.7"/><circle cx="538.48" cy="400.12" r="1.7"/><circle cx="540.11" cy="400.12" r="1.7"/><circle cx="541.74" cy="400.12" r="1.7"/><circle cx="543.37" cy="400.12" r="1.7"/><circle cx="545.00" cy="398.16" r="1.7"/><circle cx="546.64" cy="398.16" r="1.7"/><circle cx="548.27" cy="398.16" r="1.7"/><circle cx="549.90" cy="398.16" r="1.7"/><circle cx="551.53" cy="396.21" r="1.7"/><circle cx="553.16" cy="396.21" r="1.7"/><circle cx="554.79" cy="394.26" r="1.7"/><circle cx="556.43" cy="394.26" r="1.7"/><circle cx="558.06" cy="394.26" r="1.7"/><circle cx="559.69" cy="394.26" r="1.7"/><circle cx="561.32" cy="396.21" r="1.7"/><circle cx="562.95" cy="396.21" r="1.7"/><circle cx="564.59" cy="398.16" r="1.7"/><circle cx="566.22" cy="398.16" r="1.7"/><circle cx="567.85" cy="398.16" r="1.7"/><circle cx="569.48" cy="400.12" r="1.7"/><circle cx="571.11" cy="400.12" r="1.7"/><circle cx="572.74" cy="402.07" r="1.7"/><circle cx="574.38" cy="402.07" r="1.7"/><circle cx="576.01" cy="404.02" r="1.7"/><circle cx="577.64" cy="404.02" r="1.7"/><circle cx="579.27" cy="405.98" r="1.7"/><circle cx="580.90" cy="405.98" r="1.7"/><circle cx="582.53" cy="405.98" r="1.7"/><circle cx="584.17" cy="407.93" r="1.7"/><circle cx="585.80" cy="407.93" r="1.7"/><circle cx="587.43" cy="407.93" r="1.7"/><circle cx="589.06" cy="407.93" r="1.7"/><circle cx="590.69" cy="407.93" r="1.7"/><circle cx="592.33" cy="409.88" r="1.7"/><circle cx="593.96" cy="415.74" r="1.7"/><circle cx="595.59" cy="419.64" r="1.7"/><circle cx="597.22" cy="419.64" r="1.7"/><circle cx="598.85" cy="421.60" r="1.7"/><circle cx="600.48" cy="423.55" r="1.7"/><circle cx="602.12" cy="427.45" r="1.7"/><circle cx="603.75" cy="429.40" r="1.7"/><circle cx="605.38" cy="435.26" r="1.7"/><circle cx="607.01" cy="443.07" r="1.7"/><circle cx="608.64" cy="443.07" r="1.7"/><circle cx="610.28" cy="443.07" r="1.7"/><circle cx="611.91" cy="443.07" r="1.7"/><circle cx="613.54" cy="443.07" r="1.7"/><circle cx="615.17" cy="445.02" r="1.7"/><circle cx="616.80" cy="445.02" r="1.7"/><circle cx="618.43" cy="445.02" r="1.7"/><circle cx="620.07" cy="445.02" r="1.7"/><circle cx="621.70" cy="448.93" r="1.7"/><circle cx="623.33" cy="448.93" r="1.7"/><circle cx="624.96" cy="448.93" r="1.7"/><circle cx="626.59" cy="448.93" r="1.7"/><circle cx="628.23" cy="448.93" r="1.7"/></g>
</g>
<g stroke="#d2173f" fill="rgba(215,20,60,0.09)">
<polyline points="52.20,433.31 53.83,427.45 55.46,427.45 57.10,427.45 58.73,427.45 60.36,429.40 61.99,433.31 63.62,435.26 65.25,437.22 66.89,441.12 68.52,443.07 70.15,448.93 71.78,450.88 73.41,450.88 75.05,452.84 76.68,452.84 78.31,452.84 79.94,454.79 81.57,454.79 83.20,460.64 84.84,464.55 86.47,460.64 88.10,448.93 89.73,448.93 91.36,448.93 93.00,458.69 94.63,460.64 96.26,462.60 97.89,464.55 99.52,464.55 101.15,464.55 102.79,466.50 104.42,468.46 106.05,468.46 107.68,468.46 109.31,464.55 110.94,456.74 112.58,452.84 114.21,443.07 115.84,437.22 117.47,437.22 119.10,445.02 120.74,446.98 122.37,452.84 124.00,452.84 125.63,452.84 127.26,452.84 128.89,456.74 130.53,458.69 132.16,458.69 133.79,458.69 135.42,462.60 137.05,470.41 138.69,450.88 140.32,446.98 141.95,446.98 143.58,446.98 145.21,446.98 146.84,452.84 148.48,452.84 150.11,452.84 151.74,448.93 153.37,439.17 155.00,435.26 156.64,435.26 158.27,445.02 159.90,443.07 161.53,443.07 163.16,443.07 164.79,443.07 166.43,441.12 168.06,441.12 169.69,441.12 171.32,446.98 172.95,446.98 174.58,446.98 176.22,429.40 177.85,429.40 179.48,437.22 181.11,437.22 182.74,437.22 184.38,435.26 186.01,433.31 187.64,433.31 189.27,433.31 190.90,433.31 192.53,439.17 194.17,439.17 195.80,439.17 197.43,441.12 199.06,441.12 200.69,443.07 202.33,443.07 203.96,441.12 205.59,439.17 207.22,437.22 208.85,423.55 210.48,423.55 212.12,423.55 213.75,427.45 215.38,427.45 217.01,427.45 218.64,427.45 220.28,427.45 221.91,429.40 223.54,431.36 225.17,431.36 226.80,431.36 228.43,427.45 230.07,427.45 231.70,427.45 233.33,427.45 234.96,429.40 236.59,431.36 238.23,433.31 239.86,437.22 241.49,441.12 243.12,448.93 244.75,450.88 246.38,452.84 248.02,454.79 249.65,456.74 251.28,456.74 252.91,456.74 254.54,454.79 256.18,441.12 257.81,421.60 259.44,427.45 261.07,427.45 262.70,441.12 264.33,441.12 265.97,437.22 267.60,429.40 269.23,425.50 270.86,427.45 272.49,429.40 274.12,431.36 275.76,433.31 277.39,435.26 279.02,435.26 280.65,437.22 282.28,448.93 283.92,448.93 285.55,448.93 287.18,446.98 288.81,446.98 290.44,446.98 292.07,445.02 293.71,445.02 295.34,445.02 296.97,445.02 298.60,445.02 300.23,445.02 301.87,445.02 303.50,445.02 305.13,443.07 306.76,439.17 308.39,429.40 310.02,423.55 311.66,421.60 313.29,421.60 314.92,404.02 316.55,404.02 318.18,405.98 319.82,404.02 321.45,404.02 323.08,392.31 324.71,392.31 326.34,392.31 327.97,392.31 329.61,370.83 331.24,370.83 332.87,380.59 334.50,380.59 336.13,384.50 337.76,384.50 339.40,384.50 341.03,384.50 342.66,374.74 344.29,374.74 345.92,378.64 347.56,388.40 349.19,396.21 350.82,402.07 352.45,405.98 354.08,413.78 355.71,413.78 357.35,413.78 358.98,413.78 360.61,413.78 362.24,413.78 363.87,413.78 365.51,413.78 367.14,413.78 368.77,413.78 370.40,413.78 372.03,413.78 373.66,437.22 375.30,437.22 376.93,437.22 378.56,437.22 380.19,437.22 381.82,437.22 383.46,437.22 385.09,437.22 386.72,439.17 388.35,439.17 389.98,439.17 391.61,439.17 393.25,439.17 394.88,439.17 396.51,439.17 398.14,439.17 399.77,439.17 401.41,437.22 403.04,437.22 404.67,435.26 406.30,435.26 407.93,439.17 409.56,439.17 411.20,441.12 412.83,439.17 414.46,431.36 416.09,431.36 417.72,431.36 419.35,431.36 420.99,431.36 422.62,429.40 424.25,423.55 425.88,419.64 427.51,417.69 429.15,419.64 430.78,419.64 432.41,419.64 434.04,421.60 435.67,421.60 437.30,423.55 438.94,429.40 440.57,431.36 442.20,431.36 443.83,427.45 445.46,419.64 447.10,405.98 448.73,404.02 450.36,400.12 451.99,400.12 453.62,400.12 455.25,400.12 456.89,404.02 458.52,407.93 460.15,415.74 461.78,417.69 463.41,417.69 465.05,417.69 466.68,413.78 468.31,405.98 469.94,400.12 471.57,396.21 473.20,396.21 474.84,396.21 476.47,396.21 478.10,398.16 479.73,405.98 481.36,407.93 483.00,409.88 484.63,409.88 486.26,411.83 487.89,411.83 489.52,413.78 491.15,413.78 492.79,415.74 494.42,417.69 496.05,427.45 497.68,427.45 499.31,429.40 500.94,431.36 502.58,431.36 504.21,433.31 505.84,435.26 507.47,437.22 509.10,439.17 510.74,439.17 512.37,429.40 514.00,433.31 515.63,433.31 517.26,433.31 518.89,433.31 520.53,433.31 522.16,431.36 523.79,431.36 525.42,429.40 527.05,429.40 528.69,435.26 530.32,441.12 531.95,443.07 533.58,441.12 535.21,441.12 536.84,439.17 538.48,439.17 540.11,439.17 541.74,437.22 543.37,437.22 545.00,407.93 546.64,396.21 548.27,390.36 549.90,388.40 551.53,394.26 553.16,396.21 554.79,402.07 556.43,407.93 558.06,411.83 559.69,417.69 561.32,433.31 562.95,441.12 564.59,443.07 566.22,423.55 567.85,423.55 569.48,404.02 571.11,404.02 572.74,407.93 574.38,409.88 576.01,398.16 577.64,386.45 579.27,386.45 580.90,390.36 582.53,400.12 584.17,405.98 585.80,407.93 587.43,413.78 589.06,413.78 590.69,413.78 592.33,431.36 593.96,437.22 595.59,435.26 597.22,433.31 598.85,417.69 600.48,411.83 602.12,415.74 603.75,419.64 605.38,421.60 607.01,425.50 608.64,423.55 610.28,423.55 611.91,423.55 613.54,423.55 615.17,431.36 616.80,437.22 618.43,437.22 620.07,435.26 621.70,435.26 623.33,435.26 624.96,435.26 626.59,435.26 628.23,437.22" fill="none" stroke-width="0.7"/>
<g stroke-width="0.65"><circle cx="52.20" cy="433.31" r="1.7"/><circle cx="53.83" cy="427.45" r="1.7"/><circle cx="55.46" cy="427.45" r="1.7"/><circle cx="57.10" cy="427.45" r="1.7"/><circle cx="58.73" cy="427.45" r="1.7"/><circle cx="60.36" cy="429.40" r="1.7"/><circle cx="61.99" cy="433.31" r="1.7"/><circle cx="63.62" cy="435.26" r="1.7"/><circle cx="65.25" cy="437.22" r="1.7"/><circle cx="66.89" cy="441.12" r="1.7"/><circle cx="68.52" cy="443.07" r="1.7"/><circle cx="70.15" cy="448.93" r="1.7"/><circle cx="71.78" cy="450.88" r="1.7"/><circle cx="73.41" cy="450.88" r="1.7"/><circle cx="75.05" cy="452.84" r="1.7"/><circle cx="76.68" cy="452.84" r="1.7"/><circle cx="78.31" cy="452.84" r="1.7"/><circle cx="79.94" cy="454.79" r="1.7"/><circle cx="81.57" cy="454.79" r="1.7"/><circle cx="83.20" cy="460.64" r="1.7"/><circle cx="84.84" cy="464.55" r="1.7"/><circle cx="86.47" cy="460.64" r="1.7"/><circle cx="88.10" cy="448.93" r="1.7"/><circle cx="89.73" cy="448.93" r="1.7"/><circle cx="91.36" cy="448.93" r="1.7"/><circle cx="93.00" cy="458.69" r="1.7"/><circle cx="94.63" cy="460.64" r="1.7"/><circle cx="96.26" cy="462.60" r="1.7"/><circle cx="97.89" cy="464.55" r="1.7"/><circle cx="99.52" cy="464.55" r="1.7"/><circle cx="101.15" cy="464.55" r="1.7"/><circle cx="102.79" cy="466.50" r="1.7"/><circle cx="104.42" cy="468.46" r="1.7"/><circle cx="106.05" cy="468.46" r="1.7"/><circle cx="107.68" cy="468.46" r="1.7"/><circle cx="109.31" cy="464.55" r="1.7"/><circle cx="110.94" cy="456.74" r="1.7"/><circle cx="112.58" cy="452.84" r="1.7"/><circle cx="114.21" cy="443.07" r="1.7"/><circle cx="115.84" cy="437.22" r="1.7"/><circle cx="117.47" cy="437.22" r="1.7"/><circle cx="119.10" cy="445.02" r="1.7"/><circle cx="120.74" cy="446.98" r="1.7"/><circle cx="122.37" cy="452.84" r="1.7"/><circle cx="124.00" cy="452.84" r="1.7"/><circle cx="125.63" cy="452.84" r="1.7"/><circle cx="127.26" cy="452.84" r="1.7"/><circle cx="128.89" cy="456.74" r="1.7"/><circle cx="130.53" cy="458.69" r="1.7"/><circle cx="132.16" cy="458.69" r="1.7"/><circle cx="133.79" cy="458.69" r="1.7"/><circle cx="135.42" cy="462.60" r="1.7"/><circle cx="137.05" cy="470.41" r="1.7"/><circle cx="138.69" cy="450.88" r="1.7"/><circle cx="140.32" cy="446.98" r="1.7"/><circle cx="141.95" cy="446.98" r="1.7"/><circle cx="143.58" cy="446.98" r="1.7"/><circle cx="145.21" cy="446.98" r="1.7"/><circle cx="146.84" cy="452.84" r="1.7"/><circle cx="148.48" cy="452.84" r="1.7"/><circle cx="150.11" cy="452.84" r="1.7"/><circle cx="151.74" cy="448.93" r="1.7"/><circle cx="153.37" cy="439.17" r="1.7"/><circle cx="155.00" cy="435.26" r="1.7"/><circle cx="156.64" cy="435.26" r="1.7"/><circle cx="158.27" cy="445.02" r="1.7"/><circle cx="159.90" cy="443.07" r="1.7"/><circle cx="161.53" cy="443.07" r="1.7"/><circle cx="163.16" cy="443.07" r="1.7"/><circle cx="164.79" cy="443.07" r="1.7"/><circle cx="166.43" cy="441.12" r="1.7"/><circle cx="168.06" cy="441.12" r="1.7"/><circle cx="169.69" cy="441.12" r="1.7"/><circle cx="171.32" cy="446.98" r="1.7"/><circle cx="172.95" cy="446.98" r="1.7"/><circle cx="174.58" cy="446.98" r="1.7"/><circle cx="176.22" cy="429.40" r="1.7"/><circle cx="177.85" cy="429.40" r="1.7"/><circle cx="179.48" cy="437.22" r="1.7"/><circle cx="181.11" cy="437.22" r="1.7"/><circle cx="182.74" cy="437.22" r="1.7"/><circle cx="184.38" cy="435.26" r="1.7"/><circle cx="186.01" cy="433.31" r="1.7"/><circle cx="187.64" cy="433.31" r="1.7"/><circle cx="189.27" cy="433.31" r="1.7"/><circle cx="190.90" cy="433.31" r="1.7"/><circle cx="192.53" cy="439.17" r="1.7"/><circle cx="194.17" cy="439.17" r="1.7"/><circle cx="195.80" cy="439.17" r="1.7"/><circle cx="197.43" cy="441.12" r="1.7"/><circle cx="199.06" cy="441.12" r="1.7"/><circle cx="200.69" cy="443.07" r="1.7"/><circle cx="202.33" cy="443.07" r="1.7"/><circle cx="203.96" cy="441.12" r="1.7"/><circle cx="205.59" cy="439.17" r="1.7"/><circle cx="207.22" cy="437.22" r="1.7"/><circle cx="208.85" cy="423.55" r="1.7"/><circle cx="210.48" cy="423.55" r="1.7"/><circle cx="212.12" cy="423.55" r="1.7"/><circle cx="213.75" cy="427.45" r="1.7"/><circle cx="215.38" cy="427.45" r="1.7"/><circle cx="217.01" cy="427.45" r="1.7"/><circle cx="218.64" cy="427.45" r="1.7"/><circle cx="220.28" cy="427.45" r="1.7"/><circle cx="221.91" cy="429.40" r="1.7"/><circle cx="223.54" cy="431.36" r="1.7"/><circle cx="225.17" cy="431.36" r="1.7"/><circle cx="226.80" cy="431.36" r="1.7"/><circle cx="228.43" cy="427.45" r="1.7"/><circle cx="230.07" cy="427.45" r="1.7"/><circle cx="231.70" cy="427.45" r="1.7"/><circle cx="233.33" cy="427.45" r="1.7"/><circle cx="234.96" cy="429.40" r="1.7"/><circle cx="236.59" cy="431.36" r="1.7"/><circle cx="238.23" cy="433.31" r="1.7"/><circle cx="239.86" cy="437.22" r="1.7"/><circle cx="241.49" cy="441.12" r="1.7"/><circle cx="243.12" cy="448.93" r="1.7"/><circle cx="244.75" cy="450.88" r="1.7"/><circle cx="246.38" cy="452.84" r="1.7"/><circle cx="248.02" cy="454.79" r="1.7"/><circle cx="249.65" cy="456.74" r="1.7"/><circle cx="251.28" cy="456.74" r="1.7"/><circle cx="252.91" cy="456.74" r="1.7"/><circle cx="254.54" cy="454.79" r="1.7"/><circle cx="256.18" cy="441.12" r="1.7"/><circle cx="257.81" cy="421.60" r="1.7"/><circle cx="259.44" cy="427.45" r="1.7"/><circle cx="261.07" cy="427.45" r="1.7"/><circle cx="262.70" cy="441.12" r="1.7"/><circle cx="264.33" cy="441.12" r="1.7"/><circle cx="265.97" cy="437.22" r="1.7"/><circle cx="267.60" cy="429.40" r="1.7"/><circle cx="269.23" cy="425.50" r="1.7"/><circle cx="270.86" cy="427.45" r="1.7"/><circle cx="272.49" cy="429.40" r="1.7"/><circle cx="274.12" cy="431.36" r="1.7"/><circle cx="275.76" cy="433.31" r="1.7"/><circle cx="277.39" cy="435.26" r="1.7"/><circle cx="279.02" cy="435.26" r="1.7"/><circle cx="280.65" cy="437.22" r="1.7"/><circle cx="282.28" cy="448.93" r="1.7"/><circle cx="283.92" cy="448.93" r="1.7"/><circle cx="285.55" cy="448.93" r="1.7"/><circle cx="287.18" cy="446.98" r="1.7"/><circle cx="288.81" cy="446.98" r="1.7"/><circle cx="290.44" cy="446.98" r="1.7"/><circle cx="292.07" cy="445.02" r="1.7"/><circle cx="293.71" cy="445.02" r="1.7"/><circle cx="295.34" cy="445.02" r="1.7"/><circle cx="296.97" cy="445.02" r="1.7"/><circle cx="298.60" cy="445.02" r="1.7"/><circle cx="300.23" cy="445.02" r="1.7"/><circle cx="301.87" cy="445.02" r="1.7"/><circle cx="303.50" cy="445.02" r="1.7"/><circle cx="305.13" cy="443.07" r="1.7"/><circle cx="306.76" cy="439.17" r="1.7"/><circle cx="308.39" cy="429.40" r="1.7"/><circle cx="310.02" cy="423.55" r="1.7"/><circle cx="311.66" cy="421.60" r="1.7"/><circle cx="313.29" cy="421.60" r="1.7"/><circle cx="314.92" cy="404.02" r="1.7"/><circle cx="316.55" cy="404.02" r="1.7"/><circle cx="318.18" cy="405.98" r="1.7"/><circle cx="319.82" cy="404.02" r="1.7"/><circle cx="321.45" cy="404.02" r="1.7"/><circle cx="323.08" cy="392.31" r="1.7"/><circle cx="324.71" cy="392.31" r="1.7"/><circle cx="326.34" cy="392.31" r="1.7"/><circle cx="327.97" cy="392.31" r="1.7"/><circle cx="329.61" cy="370.83" r="1.7"/><circle cx="331.24" cy="370.83" r="1.7"/><circle cx="332.87" cy="380.59" r="1.7"/><circle cx="334.50" cy="380.59" r="1.7"/><circle cx="336.13" cy="384.50" r="1.7"/><circle cx="337.76" cy="384.50" r="1.7"/><circle cx="339.40" cy="384.50" r="1.7"/><circle cx="341.03" cy="384.50" r="1.7"/><circle cx="342.66" cy="374.74" r="1.7"/><circle cx="344.29" cy="374.74" r="1.7"/><circle cx="345.92" cy="378.64" r="1.7"/><circle cx="347.56" cy="388.40" r="1.7"/><circle cx="349.19" cy="396.21" r="1.7"/><circle cx="350.82" cy="402.07" r="1.7"/><circle cx="352.45" cy="405.98" r="1.7"/><circle cx="354.08" cy="413.78" r="1.7"/><circle cx="355.71" cy="413.78" r="1.7"/><circle cx="357.35" cy="413.78" r="1.7"/><circle cx="358.98" cy="413.78" r="1.7"/><circle cx="360.61" cy="413.78" r="1.7"/><circle cx="362.24" cy="413.78" r="1.7"/><circle cx="363.87" cy="413.78" r="1.7"/><circle cx="365.51" cy="413.78" r="1.7"/><circle cx="367.14" cy="413.78" r="1.7"/><circle cx="368.77" cy="413.78" r="1.7"/><circle cx="370.40" cy="413.78" r="1.7"/><circle cx="372.03" cy="413.78" r="1.7"/><circle cx="373.66" cy="437.22" r="1.7"/><circle cx="375.30" cy="437.22" r="1.7"/><circle cx="376.93" cy="437.22" r="1.7"/><circle cx="378.56" cy="437.22" r="1.7"/><circle cx="380.19" cy="437.22" r="1.7"/><circle cx="381.82" cy="437.22" r="1.7"/><circle cx="383.46" cy="437.22" r="1.7"/><circle cx="385.09" cy="437.22" r="1.7"/><circle cx="386.72" cy="439.17" r="1.7"/><circle cx="388.35" cy="439.17" r="1.7"/><circle cx="389.98" cy="439.17" r="1.7"/><circle cx="391.61" cy="439.17" r="1.7"/><circle cx="393.25" cy="439.17" r="1.7"/><circle cx="394.88" cy="439.17" r="1.7"/><circle cx="396.51" cy="439.17" r="1.7"/><circle cx="398.14" cy="439.17" r="1.7"/><circle cx="399.77" cy="439.17" r="1.7"/><circle cx="401.41" cy="437.22" r="1.7"/><circle cx="403.04" cy="437.22" r="1.7"/><circle cx="404.67" cy="435.26" r="1.7"/><circle cx="406.30" cy="435.26" r="1.7"/><circle cx="407.93" cy="439.17" r="1.7"/><circle cx="409.56" cy="439.17" r="1.7"/><circle cx="411.20" cy="441.12" r="1.7"/><circle cx="412.83" cy="439.17" r="1.7"/><circle cx="414.46" cy="431.36" r="1.7"/><circle cx="416.09" cy="431.36" r="1.7"/><circle cx="417.72" cy="431.36" r="1.7"/><circle cx="419.35" cy="431.36" r="1.7"/><circle cx="420.99" cy="431.36" r="1.7"/><circle cx="422.62" cy="429.40" r="1.7"/><circle cx="424.25" cy="423.55" r="1.7"/><circle cx="425.88" cy="419.64" r="1.7"/><circle cx="427.51" cy="417.69" r="1.7"/><circle cx="429.15" cy="419.64" r="1.7"/><circle cx="430.78" cy="419.64" r="1.7"/><circle cx="432.41" cy="419.64" r="1.7"/><circle cx="434.04" cy="421.60" r="1.7"/><circle cx="435.67" cy="421.60" r="1.7"/><circle cx="437.30" cy="423.55" r="1.7"/><circle cx="438.94" cy="429.40" r="1.7"/><circle cx="440.57" cy="431.36" r="1.7"/><circle cx="442.20" cy="431.36" r="1.7"/><circle cx="443.83" cy="427.45" r="1.7"/><circle cx="445.46" cy="419.64" r="1.7"/><circle cx="447.10" cy="405.98" r="1.7"/><circle cx="448.73" cy="404.02" r="1.7"/><circle cx="450.36" cy="400.12" r="1.7"/><circle cx="451.99" cy="400.12" r="1.7"/><circle cx="453.62" cy="400.12" r="1.7"/><circle cx="455.25" cy="400.12" r="1.7"/><circle cx="456.89" cy="404.02" r="1.7"/><circle cx="458.52" cy="407.93" r="1.7"/><circle cx="460.15" cy="415.74" r="1.7"/><circle cx="461.78" cy="417.69" r="1.7"/><circle cx="463.41" cy="417.69" r="1.7"/><circle cx="465.05" cy="417.69" r="1.7"/><circle cx="466.68" cy="413.78" r="1.7"/><circle cx="468.31" cy="405.98" r="1.7"/><circle cx="469.94" cy="400.12" r="1.7"/><circle cx="471.57" cy="396.21" r="1.7"/><circle cx="473.20" cy="396.21" r="1.7"/><circle cx="474.84" cy="396.21" r="1.7"/><circle cx="476.47" cy="396.21" r="1.7"/><circle cx="478.10" cy="398.16" r="1.7"/><circle cx="479.73" cy="405.98" r="1.7"/><circle cx="481.36" cy="407.93" r="1.7"/><circle cx="483.00" cy="409.88" r="1.7"/><circle cx="484.63" cy="409.88" r="1.7"/><circle cx="486.26" cy="411.83" r="1.7"/><circle cx="487.89" cy="411.83" r="1.7"/><circle cx="489.52" cy="413.78" r="1.7"/><circle cx="491.15" cy="413.78" r="1.7"/><circle cx="492.79" cy="415.74" r="1.7"/><circle cx="494.42" cy="417.69" r="1.7"/><circle cx="496.05" cy="427.45" r="1.7"/><circle cx="497.68" cy="427.45" r="1.7"/><circle cx="499.31" cy="429.40" r="1.7"/><circle cx="500.94" cy="431.36" r="1.7"/><circle cx="502.58" cy="431.36" r="1.7"/><circle cx="504.21" cy="433.31" r="1.7"/><circle cx="505.84" cy="435.26" r="1.7"/><circle cx="507.47" cy="437.22" r="1.7"/><circle cx="509.10" cy="439.17" r="1.7"/><circle cx="510.74" cy="439.17" r="1.7"/><circle cx="512.37" cy="429.40" r="1.7"/><circle cx="514.00" cy="433.31" r="1.7"/><circle cx="515.63" cy="433.31" r="1.7"/><circle cx="517.26" cy="433.31" r="1.7"/><circle cx="518.89" cy="433.31" r="1.7"/><circle cx="520.53" cy="433.31" r="1.7"/><circle cx="522.16" cy="431.36" r="1.7"/><circle cx="523.79" cy="431.36" r="1.7"/><circle cx="525.42" cy="429.40" r="1.7"/><circle cx="527.05" cy="429.40" r="1.7"/><circle cx="528.69" cy="435.26" r="1.7"/><circle cx="530.32" cy="441.12" r="1.7"/><circle cx="531.95" cy="443.07" r="1.7"/><circle cx="533.58" cy="441.12" r="1.7"/><circle cx="535.21" cy="441.12" r="1.7"/><circle cx="536.84" cy="439.17" r="1.7"/><circle cx="538.48" cy="439.17" r="1.7"/><circle cx="540.11" cy="439.17" r="1.7"/><circle cx="541.74" cy="437.22" r="1.7"/><circle cx="543.37" cy="437.22" r="1.7"/><circle cx="545.00" cy="407.93" r="1.7"/><circle cx="546.64" cy="396.21" r="1.7"/><circle cx="548.27" cy="390.36" r="1.7"/><circle cx="549.90" cy="388.40" r="1.7"/><circle cx="551.53" cy="394.26" r="1.7"/><circle cx="553.16" cy="396.21" r="1.7"/><circle cx="554.79" cy="402.07" r="1.7"/><circle cx="556.43" cy="407.93" r="1.7"/><circle cx="558.06" cy="411.83" r="1.7"/><circle cx="559.69" cy="417.69" r="1.7"/><circle cx="561.32" cy="433.31" r="1.7"/><circle cx="562.95" cy="441.12" r="1.7"/><circle cx="564.59" cy="443.07" r="1.7"/><circle cx="566.22" cy="423.55" r="1.7"/><circle cx="567.85" cy="423.55" r="1.7"/><circle cx="569.48" cy="404.02" r="1.7"/><circle cx="571.11" cy="404.02" r="1.7"/><circle cx="572.74" cy="407.93" r="1.7"/><circle cx="574.38" cy="409.88" r="1.7"/><circle cx="576.01" cy="398.16" r="1.7"/><circle cx="577.64" cy="386.45" r="1.7"/><circle cx="579.27" cy="386.45" r="1.7"/><circle cx="580.90" cy="390.36" r="1.7"/><circle cx="582.53" cy="400.12" r="1.7"/><circle cx="584.17" cy="405.98" r="1.7"/><circle cx="585.80" cy="407.93" r="1.7"/><circle cx="587.43" cy="413.78" r="1.7"/><circle cx="589.06" cy="413.78" r="1.7"/><circle cx="590.69" cy="413.78" r="1.7"/><circle cx="592.33" cy="431.36" r="1.7"/><circle cx="593.96" cy="437.22" r="1.7"/><circle cx="595.59" cy="435.26" r="1.7"/><circle cx="597.22" cy="433.31" r="1.7"/><circle cx="598.85" cy="417.69" r="1.7"/><circle cx="600.48" cy="411.83" r="1.7"/><circle cx="602.12" cy="415.74" r="1.7"/><circle cx="603.75" cy="419.64" r="1.7"/><circle cx="605.38" cy="421.60" r="1.7"/><circle cx="607.01" cy="425.50" r="1.7"/><circle cx="608.64" cy="423.55" r="1.7"/><circle cx="610.28" cy="423.55" r="1.7"/><circle cx="611.91" cy="423.55" r="1.7"/><circle cx="613.54" cy="423.55" r="1.7"/><circle cx="615.17" cy="431.36" r="1.7"/><circle cx="616.80" cy="437.22" r="1.7"/><circle cx="618.43" cy="437.22" r="1.7"/><circle cx="620.07" cy="435.26" r="1.7"/><circle cx="621.70" cy="435.26" r="1.7"/><circle cx="623.33" cy="435.26" r="1.7"/><circle cx="624.96" cy="435.26" r="1.7"/><circle cx="626.59" cy="435.26" r="1.7"/><circle cx="628.23" cy="437.22" r="1.7"/></g>
</g>
<rect x="142.90" y="334.70" width="22.9" height="6.9" fill="#d2173f" fill-opacity="0.22" stroke="#d2173f" stroke-width="0.8"/>
<text class="lg" x="170.00" y="340.20">USG/Brazil 38kt</text>
<rect x="225.30" y="334.70" width="22.9" height="6.9" fill="#70f0c8" fill-opacity="0.22" stroke="#70f0c8" stroke-width="0.8"/>
<text class="lg" x="252.40" y="340.20">Spore/Australia 35kt</text>
<rect x="322.90" y="334.70" width="22.9" height="6.9" fill="#37535f" fill-opacity="0.22" stroke="#37535f" stroke-width="0.8"/>
<text class="lg" x="350.00" y="340.20">Mid East/Japan 75kt</text>
<rect x="420.70" y="334.70" width="22.9" height="6.9" fill="#aedbe3" fill-opacity="0.22" stroke="#aedbe3" stroke-width="0.8"/>
<text class="lg" x="446.80" y="340.20">Mid East/Japan 55kt</text>
</svg>
</body></html>
